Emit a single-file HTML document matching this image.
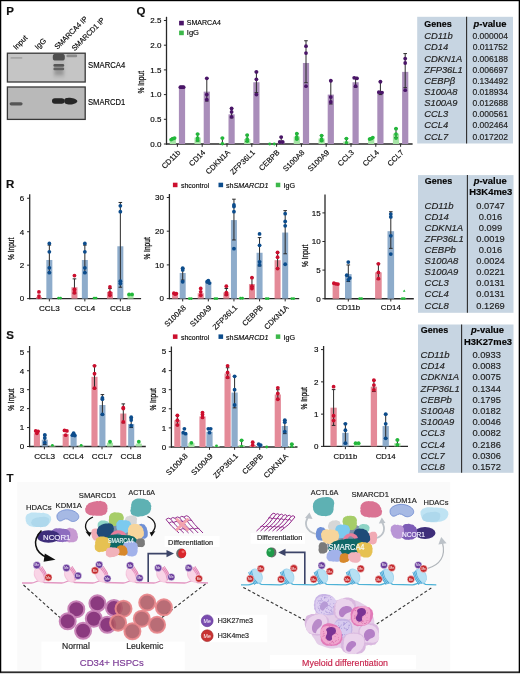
<!DOCTYPE html><html><head><meta charset="utf-8"><style>html,body{margin:0;padding:0;background:#fff;}svg{display:block;will-change:transform;}text{font-family:"Liberation Sans", sans-serif;}</style></head><body>
<svg width="520" height="674" viewBox="0 0 520 674">
<rect x="0" y="0" width="520" height="674" fill="#ffffff"/>
<text x="6.30" y="14.90" font-size="11.5" stroke="#111" stroke-width="0.16" font-weight="bold" fill="#111">P</text>
<text x="16.20" y="50.20" font-size="7.6" stroke="#1a1a1a" stroke-width="0.16" textLength="16.80" lengthAdjust="spacingAndGlyphs" transform="rotate(-45 16.20 50.20)">Input</text>
<text x="37.80" y="50.00" font-size="7.6" stroke="#1a1a1a" stroke-width="0.16" textLength="12.60" lengthAdjust="spacingAndGlyphs" transform="rotate(-45 37.80 50.00)">IgG</text>
<text x="57.60" y="49.80" font-size="7.6" stroke="#1a1a1a" stroke-width="0.16" textLength="43.00" lengthAdjust="spacingAndGlyphs" transform="rotate(-45 57.60 49.80)">SMARCA4 IP</text>
<text x="74.80" y="51.20" font-size="7.6" stroke="#1a1a1a" stroke-width="0.16" textLength="43.00" lengthAdjust="spacingAndGlyphs" transform="rotate(-45 74.80 51.20)">SMARCD1 IP</text>
<defs><filter id="bl1" x="-20%" y="-50%" width="140%" height="200%"><feGaussianBlur stdDeviation="0.9"/></filter><filter id="bl2" x="-20%" y="-50%" width="140%" height="200%"><feGaussianBlur stdDeviation="0.6"/></filter><filter id="bl3" x="-50%" y="-50%" width="200%" height="200%"><feGaussianBlur stdDeviation="1.6"/></filter></defs>
<rect x="7.4" y="53.2" width="77.8" height="28.8" fill="#c5c5c5" stroke="#383838" stroke-width="1.3"/>
<rect x="7.4" y="87.0" width="77.8" height="32.4" fill="#b9b9b9" stroke="#383838" stroke-width="1.3"/>
<g filter="url(#bl3)"><rect x="53.5" y="56" width="11" height="22" fill="#b8b8b8"/><rect x="54.5" y="69" width="9" height="6" fill="#969696"/></g>
<g filter="url(#bl2)"><rect x="52.8" y="53.8" width="12.0" height="6.8" rx="2.6" fill="#505050"/><rect x="53.4" y="64.0" width="10.8" height="2.7" rx="1.3" fill="#575757"/><rect x="53.4" y="67.6" width="10.8" height="2.6" rx="1.3" fill="#606060"/><rect x="66.4" y="54.6" width="10.8" height="2.6" rx="1.3" fill="#8c8c8c"/><rect x="10.4" y="57.0" width="12" height="1.8" rx="0.9" fill="#a6a6a6"/></g>
<g filter="url(#bl2)"><rect x="52.0" y="98.2" width="12.6" height="5.6" rx="2.8" fill="#252525"/><path d="M64.2,100.8 C64.2,98.4 66,97.8 70,97.8 C74,98.2 77,99.6 77.4,101.2 C77,102.8 74,104.3 70,104.6 C66,104.6 64.2,103.4 64.2,100.8Z" fill="#252525"/><rect x="9.6" y="102.2" width="13" height="3.2" rx="1.6" fill="#575757"/></g>
<text x="88.00" y="67.60" font-size="8.8" stroke="#1a1a1a" stroke-width="0.16" textLength="37.20" lengthAdjust="spacingAndGlyphs">SMARCA4</text>
<text x="88.00" y="104.80" font-size="8.8" stroke="#1a1a1a" stroke-width="0.16" textLength="37.20" lengthAdjust="spacingAndGlyphs">SMARCD1</text>
<text x="136.60" y="15.10" font-size="11.5" stroke="#111" stroke-width="0.16" font-weight="bold" fill="#111">Q</text>
<line x1="166.5" y1="16.8" x2="166.5" y2="144.6" stroke="#282828" stroke-width="1.3"/>
<line x1="166.0" y1="144.0" x2="412.6" y2="144.0" stroke="#282828" stroke-width="1.35"/>
<line x1="163.9" y1="144.00" x2="166.5" y2="144.00" stroke="#282828" stroke-width="1"/>
<text x="161.40" y="146.85" font-size="8.0" stroke="#1a1a1a" stroke-width="0.16" text-anchor="end">0.0</text>
<line x1="163.9" y1="119.30" x2="166.5" y2="119.30" stroke="#282828" stroke-width="1"/>
<text x="161.40" y="122.15" font-size="8.0" stroke="#1a1a1a" stroke-width="0.16" text-anchor="end">0.5</text>
<line x1="163.9" y1="94.60" x2="166.5" y2="94.60" stroke="#282828" stroke-width="1"/>
<text x="161.40" y="97.45" font-size="8.0" stroke="#1a1a1a" stroke-width="0.16" text-anchor="end">1.0</text>
<line x1="163.9" y1="69.90" x2="166.5" y2="69.90" stroke="#282828" stroke-width="1"/>
<text x="161.40" y="72.75" font-size="8.0" stroke="#1a1a1a" stroke-width="0.16" text-anchor="end">1.5</text>
<line x1="163.9" y1="45.20" x2="166.5" y2="45.20" stroke="#282828" stroke-width="1"/>
<text x="161.40" y="48.05" font-size="8.0" stroke="#1a1a1a" stroke-width="0.16" text-anchor="end">2.0</text>
<line x1="163.9" y1="20.50" x2="166.5" y2="20.50" stroke="#282828" stroke-width="1"/>
<text x="161.40" y="23.35" font-size="8.0" stroke="#1a1a1a" stroke-width="0.16" text-anchor="end">2.5</text>
<line x1="177.4" y1="144.0" x2="177.4" y2="146.8" stroke="#282828" stroke-width="1"/>
<rect x="169.70" y="139.06" width="6.2" height="4.94" fill="#a6e4a6"/>
<line x1="172.80" y1="138.07" x2="172.80" y2="139.55" stroke="#2a2a2a" stroke-width="1"/>
<line x1="171.00" y1="138.07" x2="174.60" y2="138.07" stroke="#2a2a2a" stroke-width="1"/>
<line x1="171.00" y1="139.55" x2="174.60" y2="139.55" stroke="#2a2a2a" stroke-width="1"/>
<circle cx="171.20" cy="139.55" r="1.9" fill="#22b83a"/>
<circle cx="173.00" cy="138.57" r="1.9" fill="#22b83a"/>
<circle cx="174.60" cy="138.07" r="1.9" fill="#22b83a"/>
<rect x="178.90" y="87.19" width="6.2" height="56.81" fill="#a98dba"/>
<line x1="182.00" y1="86.20" x2="182.00" y2="88.18" stroke="#2a2a2a" stroke-width="1"/>
<line x1="180.20" y1="86.20" x2="183.80" y2="86.20" stroke="#2a2a2a" stroke-width="1"/>
<line x1="180.20" y1="88.18" x2="183.80" y2="88.18" stroke="#2a2a2a" stroke-width="1"/>
<circle cx="180.40" cy="87.19" r="1.9" fill="#4a1568"/>
<circle cx="182.00" cy="87.19" r="1.9" fill="#4a1568"/>
<circle cx="183.60" cy="87.19" r="1.9" fill="#4a1568"/>
<line x1="202.20000000000002" y1="144.0" x2="202.20000000000002" y2="146.8" stroke="#282828" stroke-width="1"/>
<rect x="194.50" y="137.58" width="6.2" height="6.42" fill="#a6e4a6"/>
<line x1="197.60" y1="134.12" x2="197.60" y2="141.04" stroke="#2a2a2a" stroke-width="1"/>
<line x1="195.80" y1="134.12" x2="199.40" y2="134.12" stroke="#2a2a2a" stroke-width="1"/>
<line x1="195.80" y1="141.04" x2="199.40" y2="141.04" stroke="#2a2a2a" stroke-width="1"/>
<circle cx="197.60" cy="134.12" r="1.9" fill="#22b83a"/>
<circle cx="197.60" cy="138.07" r="1.9" fill="#22b83a"/>
<circle cx="197.60" cy="140.05" r="1.9" fill="#22b83a"/>
<rect x="203.70" y="91.64" width="6.2" height="52.36" fill="#a98dba"/>
<line x1="206.80" y1="78.30" x2="206.80" y2="101.02" stroke="#2a2a2a" stroke-width="1"/>
<line x1="205.00" y1="78.30" x2="208.60" y2="78.30" stroke="#2a2a2a" stroke-width="1"/>
<line x1="205.00" y1="101.02" x2="208.60" y2="101.02" stroke="#2a2a2a" stroke-width="1"/>
<circle cx="206.80" cy="78.30" r="1.9" fill="#4a1568"/>
<circle cx="206.80" cy="94.60" r="1.9" fill="#4a1568"/>
<circle cx="206.80" cy="99.54" r="1.9" fill="#4a1568"/>
<line x1="227.0" y1="144.0" x2="227.0" y2="146.8" stroke="#282828" stroke-width="1"/>
<rect x="219.30" y="143.01" width="6.2" height="0.99" fill="#a6e4a6"/>
<line x1="222.40" y1="138.07" x2="222.40" y2="144.00" stroke="#2a2a2a" stroke-width="1"/>
<line x1="220.60" y1="138.07" x2="224.20" y2="138.07" stroke="#2a2a2a" stroke-width="1"/>
<line x1="220.60" y1="144.00" x2="224.20" y2="144.00" stroke="#2a2a2a" stroke-width="1"/>
<circle cx="222.40" cy="138.07" r="1.9" fill="#22b83a"/>
<circle cx="222.40" cy="143.51" r="1.4" fill="#22b83a"/>
<circle cx="222.40" cy="144.00" r="1.4" fill="#22b83a"/>
<rect x="228.50" y="114.36" width="6.2" height="29.64" fill="#a98dba"/>
<line x1="231.60" y1="108.43" x2="231.60" y2="117.82" stroke="#2a2a2a" stroke-width="1"/>
<line x1="229.80" y1="108.43" x2="233.40" y2="108.43" stroke="#2a2a2a" stroke-width="1"/>
<line x1="229.80" y1="117.82" x2="233.40" y2="117.82" stroke="#2a2a2a" stroke-width="1"/>
<circle cx="231.60" cy="108.43" r="1.9" fill="#4a1568"/>
<circle cx="231.60" cy="111.89" r="1.9" fill="#4a1568"/>
<circle cx="231.60" cy="116.83" r="1.9" fill="#4a1568"/>
<line x1="251.8" y1="144.0" x2="251.8" y2="146.8" stroke="#282828" stroke-width="1"/>
<rect x="244.10" y="139.06" width="6.2" height="4.94" fill="#a6e4a6"/>
<line x1="247.20" y1="135.11" x2="247.20" y2="141.53" stroke="#2a2a2a" stroke-width="1"/>
<line x1="245.40" y1="135.11" x2="249.00" y2="135.11" stroke="#2a2a2a" stroke-width="1"/>
<line x1="245.40" y1="141.53" x2="249.00" y2="141.53" stroke="#2a2a2a" stroke-width="1"/>
<circle cx="247.20" cy="135.11" r="1.9" fill="#22b83a"/>
<circle cx="247.20" cy="139.06" r="1.9" fill="#22b83a"/>
<circle cx="247.20" cy="141.04" r="1.9" fill="#22b83a"/>
<rect x="253.30" y="82.25" width="6.2" height="61.75" fill="#a98dba"/>
<line x1="256.40" y1="71.88" x2="256.40" y2="92.62" stroke="#2a2a2a" stroke-width="1"/>
<line x1="254.60" y1="71.88" x2="258.20" y2="71.88" stroke="#2a2a2a" stroke-width="1"/>
<line x1="254.60" y1="92.62" x2="258.20" y2="92.62" stroke="#2a2a2a" stroke-width="1"/>
<circle cx="256.40" cy="71.88" r="1.9" fill="#4a1568"/>
<circle cx="256.40" cy="79.29" r="1.9" fill="#4a1568"/>
<circle cx="256.40" cy="94.60" r="1.9" fill="#4a1568"/>
<line x1="276.6" y1="144.0" x2="276.6" y2="146.8" stroke="#282828" stroke-width="1"/>
<circle cx="269.70" cy="144.00" r="1.4" fill="#22b83a"/>
<circle cx="274.30" cy="144.00" r="1.4" fill="#22b83a"/>
<rect x="278.10" y="141.04" width="6.2" height="2.96" fill="#a98dba"/>
<line x1="281.20" y1="137.08" x2="281.20" y2="143.01" stroke="#2a2a2a" stroke-width="1"/>
<line x1="279.40" y1="137.08" x2="283.00" y2="137.08" stroke="#2a2a2a" stroke-width="1"/>
<line x1="279.40" y1="143.01" x2="283.00" y2="143.01" stroke="#2a2a2a" stroke-width="1"/>
<circle cx="281.20" cy="137.08" r="1.9" fill="#4a1568"/>
<circle cx="279.70" cy="142.02" r="1.9" fill="#4a1568"/>
<circle cx="282.70" cy="142.02" r="1.9" fill="#4a1568"/>
<line x1="301.4" y1="144.0" x2="301.4" y2="146.8" stroke="#282828" stroke-width="1"/>
<rect x="293.70" y="136.59" width="6.2" height="7.41" fill="#a6e4a6"/>
<line x1="296.80" y1="133.63" x2="296.80" y2="139.06" stroke="#2a2a2a" stroke-width="1"/>
<line x1="295.00" y1="133.63" x2="298.60" y2="133.63" stroke="#2a2a2a" stroke-width="1"/>
<line x1="295.00" y1="139.06" x2="298.60" y2="139.06" stroke="#2a2a2a" stroke-width="1"/>
<circle cx="296.80" cy="133.63" r="1.9" fill="#22b83a"/>
<circle cx="296.80" cy="137.08" r="1.9" fill="#22b83a"/>
<circle cx="296.80" cy="139.06" r="1.9" fill="#22b83a"/>
<rect x="302.90" y="62.98" width="6.2" height="81.02" fill="#a98dba"/>
<line x1="306.00" y1="40.75" x2="306.00" y2="82.74" stroke="#2a2a2a" stroke-width="1"/>
<line x1="304.20" y1="40.75" x2="307.80" y2="40.75" stroke="#2a2a2a" stroke-width="1"/>
<line x1="304.20" y1="82.74" x2="307.80" y2="82.74" stroke="#2a2a2a" stroke-width="1"/>
<circle cx="306.00" cy="46.19" r="1.9" fill="#4a1568"/>
<circle cx="306.00" cy="53.10" r="1.9" fill="#4a1568"/>
<circle cx="306.00" cy="86.20" r="1.9" fill="#4a1568"/>
<line x1="326.20000000000005" y1="144.0" x2="326.20000000000005" y2="146.8" stroke="#282828" stroke-width="1"/>
<rect x="318.50" y="138.57" width="6.2" height="5.43" fill="#a6e4a6"/>
<line x1="321.60" y1="135.60" x2="321.60" y2="141.04" stroke="#2a2a2a" stroke-width="1"/>
<line x1="319.80" y1="135.60" x2="323.40" y2="135.60" stroke="#2a2a2a" stroke-width="1"/>
<line x1="319.80" y1="141.04" x2="323.40" y2="141.04" stroke="#2a2a2a" stroke-width="1"/>
<circle cx="321.60" cy="135.60" r="1.9" fill="#22b83a"/>
<circle cx="321.60" cy="139.06" r="1.9" fill="#22b83a"/>
<circle cx="321.60" cy="140.54" r="1.9" fill="#22b83a"/>
<rect x="327.70" y="94.60" width="6.2" height="49.40" fill="#a98dba"/>
<line x1="330.80" y1="80.77" x2="330.80" y2="103.99" stroke="#2a2a2a" stroke-width="1"/>
<line x1="329.00" y1="80.77" x2="332.60" y2="80.77" stroke="#2a2a2a" stroke-width="1"/>
<line x1="329.00" y1="103.99" x2="332.60" y2="103.99" stroke="#2a2a2a" stroke-width="1"/>
<circle cx="330.80" cy="80.77" r="1.9" fill="#4a1568"/>
<circle cx="330.80" cy="97.07" r="1.9" fill="#4a1568"/>
<circle cx="330.80" cy="102.01" r="1.9" fill="#4a1568"/>
<line x1="351.0" y1="144.0" x2="351.0" y2="146.8" stroke="#282828" stroke-width="1"/>
<rect x="343.30" y="141.53" width="6.2" height="2.47" fill="#a6e4a6"/>
<line x1="346.40" y1="138.57" x2="346.40" y2="144.00" stroke="#2a2a2a" stroke-width="1"/>
<line x1="344.60" y1="138.57" x2="348.20" y2="138.57" stroke="#2a2a2a" stroke-width="1"/>
<line x1="344.60" y1="144.00" x2="348.20" y2="144.00" stroke="#2a2a2a" stroke-width="1"/>
<circle cx="346.40" cy="138.57" r="1.9" fill="#22b83a"/>
<circle cx="346.40" cy="142.52" r="1.4" fill="#22b83a"/>
<circle cx="346.40" cy="143.01" r="1.4" fill="#22b83a"/>
<rect x="352.50" y="82.25" width="6.2" height="61.75" fill="#a98dba"/>
<line x1="355.60" y1="77.31" x2="355.60" y2="87.19" stroke="#2a2a2a" stroke-width="1"/>
<line x1="353.80" y1="77.31" x2="357.40" y2="77.31" stroke="#2a2a2a" stroke-width="1"/>
<line x1="353.80" y1="87.19" x2="357.40" y2="87.19" stroke="#2a2a2a" stroke-width="1"/>
<circle cx="354.20" cy="77.80" r="1.9" fill="#4a1568"/>
<circle cx="357.00" cy="78.30" r="1.9" fill="#4a1568"/>
<circle cx="355.60" cy="86.20" r="1.9" fill="#4a1568"/>
<line x1="375.8" y1="144.0" x2="375.8" y2="146.8" stroke="#282828" stroke-width="1"/>
<rect x="368.10" y="138.57" width="6.2" height="5.43" fill="#a6e4a6"/>
<line x1="371.20" y1="138.07" x2="371.20" y2="139.06" stroke="#2a2a2a" stroke-width="1"/>
<line x1="369.40" y1="138.07" x2="373.00" y2="138.07" stroke="#2a2a2a" stroke-width="1"/>
<line x1="369.40" y1="139.06" x2="373.00" y2="139.06" stroke="#2a2a2a" stroke-width="1"/>
<circle cx="369.60" cy="139.06" r="1.9" fill="#22b83a"/>
<circle cx="371.20" cy="138.57" r="1.9" fill="#22b83a"/>
<circle cx="372.80" cy="137.58" r="1.9" fill="#22b83a"/>
<rect x="377.30" y="91.14" width="6.2" height="52.86" fill="#a98dba"/>
<line x1="380.40" y1="81.76" x2="380.40" y2="94.60" stroke="#2a2a2a" stroke-width="1"/>
<line x1="378.60" y1="81.76" x2="382.20" y2="81.76" stroke="#2a2a2a" stroke-width="1"/>
<line x1="378.60" y1="94.60" x2="382.20" y2="94.60" stroke="#2a2a2a" stroke-width="1"/>
<circle cx="380.40" cy="81.76" r="1.9" fill="#4a1568"/>
<circle cx="378.90" cy="92.13" r="1.9" fill="#4a1568"/>
<circle cx="381.90" cy="92.62" r="1.9" fill="#4a1568"/>
<line x1="400.6" y1="144.0" x2="400.6" y2="146.8" stroke="#282828" stroke-width="1"/>
<rect x="392.90" y="133.63" width="6.2" height="10.37" fill="#a6e4a6"/>
<line x1="396.00" y1="128.69" x2="396.00" y2="137.58" stroke="#2a2a2a" stroke-width="1"/>
<line x1="394.20" y1="128.69" x2="397.80" y2="128.69" stroke="#2a2a2a" stroke-width="1"/>
<line x1="394.20" y1="137.58" x2="397.80" y2="137.58" stroke="#2a2a2a" stroke-width="1"/>
<circle cx="396.00" cy="128.69" r="1.9" fill="#22b83a"/>
<circle cx="396.00" cy="134.12" r="1.9" fill="#22b83a"/>
<circle cx="396.00" cy="138.07" r="1.9" fill="#22b83a"/>
<rect x="402.10" y="71.88" width="6.2" height="72.12" fill="#a98dba"/>
<line x1="405.20" y1="53.60" x2="405.20" y2="87.68" stroke="#2a2a2a" stroke-width="1"/>
<line x1="403.40" y1="53.60" x2="407.00" y2="53.60" stroke="#2a2a2a" stroke-width="1"/>
<line x1="403.40" y1="87.68" x2="407.00" y2="87.68" stroke="#2a2a2a" stroke-width="1"/>
<circle cx="405.20" cy="58.54" r="1.9" fill="#4a1568"/>
<circle cx="405.20" cy="62.98" r="1.9" fill="#4a1568"/>
<circle cx="405.20" cy="90.15" r="1.9" fill="#4a1568"/>
<text x="181.00" y="153.00" font-size="7.6" stroke="#1a1a1a" stroke-width="0.16" text-anchor="end" transform="rotate(-45 181.00 153.00)">CD11b</text>
<text x="205.80" y="153.00" font-size="7.6" stroke="#1a1a1a" stroke-width="0.16" text-anchor="end" transform="rotate(-45 205.80 153.00)">CD14</text>
<text x="230.60" y="153.00" font-size="7.6" stroke="#1a1a1a" stroke-width="0.16" text-anchor="end" transform="rotate(-45 230.60 153.00)">CDKN1A</text>
<text x="255.40" y="153.00" font-size="7.6" stroke="#1a1a1a" stroke-width="0.16" text-anchor="end" transform="rotate(-45 255.40 153.00)">ZFP36L1</text>
<text x="280.20" y="153.00" font-size="7.6" stroke="#1a1a1a" stroke-width="0.16" text-anchor="end" transform="rotate(-45 280.20 153.00)">CEBPB</text>
<text x="305.00" y="153.00" font-size="7.6" stroke="#1a1a1a" stroke-width="0.16" text-anchor="end" transform="rotate(-45 305.00 153.00)">S100A8</text>
<text x="329.80" y="153.00" font-size="7.6" stroke="#1a1a1a" stroke-width="0.16" text-anchor="end" transform="rotate(-45 329.80 153.00)">S100A9</text>
<text x="354.60" y="153.00" font-size="7.6" stroke="#1a1a1a" stroke-width="0.16" text-anchor="end" transform="rotate(-45 354.60 153.00)">CCL3</text>
<text x="379.40" y="153.00" font-size="7.6" stroke="#1a1a1a" stroke-width="0.16" text-anchor="end" transform="rotate(-45 379.40 153.00)">CCL4</text>
<text x="404.20" y="153.00" font-size="7.6" stroke="#1a1a1a" stroke-width="0.16" text-anchor="end" transform="rotate(-45 404.20 153.00)">CCL7</text>
<text x="144.20" y="82.30" font-size="9.6" stroke="#1a1a1a" stroke-width="0.3" text-anchor="middle" textLength="22.60" lengthAdjust="spacingAndGlyphs" transform="rotate(-90 144.20 82.30)">% Input</text>
<rect x="179.1" y="20.8" width="4.7" height="4.6" fill="#4a1568"/>
<text x="186.80" y="25.20" font-size="8.0" stroke="#1a1a1a" stroke-width="0.16" textLength="34.00" lengthAdjust="spacingAndGlyphs">SMARCA4</text>
<rect x="179.1" y="30.6" width="4.7" height="4.6" fill="#3cb84a"/>
<text x="186.80" y="35.00" font-size="8.0" stroke="#1a1a1a" stroke-width="0.16" textLength="12.20" lengthAdjust="spacingAndGlyphs">IgG</text>
<rect x="417.2" y="16.8" width="95.80000000000001" height="126.7" fill="#c7d5e2"/>
<line x1="466.6" y1="16.8" x2="466.6" y2="143.5" stroke="#2b2b2b" stroke-width="1.1"/>
<text x="424.30" y="26.50" font-size="9.0" stroke="#050505" stroke-width="0.16" font-weight="bold" fill="#050505" textLength="27.30" lengthAdjust="spacingAndGlyphs">Genes</text>
<text x="490.00" y="26.50" font-size="9.0" stroke="#050505" stroke-width="0.16" text-anchor="middle" font-weight="bold" fill="#050505" textLength="33.00" lengthAdjust="spacingAndGlyphs"><tspan font-style="italic">p</tspan>-value</text>
<text x="424.20" y="39.30" font-size="9.4" stroke="#222" stroke-width="0.16" font-style="italic" fill="#222">CD11b</text>
<text x="490.20" y="39.30" font-size="8.5" stroke="#222" stroke-width="0.16" text-anchor="middle" fill="#222">0.000004</text>
<text x="424.20" y="50.44" font-size="9.4" stroke="#222" stroke-width="0.16" font-style="italic" fill="#222">CD14</text>
<text x="490.20" y="50.44" font-size="8.5" stroke="#222" stroke-width="0.16" text-anchor="middle" fill="#222">0.011752</text>
<text x="424.20" y="61.58" font-size="9.4" stroke="#222" stroke-width="0.16" font-style="italic" fill="#222">CDKN1A</text>
<text x="490.20" y="61.58" font-size="8.5" stroke="#222" stroke-width="0.16" text-anchor="middle" fill="#222">0.006188</text>
<text x="424.20" y="72.72" font-size="9.4" stroke="#222" stroke-width="0.16" font-style="italic" fill="#222">ZFP36L1</text>
<text x="490.20" y="72.72" font-size="8.5" stroke="#222" stroke-width="0.16" text-anchor="middle" fill="#222">0.006697</text>
<text x="424.20" y="83.86" font-size="9.4" stroke="#222" stroke-width="0.16" font-style="italic" fill="#222">CEBP&#946;</text>
<text x="490.20" y="83.86" font-size="8.5" stroke="#222" stroke-width="0.16" text-anchor="middle" fill="#222">0.134492</text>
<text x="424.20" y="95.00" font-size="9.4" stroke="#222" stroke-width="0.16" font-style="italic" fill="#222">S100A8</text>
<text x="490.20" y="95.00" font-size="8.5" stroke="#222" stroke-width="0.16" text-anchor="middle" fill="#222">0.018934</text>
<text x="424.20" y="106.14" font-size="9.4" stroke="#222" stroke-width="0.16" font-style="italic" fill="#222">S100A9</text>
<text x="490.20" y="106.14" font-size="8.5" stroke="#222" stroke-width="0.16" text-anchor="middle" fill="#222">0.012688</text>
<text x="424.20" y="117.28" font-size="9.4" stroke="#222" stroke-width="0.16" font-style="italic" fill="#222">CCL3</text>
<text x="490.20" y="117.28" font-size="8.5" stroke="#222" stroke-width="0.16" text-anchor="middle" fill="#222">0.000561</text>
<text x="424.20" y="128.42" font-size="9.4" stroke="#222" stroke-width="0.16" font-style="italic" fill="#222">CCL4</text>
<text x="490.20" y="128.42" font-size="8.5" stroke="#222" stroke-width="0.16" text-anchor="middle" fill="#222">0.002464</text>
<text x="424.20" y="139.56" font-size="9.4" stroke="#222" stroke-width="0.16" font-style="italic" fill="#222">CCL7</text>
<text x="490.20" y="139.56" font-size="8.5" stroke="#222" stroke-width="0.16" text-anchor="middle" fill="#222">0.017202</text>
<rect x="418.0" y="175.1" width="95.5" height="137.70000000000002" fill="#c7d5e2"/>
<line x1="467.4" y1="175.1" x2="467.4" y2="312.8" stroke="#2b2b2b" stroke-width="1.1"/>
<text x="424.80" y="184.30" font-size="9.0" stroke="#050505" stroke-width="0.16" font-weight="bold" fill="#050505" textLength="27.30" lengthAdjust="spacingAndGlyphs">Genes</text>
<text x="490.20" y="184.30" font-size="9.0" stroke="#050505" stroke-width="0.16" text-anchor="middle" font-weight="bold" fill="#050505" textLength="33.00" lengthAdjust="spacingAndGlyphs"><tspan font-style="italic">p</tspan>-value</text>
<text x="490.80" y="194.90" font-size="9.0" stroke="#050505" stroke-width="0.16" text-anchor="middle" font-weight="bold" fill="#050505" textLength="43.00" lengthAdjust="spacingAndGlyphs">H3K4me3</text>
<text x="424.60" y="208.80" font-size="9.5" stroke="#222" stroke-width="0.16" font-style="italic" fill="#222">CD11b</text>
<text x="490.50" y="208.80" font-size="9.3" stroke="#222" stroke-width="0.16" text-anchor="middle" fill="#222">0.0747</text>
<text x="424.60" y="219.88" font-size="9.5" stroke="#222" stroke-width="0.16" font-style="italic" fill="#222">CD14</text>
<text x="490.50" y="219.88" font-size="9.3" stroke="#222" stroke-width="0.16" text-anchor="middle" fill="#222">0.016</text>
<text x="424.60" y="230.96" font-size="9.5" stroke="#222" stroke-width="0.16" font-style="italic" fill="#222">CDKN1A</text>
<text x="490.50" y="230.96" font-size="9.3" stroke="#222" stroke-width="0.16" text-anchor="middle" fill="#222">0.099</text>
<text x="424.60" y="242.04" font-size="9.5" stroke="#222" stroke-width="0.16" font-style="italic" fill="#222">ZFP36L1</text>
<text x="490.50" y="242.04" font-size="9.3" stroke="#222" stroke-width="0.16" text-anchor="middle" fill="#222">0.0019</text>
<text x="424.60" y="253.12" font-size="9.5" stroke="#222" stroke-width="0.16" font-style="italic" fill="#222">CEBPb</text>
<text x="490.50" y="253.12" font-size="9.3" stroke="#222" stroke-width="0.16" text-anchor="middle" fill="#222">0.016</text>
<text x="424.60" y="264.20" font-size="9.5" stroke="#222" stroke-width="0.16" font-style="italic" fill="#222">S100A8</text>
<text x="490.50" y="264.20" font-size="9.3" stroke="#222" stroke-width="0.16" text-anchor="middle" fill="#222">0.0024</text>
<text x="424.60" y="275.28" font-size="9.5" stroke="#222" stroke-width="0.16" font-style="italic" fill="#222">S100A9</text>
<text x="490.50" y="275.28" font-size="9.3" stroke="#222" stroke-width="0.16" text-anchor="middle" fill="#222">0.0221</text>
<text x="424.60" y="286.36" font-size="9.5" stroke="#222" stroke-width="0.16" font-style="italic" fill="#222">CCL3</text>
<text x="490.50" y="286.36" font-size="9.3" stroke="#222" stroke-width="0.16" text-anchor="middle" fill="#222">0.0131</text>
<text x="424.60" y="297.44" font-size="9.5" stroke="#222" stroke-width="0.16" font-style="italic" fill="#222">CCL4</text>
<text x="490.50" y="297.44" font-size="9.3" stroke="#222" stroke-width="0.16" text-anchor="middle" fill="#222">0.0131</text>
<text x="424.60" y="308.52" font-size="9.5" stroke="#222" stroke-width="0.16" font-style="italic" fill="#222">CCL8</text>
<text x="490.50" y="308.52" font-size="9.3" stroke="#222" stroke-width="0.16" text-anchor="middle" fill="#222">0.1269</text>
<rect x="418.0" y="324.5" width="95.5" height="148.3" fill="#c7d5e2"/>
<line x1="461.6" y1="324.5" x2="461.6" y2="472.8" stroke="#2b2b2b" stroke-width="1.1"/>
<text x="420.80" y="333.10" font-size="9.0" stroke="#050505" stroke-width="0.16" font-weight="bold" fill="#050505" textLength="27.30" lengthAdjust="spacingAndGlyphs">Genes</text>
<text x="487.60" y="333.10" font-size="9.0" stroke="#050505" stroke-width="0.16" text-anchor="middle" font-weight="bold" fill="#050505" textLength="33.00" lengthAdjust="spacingAndGlyphs"><tspan font-style="italic">p</tspan>-value</text>
<text x="488.10" y="344.60" font-size="9.0" stroke="#050505" stroke-width="0.16" text-anchor="middle" font-weight="bold" fill="#050505" textLength="48.00" lengthAdjust="spacingAndGlyphs">H3K27me3</text>
<text x="420.60" y="358.00" font-size="9.5" stroke="#222" stroke-width="0.16" font-style="italic" fill="#222">CD11b</text>
<text x="486.60" y="358.00" font-size="9.3" stroke="#222" stroke-width="0.16" text-anchor="middle" fill="#222">0.0933</text>
<text x="420.60" y="369.20" font-size="9.5" stroke="#222" stroke-width="0.16" font-style="italic" fill="#222">CD14</text>
<text x="486.60" y="369.20" font-size="9.3" stroke="#222" stroke-width="0.16" text-anchor="middle" fill="#222">0.0083</text>
<text x="420.60" y="380.40" font-size="9.5" stroke="#222" stroke-width="0.16" font-style="italic" fill="#222">CDKN1A</text>
<text x="486.60" y="380.40" font-size="9.3" stroke="#222" stroke-width="0.16" text-anchor="middle" fill="#222">0.0075</text>
<text x="420.60" y="391.60" font-size="9.5" stroke="#222" stroke-width="0.16" font-style="italic" fill="#222">ZFP36L1</text>
<text x="486.60" y="391.60" font-size="9.3" stroke="#222" stroke-width="0.16" text-anchor="middle" fill="#222">0.1344</text>
<text x="420.60" y="402.80" font-size="9.5" stroke="#222" stroke-width="0.16" font-style="italic" fill="#222">CEBPb</text>
<text x="486.60" y="402.80" font-size="9.3" stroke="#222" stroke-width="0.16" text-anchor="middle" fill="#222">0.1795</text>
<text x="420.60" y="414.00" font-size="9.5" stroke="#222" stroke-width="0.16" font-style="italic" fill="#222">S100A8</text>
<text x="486.60" y="414.00" font-size="9.3" stroke="#222" stroke-width="0.16" text-anchor="middle" fill="#222">0.0182</text>
<text x="420.60" y="425.20" font-size="9.5" stroke="#222" stroke-width="0.16" font-style="italic" fill="#222">S100A9</text>
<text x="486.60" y="425.20" font-size="9.3" stroke="#222" stroke-width="0.16" text-anchor="middle" fill="#222">0.0046</text>
<text x="420.60" y="436.40" font-size="9.5" stroke="#222" stroke-width="0.16" font-style="italic" fill="#222">CCL3</text>
<text x="486.60" y="436.40" font-size="9.3" stroke="#222" stroke-width="0.16" text-anchor="middle" fill="#222">0.0082</text>
<text x="420.60" y="447.60" font-size="9.5" stroke="#222" stroke-width="0.16" font-style="italic" fill="#222">CCL4</text>
<text x="486.60" y="447.60" font-size="9.3" stroke="#222" stroke-width="0.16" text-anchor="middle" fill="#222">0.2186</text>
<text x="420.60" y="458.80" font-size="9.5" stroke="#222" stroke-width="0.16" font-style="italic" fill="#222">CCL7</text>
<text x="486.60" y="458.80" font-size="9.3" stroke="#222" stroke-width="0.16" text-anchor="middle" fill="#222">0.0306</text>
<text x="420.60" y="470.00" font-size="9.5" stroke="#222" stroke-width="0.16" font-style="italic" fill="#222">CCL8</text>
<text x="486.60" y="470.00" font-size="9.3" stroke="#222" stroke-width="0.16" text-anchor="middle" fill="#222">0.1572</text>
<text x="6.00" y="187.60" font-size="11.5" stroke="#111" stroke-width="0.16" font-weight="bold" fill="#111">R</text>
<rect x="172.9" y="182.70000000000002" width="4.6" height="4.5" fill="#cc0f2e"/>
<text x="181.00" y="188.00" font-size="7.8" stroke="#1a1a1a" stroke-width="0.16" textLength="28.20" lengthAdjust="spacingAndGlyphs">shcontrol</text>
<rect x="218.5" y="182.70000000000002" width="4.6" height="4.5" fill="#0c4c8c"/>
<text x="226.00" y="188.00" font-size="7.8" stroke="#1a1a1a" stroke-width="0.16" textLength="42.50" lengthAdjust="spacingAndGlyphs">sh<tspan font-style="italic">SMARCD1</tspan></text>
<rect x="275.8" y="182.70000000000002" width="4.5" height="4.5" fill="#3cb84a"/>
<text x="283.40" y="188.00" font-size="7.8" stroke="#1a1a1a" stroke-width="0.16" textLength="11.60" lengthAdjust="spacingAndGlyphs">IgG</text>
<line x1="29.7" y1="194.2" x2="29.7" y2="299.20000000000005" stroke="#282828" stroke-width="1.3"/>
<line x1="29.2" y1="298.6" x2="141.1" y2="298.6" stroke="#282828" stroke-width="1.35"/>
<line x1="27.099999999999998" y1="298.60" x2="29.7" y2="298.60" stroke="#282828" stroke-width="1"/>
<text x="24.20" y="301.45" font-size="8.0" stroke="#1a1a1a" stroke-width="0.16" text-anchor="end">0</text>
<line x1="27.099999999999998" y1="265.16" x2="29.7" y2="265.16" stroke="#282828" stroke-width="1"/>
<text x="24.20" y="268.01" font-size="8.0" stroke="#1a1a1a" stroke-width="0.16" text-anchor="end">2</text>
<line x1="27.099999999999998" y1="231.72" x2="29.7" y2="231.72" stroke="#282828" stroke-width="1"/>
<text x="24.20" y="234.57" font-size="8.0" stroke="#1a1a1a" stroke-width="0.16" text-anchor="end">4</text>
<line x1="27.099999999999998" y1="198.28" x2="29.7" y2="198.28" stroke="#282828" stroke-width="1"/>
<text x="24.20" y="201.13" font-size="8.0" stroke="#1a1a1a" stroke-width="0.16" text-anchor="end">6</text>
<line x1="49.35" y1="298.6" x2="49.35" y2="301.40000000000003" stroke="#282828" stroke-width="1"/>
<rect x="35.95" y="296.93" width="6.0" height="1.67" fill="#e48a98"/>
<circle cx="38.95" cy="291.91" r="1.9" fill="#cc0f2e"/>
<circle cx="38.95" cy="296.09" r="1.9" fill="#cc0f2e"/>
<circle cx="38.95" cy="297.76" r="1.4" fill="#cc0f2e"/>
<rect x="46.35" y="259.98" width="6.0" height="38.62" fill="#8eaccb"/>
<line x1="49.35" y1="245.10" x2="49.35" y2="272.68" stroke="#2a2a2a" stroke-width="1"/>
<line x1="47.55" y1="245.10" x2="51.15" y2="245.10" stroke="#2a2a2a" stroke-width="1"/>
<line x1="47.55" y1="272.68" x2="51.15" y2="272.68" stroke="#2a2a2a" stroke-width="1"/>
<circle cx="49.35" cy="243.42" r="1.9" fill="#0c4c8c"/>
<circle cx="49.35" cy="251.78" r="1.9" fill="#0c4c8c"/>
<circle cx="49.35" cy="267.84" r="1.9" fill="#0c4c8c"/>
<circle cx="49.35" cy="272.68" r="1.9" fill="#0c4c8c"/>
<circle cx="58.55" cy="298.10" r="1.4" fill="#22b83a"/>
<circle cx="60.55" cy="298.10" r="1.4" fill="#22b83a"/>
<line x1="84.85" y1="298.6" x2="84.85" y2="301.40000000000003" stroke="#282828" stroke-width="1"/>
<rect x="71.45" y="287.23" width="6.0" height="11.37" fill="#e48a98"/>
<line x1="74.45" y1="278.87" x2="74.45" y2="293.58" stroke="#2a2a2a" stroke-width="1"/>
<line x1="72.65" y1="278.87" x2="76.25" y2="278.87" stroke="#2a2a2a" stroke-width="1"/>
<line x1="72.65" y1="293.58" x2="76.25" y2="293.58" stroke="#2a2a2a" stroke-width="1"/>
<circle cx="74.45" cy="275.53" r="1.9" fill="#cc0f2e"/>
<circle cx="74.45" cy="289.40" r="1.9" fill="#cc0f2e"/>
<circle cx="74.45" cy="292.75" r="1.9" fill="#cc0f2e"/>
<rect x="81.85" y="259.98" width="6.0" height="38.62" fill="#8eaccb"/>
<line x1="84.85" y1="245.10" x2="84.85" y2="272.68" stroke="#2a2a2a" stroke-width="1"/>
<line x1="83.05" y1="245.10" x2="86.65" y2="245.10" stroke="#2a2a2a" stroke-width="1"/>
<line x1="83.05" y1="272.68" x2="86.65" y2="272.68" stroke="#2a2a2a" stroke-width="1"/>
<circle cx="84.85" cy="243.42" r="1.9" fill="#0c4c8c"/>
<circle cx="84.85" cy="251.78" r="1.9" fill="#0c4c8c"/>
<circle cx="84.85" cy="267.84" r="1.9" fill="#0c4c8c"/>
<circle cx="84.85" cy="272.68" r="1.9" fill="#0c4c8c"/>
<circle cx="94.05" cy="298.10" r="1.4" fill="#22b83a"/>
<circle cx="96.05" cy="298.10" r="1.4" fill="#22b83a"/>
<line x1="120.35" y1="298.6" x2="120.35" y2="301.40000000000003" stroke="#282828" stroke-width="1"/>
<rect x="106.95" y="291.91" width="6.0" height="6.69" fill="#e48a98"/>
<line x1="109.95" y1="288.57" x2="109.95" y2="295.26" stroke="#2a2a2a" stroke-width="1"/>
<line x1="108.15" y1="288.57" x2="111.75" y2="288.57" stroke="#2a2a2a" stroke-width="1"/>
<line x1="108.15" y1="295.26" x2="111.75" y2="295.26" stroke="#2a2a2a" stroke-width="1"/>
<circle cx="109.95" cy="286.90" r="1.9" fill="#cc0f2e"/>
<circle cx="109.95" cy="292.75" r="1.9" fill="#cc0f2e"/>
<circle cx="109.95" cy="295.26" r="1.9" fill="#cc0f2e"/>
<rect x="117.35" y="246.27" width="6.0" height="52.33" fill="#8eaccb"/>
<line x1="120.35" y1="202.46" x2="120.35" y2="287.23" stroke="#2a2a2a" stroke-width="1"/>
<line x1="118.55" y1="202.46" x2="122.15" y2="202.46" stroke="#2a2a2a" stroke-width="1"/>
<line x1="118.55" y1="287.23" x2="122.15" y2="287.23" stroke="#2a2a2a" stroke-width="1"/>
<circle cx="120.35" cy="205.80" r="1.9" fill="#0c4c8c"/>
<circle cx="120.35" cy="211.66" r="1.9" fill="#0c4c8c"/>
<circle cx="120.35" cy="281.21" r="1.9" fill="#0c4c8c"/>
<circle cx="120.35" cy="283.55" r="1.9" fill="#0c4c8c"/>
<rect x="127.55" y="294.42" width="6.0" height="4.18" fill="#a6e4a6"/>
<circle cx="129.05" cy="294.42" r="1.9" fill="#22b83a"/>
<circle cx="132.05" cy="294.42" r="1.9" fill="#22b83a"/>
<text x="49.35" y="310.60" font-size="7.8" stroke="#1a1a1a" stroke-width="0.16" text-anchor="middle" textLength="20.80" lengthAdjust="spacingAndGlyphs">CCL3</text>
<text x="84.85" y="310.60" font-size="7.8" stroke="#1a1a1a" stroke-width="0.16" text-anchor="middle" textLength="20.80" lengthAdjust="spacingAndGlyphs">CCL4</text>
<text x="120.35" y="310.60" font-size="7.8" stroke="#1a1a1a" stroke-width="0.16" text-anchor="middle" textLength="20.80" lengthAdjust="spacingAndGlyphs">CCL8</text>
<text x="14.20" y="248.80" font-size="9.6" stroke="#1a1a1a" stroke-width="0.3" text-anchor="middle" textLength="22.30" lengthAdjust="spacingAndGlyphs" transform="rotate(-90 14.20 248.80)">% Input</text>
<line x1="169.4" y1="194.0" x2="169.4" y2="299.20000000000005" stroke="#282828" stroke-width="1.3"/>
<line x1="168.9" y1="298.6" x2="299.2" y2="298.6" stroke="#282828" stroke-width="1.35"/>
<line x1="166.8" y1="298.60" x2="169.4" y2="298.60" stroke="#282828" stroke-width="1"/>
<text x="164.00" y="301.45" font-size="8.0" stroke="#1a1a1a" stroke-width="0.16" text-anchor="end">0</text>
<line x1="166.8" y1="264.90" x2="169.4" y2="264.90" stroke="#282828" stroke-width="1"/>
<text x="164.00" y="267.75" font-size="8.0" stroke="#1a1a1a" stroke-width="0.16" text-anchor="end">10</text>
<line x1="166.8" y1="231.20" x2="169.4" y2="231.20" stroke="#282828" stroke-width="1"/>
<text x="164.00" y="234.05" font-size="8.0" stroke="#1a1a1a" stroke-width="0.16" text-anchor="end">20</text>
<line x1="166.8" y1="197.50" x2="169.4" y2="197.50" stroke="#282828" stroke-width="1"/>
<text x="164.00" y="200.35" font-size="8.0" stroke="#1a1a1a" stroke-width="0.16" text-anchor="end">30</text>
<line x1="182.7" y1="298.6" x2="182.7" y2="301.40000000000003" stroke="#282828" stroke-width="1"/>
<rect x="172.10" y="293.55" width="6.0" height="5.06" fill="#e48a98"/>
<circle cx="173.90" cy="293.21" r="1.9" fill="#cc0f2e"/>
<circle cx="176.30" cy="293.55" r="1.9" fill="#cc0f2e"/>
<circle cx="175.10" cy="294.22" r="1.9" fill="#cc0f2e"/>
<rect x="179.70" y="272.99" width="6.0" height="25.61" fill="#8eaccb"/>
<line x1="182.70" y1="268.27" x2="182.70" y2="280.06" stroke="#2a2a2a" stroke-width="1"/>
<line x1="180.90" y1="268.27" x2="184.50" y2="268.27" stroke="#2a2a2a" stroke-width="1"/>
<line x1="180.90" y1="280.06" x2="184.50" y2="280.06" stroke="#2a2a2a" stroke-width="1"/>
<circle cx="182.70" cy="268.27" r="1.9" fill="#0c4c8c"/>
<circle cx="182.70" cy="269.96" r="1.9" fill="#0c4c8c"/>
<circle cx="182.70" cy="281.75" r="1.9" fill="#0c4c8c"/>
<circle cx="189.30" cy="298.60" r="1.4" fill="#22b83a"/>
<circle cx="191.30" cy="298.60" r="1.4" fill="#22b83a"/>
<line x1="208.32" y1="298.6" x2="208.32" y2="301.40000000000003" stroke="#282828" stroke-width="1"/>
<rect x="197.72" y="293.21" width="6.0" height="5.39" fill="#e48a98"/>
<circle cx="200.72" cy="288.49" r="1.9" fill="#cc0f2e"/>
<circle cx="200.72" cy="291.86" r="1.9" fill="#cc0f2e"/>
<circle cx="200.72" cy="295.23" r="1.9" fill="#cc0f2e"/>
<rect x="205.32" y="281.75" width="6.0" height="16.85" fill="#8eaccb"/>
<line x1="208.32" y1="280.74" x2="208.32" y2="283.10" stroke="#2a2a2a" stroke-width="1"/>
<line x1="206.52" y1="280.74" x2="210.12" y2="280.74" stroke="#2a2a2a" stroke-width="1"/>
<line x1="206.52" y1="283.10" x2="210.12" y2="283.10" stroke="#2a2a2a" stroke-width="1"/>
<circle cx="208.32" cy="280.74" r="1.9" fill="#0c4c8c"/>
<circle cx="207.12" cy="281.75" r="1.9" fill="#0c4c8c"/>
<circle cx="209.52" cy="283.10" r="1.9" fill="#0c4c8c"/>
<circle cx="214.92" cy="298.60" r="1.4" fill="#22b83a"/>
<circle cx="216.92" cy="298.60" r="1.4" fill="#22b83a"/>
<line x1="233.94" y1="298.6" x2="233.94" y2="301.40000000000003" stroke="#282828" stroke-width="1"/>
<rect x="223.34" y="292.53" width="6.0" height="6.07" fill="#e48a98"/>
<line x1="226.34" y1="288.49" x2="226.34" y2="295.23" stroke="#2a2a2a" stroke-width="1"/>
<line x1="224.54" y1="288.49" x2="228.14" y2="288.49" stroke="#2a2a2a" stroke-width="1"/>
<line x1="224.54" y1="295.23" x2="228.14" y2="295.23" stroke="#2a2a2a" stroke-width="1"/>
<circle cx="226.34" cy="286.13" r="1.9" fill="#cc0f2e"/>
<circle cx="226.34" cy="292.53" r="1.9" fill="#cc0f2e"/>
<circle cx="226.34" cy="294.56" r="1.9" fill="#cc0f2e"/>
<rect x="230.94" y="220.08" width="6.0" height="78.52" fill="#8eaccb"/>
<line x1="233.94" y1="199.19" x2="233.94" y2="239.96" stroke="#2a2a2a" stroke-width="1"/>
<line x1="232.14" y1="199.19" x2="235.74" y2="199.19" stroke="#2a2a2a" stroke-width="1"/>
<line x1="232.14" y1="239.96" x2="235.74" y2="239.96" stroke="#2a2a2a" stroke-width="1"/>
<circle cx="233.94" cy="204.91" r="1.9" fill="#0c4c8c"/>
<circle cx="233.94" cy="206.60" r="1.9" fill="#0c4c8c"/>
<circle cx="233.94" cy="211.65" r="1.9" fill="#0c4c8c"/>
<circle cx="233.94" cy="248.72" r="1.9" fill="#0c4c8c"/>
<rect x="238.54" y="297.93" width="6.0" height="0.67" fill="#a6e4a6"/>
<circle cx="240.54" cy="298.26" r="1.4" fill="#22b83a"/>
<circle cx="242.54" cy="298.26" r="1.4" fill="#22b83a"/>
<line x1="259.56" y1="298.6" x2="259.56" y2="301.40000000000003" stroke="#282828" stroke-width="1"/>
<rect x="248.96" y="284.11" width="6.0" height="14.49" fill="#e48a98"/>
<line x1="251.96" y1="277.71" x2="251.96" y2="286.81" stroke="#2a2a2a" stroke-width="1"/>
<line x1="250.16" y1="277.71" x2="253.76" y2="277.71" stroke="#2a2a2a" stroke-width="1"/>
<line x1="250.16" y1="286.81" x2="253.76" y2="286.81" stroke="#2a2a2a" stroke-width="1"/>
<circle cx="251.96" cy="277.71" r="1.9" fill="#cc0f2e"/>
<circle cx="251.96" cy="286.13" r="1.9" fill="#cc0f2e"/>
<circle cx="251.96" cy="288.49" r="1.9" fill="#cc0f2e"/>
<rect x="256.56" y="252.77" width="6.0" height="45.83" fill="#8eaccb"/>
<line x1="259.56" y1="237.60" x2="259.56" y2="265.91" stroke="#2a2a2a" stroke-width="1"/>
<line x1="257.76" y1="237.60" x2="261.36" y2="237.60" stroke="#2a2a2a" stroke-width="1"/>
<line x1="257.76" y1="265.91" x2="261.36" y2="265.91" stroke="#2a2a2a" stroke-width="1"/>
<circle cx="259.56" cy="233.90" r="1.9" fill="#0c4c8c"/>
<circle cx="259.56" cy="245.35" r="1.9" fill="#0c4c8c"/>
<circle cx="259.56" cy="261.87" r="1.9" fill="#0c4c8c"/>
<circle cx="259.56" cy="264.90" r="1.9" fill="#0c4c8c"/>
<circle cx="266.16" cy="298.60" r="1.4" fill="#22b83a"/>
<circle cx="268.16" cy="298.60" r="1.4" fill="#22b83a"/>
<line x1="285.18" y1="298.6" x2="285.18" y2="301.40000000000003" stroke="#282828" stroke-width="1"/>
<rect x="274.58" y="260.18" width="6.0" height="38.42" fill="#e48a98"/>
<line x1="277.58" y1="252.43" x2="277.58" y2="268.61" stroke="#2a2a2a" stroke-width="1"/>
<line x1="275.78" y1="252.43" x2="279.38" y2="252.43" stroke="#2a2a2a" stroke-width="1"/>
<line x1="275.78" y1="268.61" x2="279.38" y2="268.61" stroke="#2a2a2a" stroke-width="1"/>
<circle cx="277.58" cy="252.43" r="1.9" fill="#cc0f2e"/>
<circle cx="277.58" cy="257.15" r="1.9" fill="#cc0f2e"/>
<circle cx="277.58" cy="268.61" r="1.9" fill="#cc0f2e"/>
<rect x="282.18" y="232.55" width="6.0" height="66.05" fill="#8eaccb"/>
<line x1="285.18" y1="210.64" x2="285.18" y2="253.78" stroke="#2a2a2a" stroke-width="1"/>
<line x1="283.38" y1="210.64" x2="286.98" y2="210.64" stroke="#2a2a2a" stroke-width="1"/>
<line x1="283.38" y1="253.78" x2="286.98" y2="253.78" stroke="#2a2a2a" stroke-width="1"/>
<circle cx="285.18" cy="213.68" r="1.9" fill="#0c4c8c"/>
<circle cx="285.18" cy="221.43" r="1.9" fill="#0c4c8c"/>
<circle cx="285.18" cy="225.81" r="1.9" fill="#0c4c8c"/>
<circle cx="285.18" cy="264.23" r="1.9" fill="#0c4c8c"/>
<circle cx="291.78" cy="298.60" r="1.4" fill="#22b83a"/>
<circle cx="293.78" cy="298.60" r="1.4" fill="#22b83a"/>
<text x="186.50" y="308.20" font-size="7.6" stroke="#1a1a1a" stroke-width="0.16" text-anchor="end" transform="rotate(-45 186.50 308.20)">S100A8</text>
<text x="212.12" y="308.20" font-size="7.6" stroke="#1a1a1a" stroke-width="0.16" text-anchor="end" transform="rotate(-45 212.12 308.20)">S100A9</text>
<text x="237.74" y="308.20" font-size="7.6" stroke="#1a1a1a" stroke-width="0.16" text-anchor="end" transform="rotate(-45 237.74 308.20)">ZFP36L1</text>
<text x="263.36" y="308.20" font-size="7.6" stroke="#1a1a1a" stroke-width="0.16" text-anchor="end" transform="rotate(-45 263.36 308.20)">CEBPB</text>
<text x="288.98" y="308.20" font-size="7.6" stroke="#1a1a1a" stroke-width="0.16" text-anchor="end" transform="rotate(-45 288.98 308.20)">CDKN1A</text>
<text x="149.90" y="248.40" font-size="9.6" stroke="#1a1a1a" stroke-width="0.3" text-anchor="middle" textLength="22.30" lengthAdjust="spacingAndGlyphs" transform="rotate(-90 149.90 248.40)">% Input</text>
<line x1="325.0" y1="194.4" x2="325.0" y2="299.3" stroke="#282828" stroke-width="1.3"/>
<line x1="324.5" y1="298.7" x2="413.8" y2="298.7" stroke="#282828" stroke-width="1.35"/>
<line x1="322.4" y1="298.70" x2="325.0" y2="298.70" stroke="#282828" stroke-width="1"/>
<text x="320.60" y="301.55" font-size="8.0" stroke="#1a1a1a" stroke-width="0.16" text-anchor="end">0</text>
<line x1="322.4" y1="270.10" x2="325.0" y2="270.10" stroke="#282828" stroke-width="1"/>
<text x="320.60" y="272.95" font-size="8.0" stroke="#1a1a1a" stroke-width="0.16" text-anchor="end">5</text>
<line x1="322.4" y1="241.50" x2="325.0" y2="241.50" stroke="#282828" stroke-width="1"/>
<text x="320.60" y="244.35" font-size="8.0" stroke="#1a1a1a" stroke-width="0.16" text-anchor="end">10</text>
<line x1="322.4" y1="212.90" x2="325.0" y2="212.90" stroke="#282828" stroke-width="1"/>
<text x="320.60" y="215.75" font-size="8.0" stroke="#1a1a1a" stroke-width="0.16" text-anchor="end">15</text>
<line x1="348.3" y1="298.7" x2="348.3" y2="301.5" stroke="#282828" stroke-width="1"/>
<rect x="332.60" y="283.54" width="6.6" height="15.16" fill="#e48a98"/>
<circle cx="333.90" cy="283.26" r="1.9" fill="#cc0f2e"/>
<circle cx="335.90" cy="283.83" r="1.9" fill="#cc0f2e"/>
<circle cx="337.90" cy="284.11" r="1.9" fill="#cc0f2e"/>
<rect x="345.00" y="274.10" width="6.6" height="24.60" fill="#8eaccb"/>
<line x1="348.30" y1="264.95" x2="348.30" y2="281.54" stroke="#2a2a2a" stroke-width="1"/>
<line x1="346.50" y1="264.95" x2="350.10" y2="264.95" stroke="#2a2a2a" stroke-width="1"/>
<line x1="346.50" y1="281.54" x2="350.10" y2="281.54" stroke="#2a2a2a" stroke-width="1"/>
<circle cx="348.30" cy="262.09" r="1.9" fill="#0c4c8c"/>
<circle cx="346.80" cy="275.25" r="1.9" fill="#0c4c8c"/>
<circle cx="349.80" cy="278.11" r="1.9" fill="#0c4c8c"/>
<circle cx="348.30" cy="279.82" r="1.9" fill="#0c4c8c"/>
<circle cx="359.70" cy="298.53" r="1.4" fill="#22b83a"/>
<circle cx="361.70" cy="298.53" r="1.4" fill="#22b83a"/>
<line x1="390.8" y1="298.7" x2="390.8" y2="301.5" stroke="#282828" stroke-width="1"/>
<rect x="375.10" y="272.39" width="6.6" height="26.31" fill="#e48a98"/>
<line x1="378.40" y1="263.81" x2="378.40" y2="279.25" stroke="#2a2a2a" stroke-width="1"/>
<line x1="376.60" y1="263.81" x2="380.20" y2="263.81" stroke="#2a2a2a" stroke-width="1"/>
<line x1="376.60" y1="279.25" x2="380.20" y2="279.25" stroke="#2a2a2a" stroke-width="1"/>
<circle cx="378.40" cy="263.81" r="1.9" fill="#cc0f2e"/>
<circle cx="378.40" cy="272.39" r="1.9" fill="#cc0f2e"/>
<circle cx="378.40" cy="278.68" r="1.9" fill="#cc0f2e"/>
<rect x="387.50" y="231.20" width="6.6" height="67.50" fill="#8eaccb"/>
<line x1="390.80" y1="211.76" x2="390.80" y2="248.36" stroke="#2a2a2a" stroke-width="1"/>
<line x1="389.00" y1="211.76" x2="392.60" y2="211.76" stroke="#2a2a2a" stroke-width="1"/>
<line x1="389.00" y1="248.36" x2="392.60" y2="248.36" stroke="#2a2a2a" stroke-width="1"/>
<circle cx="390.80" cy="214.04" r="1.9" fill="#0c4c8c"/>
<circle cx="390.80" cy="216.90" r="1.9" fill="#0c4c8c"/>
<circle cx="390.80" cy="235.78" r="1.9" fill="#0c4c8c"/>
<circle cx="390.80" cy="254.08" r="1.9" fill="#0c4c8c"/>
<rect x="399.90" y="298.41" width="6.6" height="0.29" fill="#a6e4a6"/>
<circle cx="402.20" cy="298.59" r="1.4" fill="#22b83a"/>
<circle cx="404.20" cy="298.59" r="1.4" fill="#22b83a"/>
<path d="M402.9,291.8 L405.5,291.8 L404.2,289.6Z" fill="#22b83a"/>
<text x="348.30" y="309.70" font-size="7.8" stroke="#1a1a1a" stroke-width="0.16" text-anchor="middle">CD11b</text>
<text x="390.80" y="309.70" font-size="7.8" stroke="#1a1a1a" stroke-width="0.16" text-anchor="middle">CD14</text>
<text x="307.70" y="255.90" font-size="9.6" stroke="#1a1a1a" stroke-width="0.3" text-anchor="middle" textLength="22.30" lengthAdjust="spacingAndGlyphs" transform="rotate(-90 307.70 255.90)">% Input</text>
<text x="6.30" y="339.40" font-size="11.5" stroke="#111" stroke-width="0.16" font-weight="bold" fill="#111">S</text>
<rect x="172.9" y="334.40000000000003" width="4.6" height="4.5" fill="#cc0f2e"/>
<text x="181.00" y="339.60" font-size="7.8" stroke="#1a1a1a" stroke-width="0.16" textLength="28.20" lengthAdjust="spacingAndGlyphs">shcontrol</text>
<rect x="218.5" y="334.40000000000003" width="4.6" height="4.5" fill="#0c4c8c"/>
<text x="226.00" y="339.60" font-size="7.8" stroke="#1a1a1a" stroke-width="0.16" textLength="42.50" lengthAdjust="spacingAndGlyphs">sh<tspan font-style="italic">SMARCD1</tspan></text>
<rect x="275.8" y="334.40000000000003" width="4.5" height="4.5" fill="#3cb84a"/>
<text x="283.40" y="339.60" font-size="7.8" stroke="#1a1a1a" stroke-width="0.16" textLength="11.60" lengthAdjust="spacingAndGlyphs">IgG</text>
<line x1="29.6" y1="346.0" x2="29.6" y2="447.1" stroke="#282828" stroke-width="1.3"/>
<line x1="29.1" y1="446.5" x2="145.8" y2="446.5" stroke="#282828" stroke-width="1.35"/>
<line x1="27.0" y1="446.50" x2="29.6" y2="446.50" stroke="#282828" stroke-width="1"/>
<text x="24.20" y="449.35" font-size="8.0" stroke="#1a1a1a" stroke-width="0.16" text-anchor="end">0</text>
<line x1="27.0" y1="427.56" x2="29.6" y2="427.56" stroke="#282828" stroke-width="1"/>
<text x="24.20" y="430.41" font-size="8.0" stroke="#1a1a1a" stroke-width="0.16" text-anchor="end">1</text>
<line x1="27.0" y1="408.62" x2="29.6" y2="408.62" stroke="#282828" stroke-width="1"/>
<text x="24.20" y="411.47" font-size="8.0" stroke="#1a1a1a" stroke-width="0.16" text-anchor="end">2</text>
<line x1="27.0" y1="389.68" x2="29.6" y2="389.68" stroke="#282828" stroke-width="1"/>
<text x="24.20" y="392.53" font-size="8.0" stroke="#1a1a1a" stroke-width="0.16" text-anchor="end">3</text>
<line x1="27.0" y1="370.74" x2="29.6" y2="370.74" stroke="#282828" stroke-width="1"/>
<text x="24.20" y="373.59" font-size="8.0" stroke="#1a1a1a" stroke-width="0.16" text-anchor="end">4</text>
<line x1="27.0" y1="351.80" x2="29.6" y2="351.80" stroke="#282828" stroke-width="1"/>
<text x="24.20" y="354.65" font-size="8.0" stroke="#1a1a1a" stroke-width="0.16" text-anchor="end">5</text>
<line x1="44.4" y1="446.5" x2="44.4" y2="449.3" stroke="#282828" stroke-width="1"/>
<rect x="33.85" y="433.24" width="6.1" height="13.26" fill="#e48a98"/>
<circle cx="35.70" cy="430.97" r="1.9" fill="#cc0f2e"/>
<circle cx="38.10" cy="431.35" r="1.9" fill="#cc0f2e"/>
<circle cx="36.90" cy="433.24" r="1.9" fill="#cc0f2e"/>
<rect x="41.75" y="439.68" width="6.1" height="6.82" fill="#8eaccb"/>
<line x1="44.80" y1="435.14" x2="44.80" y2="444.61" stroke="#2a2a2a" stroke-width="1"/>
<line x1="43.00" y1="435.14" x2="46.60" y2="435.14" stroke="#2a2a2a" stroke-width="1"/>
<line x1="43.00" y1="444.61" x2="46.60" y2="444.61" stroke="#2a2a2a" stroke-width="1"/>
<circle cx="44.80" cy="434.95" r="1.9" fill="#0c4c8c"/>
<circle cx="44.80" cy="437.98" r="1.9" fill="#0c4c8c"/>
<circle cx="44.80" cy="442.71" r="1.9" fill="#0c4c8c"/>
<rect x="49.35" y="445.93" width="6.1" height="0.57" fill="#a6e4a6"/>
<circle cx="52.40" cy="445.36" r="1.4" fill="#22b83a"/>
<line x1="73.2" y1="446.5" x2="73.2" y2="449.3" stroke="#282828" stroke-width="1"/>
<rect x="62.65" y="434.00" width="6.1" height="12.50" fill="#e48a98"/>
<circle cx="64.50" cy="430.40" r="1.9" fill="#cc0f2e"/>
<circle cx="66.90" cy="430.97" r="1.9" fill="#cc0f2e"/>
<circle cx="65.70" cy="435.14" r="1.9" fill="#cc0f2e"/>
<rect x="70.55" y="434.95" width="6.1" height="11.55" fill="#8eaccb"/>
<circle cx="73.60" cy="433.24" r="1.9" fill="#0c4c8c"/>
<circle cx="72.40" cy="435.14" r="1.9" fill="#0c4c8c"/>
<circle cx="74.80" cy="435.51" r="1.9" fill="#0c4c8c"/>
<rect x="78.15" y="445.93" width="6.1" height="0.57" fill="#a6e4a6"/>
<circle cx="81.20" cy="445.36" r="1.4" fill="#22b83a"/>
<line x1="102.0" y1="446.5" x2="102.0" y2="449.3" stroke="#282828" stroke-width="1"/>
<rect x="91.45" y="376.80" width="6.1" height="69.70" fill="#e48a98"/>
<line x1="94.50" y1="365.82" x2="94.50" y2="388.16" stroke="#2a2a2a" stroke-width="1"/>
<line x1="92.70" y1="365.82" x2="96.30" y2="365.82" stroke="#2a2a2a" stroke-width="1"/>
<line x1="92.70" y1="388.16" x2="96.30" y2="388.16" stroke="#2a2a2a" stroke-width="1"/>
<circle cx="94.50" cy="365.82" r="1.9" fill="#cc0f2e"/>
<circle cx="94.50" cy="373.77" r="1.9" fill="#cc0f2e"/>
<circle cx="94.50" cy="388.16" r="1.9" fill="#cc0f2e"/>
<rect x="99.35" y="405.02" width="6.1" height="41.48" fill="#8eaccb"/>
<line x1="102.40" y1="394.60" x2="102.40" y2="414.87" stroke="#2a2a2a" stroke-width="1"/>
<line x1="100.60" y1="394.60" x2="104.20" y2="394.60" stroke="#2a2a2a" stroke-width="1"/>
<line x1="100.60" y1="414.87" x2="104.20" y2="414.87" stroke="#2a2a2a" stroke-width="1"/>
<circle cx="102.40" cy="398.01" r="1.9" fill="#0c4c8c"/>
<circle cx="102.40" cy="399.15" r="1.9" fill="#0c4c8c"/>
<circle cx="102.40" cy="414.30" r="1.9" fill="#0c4c8c"/>
<rect x="106.95" y="442.71" width="6.1" height="3.79" fill="#a6e4a6"/>
<circle cx="110.00" cy="441.76" r="1.9" fill="#22b83a"/>
<line x1="130.8" y1="446.5" x2="130.8" y2="449.3" stroke="#282828" stroke-width="1"/>
<rect x="120.25" y="413.54" width="6.1" height="32.96" fill="#e48a98"/>
<line x1="123.30" y1="403.88" x2="123.30" y2="422.82" stroke="#2a2a2a" stroke-width="1"/>
<line x1="121.50" y1="403.88" x2="125.10" y2="403.88" stroke="#2a2a2a" stroke-width="1"/>
<line x1="121.50" y1="422.82" x2="125.10" y2="422.82" stroke="#2a2a2a" stroke-width="1"/>
<circle cx="123.30" cy="407.67" r="1.9" fill="#cc0f2e"/>
<circle cx="123.30" cy="408.62" r="1.9" fill="#cc0f2e"/>
<circle cx="123.30" cy="421.88" r="1.9" fill="#cc0f2e"/>
<rect x="128.15" y="423.96" width="6.1" height="22.54" fill="#8eaccb"/>
<line x1="131.20" y1="418.09" x2="131.20" y2="427.56" stroke="#2a2a2a" stroke-width="1"/>
<line x1="129.40" y1="418.09" x2="133.00" y2="418.09" stroke="#2a2a2a" stroke-width="1"/>
<line x1="129.40" y1="427.56" x2="133.00" y2="427.56" stroke="#2a2a2a" stroke-width="1"/>
<circle cx="131.20" cy="417.14" r="1.9" fill="#0c4c8c"/>
<circle cx="131.20" cy="419.98" r="1.9" fill="#0c4c8c"/>
<circle cx="131.20" cy="425.67" r="1.9" fill="#0c4c8c"/>
<rect x="135.75" y="443.66" width="6.1" height="2.84" fill="#a6e4a6"/>
<circle cx="138.80" cy="441.76" r="1.9" fill="#22b83a"/>
<text x="44.60" y="458.80" font-size="7.8" stroke="#1a1a1a" stroke-width="0.16" text-anchor="middle" textLength="20.80" lengthAdjust="spacingAndGlyphs">CCL3</text>
<text x="73.40" y="458.80" font-size="7.8" stroke="#1a1a1a" stroke-width="0.16" text-anchor="middle" textLength="20.80" lengthAdjust="spacingAndGlyphs">CCL4</text>
<text x="102.20" y="458.80" font-size="7.8" stroke="#1a1a1a" stroke-width="0.16" text-anchor="middle" textLength="20.80" lengthAdjust="spacingAndGlyphs">CCL7</text>
<text x="131.00" y="458.80" font-size="7.8" stroke="#1a1a1a" stroke-width="0.16" text-anchor="middle" textLength="20.80" lengthAdjust="spacingAndGlyphs">CCL8</text>
<text x="14.20" y="399.70" font-size="9.6" stroke="#1a1a1a" stroke-width="0.3" text-anchor="middle" textLength="22.30" lengthAdjust="spacingAndGlyphs" transform="rotate(-90 14.20 399.70)">% Input</text>
<line x1="171.4" y1="346.5" x2="171.4" y2="447.6" stroke="#282828" stroke-width="1.3"/>
<line x1="170.9" y1="447.0" x2="297.5" y2="447.0" stroke="#282828" stroke-width="1.35"/>
<line x1="168.8" y1="447.00" x2="171.4" y2="447.00" stroke="#282828" stroke-width="1"/>
<text x="166.20" y="449.85" font-size="8.0" stroke="#1a1a1a" stroke-width="0.16" text-anchor="end">0</text>
<line x1="168.8" y1="427.90" x2="171.4" y2="427.90" stroke="#282828" stroke-width="1"/>
<text x="166.20" y="430.75" font-size="8.0" stroke="#1a1a1a" stroke-width="0.16" text-anchor="end">1</text>
<line x1="168.8" y1="408.80" x2="171.4" y2="408.80" stroke="#282828" stroke-width="1"/>
<text x="166.20" y="411.65" font-size="8.0" stroke="#1a1a1a" stroke-width="0.16" text-anchor="end">2</text>
<line x1="168.8" y1="389.70" x2="171.4" y2="389.70" stroke="#282828" stroke-width="1"/>
<text x="166.20" y="392.55" font-size="8.0" stroke="#1a1a1a" stroke-width="0.16" text-anchor="end">3</text>
<line x1="168.8" y1="370.60" x2="171.4" y2="370.60" stroke="#282828" stroke-width="1"/>
<text x="166.20" y="373.45" font-size="8.0" stroke="#1a1a1a" stroke-width="0.16" text-anchor="end">4</text>
<line x1="168.8" y1="351.50" x2="171.4" y2="351.50" stroke="#282828" stroke-width="1"/>
<text x="166.20" y="354.35" font-size="8.0" stroke="#1a1a1a" stroke-width="0.16" text-anchor="end">5</text>
<line x1="184.4" y1="447.0" x2="184.4" y2="449.8" stroke="#282828" stroke-width="1"/>
<rect x="174.30" y="420.26" width="6.2" height="26.74" fill="#e48a98"/>
<line x1="177.40" y1="415.49" x2="177.40" y2="425.04" stroke="#2a2a2a" stroke-width="1"/>
<line x1="175.60" y1="415.49" x2="179.20" y2="415.49" stroke="#2a2a2a" stroke-width="1"/>
<line x1="175.60" y1="425.04" x2="179.20" y2="425.04" stroke="#2a2a2a" stroke-width="1"/>
<circle cx="177.40" cy="415.49" r="1.9" fill="#cc0f2e"/>
<circle cx="177.40" cy="420.26" r="1.9" fill="#cc0f2e"/>
<circle cx="177.40" cy="425.04" r="1.9" fill="#cc0f2e"/>
<rect x="181.30" y="433.63" width="6.2" height="13.37" fill="#8eaccb"/>
<circle cx="184.40" cy="428.86" r="1.9" fill="#0c4c8c"/>
<circle cx="183.20" cy="432.68" r="1.9" fill="#0c4c8c"/>
<circle cx="185.60" cy="433.63" r="1.9" fill="#0c4c8c"/>
<rect x="188.30" y="443.18" width="6.2" height="3.82" fill="#a6e4a6"/>
<circle cx="191.40" cy="442.80" r="1.9" fill="#22b83a"/>
<line x1="209.5" y1="447.0" x2="209.5" y2="449.8" stroke="#282828" stroke-width="1"/>
<rect x="199.40" y="416.44" width="6.2" height="30.56" fill="#e48a98"/>
<circle cx="202.50" cy="412.62" r="1.9" fill="#cc0f2e"/>
<circle cx="202.50" cy="414.53" r="1.9" fill="#cc0f2e"/>
<circle cx="202.50" cy="417.39" r="1.9" fill="#cc0f2e"/>
<rect x="206.40" y="431.72" width="6.2" height="15.28" fill="#8eaccb"/>
<circle cx="208.30" cy="428.86" r="1.9" fill="#0c4c8c"/>
<circle cx="210.70" cy="428.86" r="1.9" fill="#0c4c8c"/>
<circle cx="209.50" cy="432.68" r="1.9" fill="#0c4c8c"/>
<rect x="213.40" y="446.05" width="6.2" height="0.95" fill="#a6e4a6"/>
<circle cx="216.50" cy="445.85" r="1.4" fill="#22b83a"/>
<line x1="234.6" y1="447.0" x2="234.6" y2="449.8" stroke="#282828" stroke-width="1"/>
<rect x="224.50" y="373.46" width="6.2" height="73.54" fill="#e48a98"/>
<line x1="227.60" y1="367.74" x2="227.60" y2="378.24" stroke="#2a2a2a" stroke-width="1"/>
<line x1="225.80" y1="367.74" x2="229.40" y2="367.74" stroke="#2a2a2a" stroke-width="1"/>
<line x1="225.80" y1="378.24" x2="229.40" y2="378.24" stroke="#2a2a2a" stroke-width="1"/>
<circle cx="227.60" cy="365.82" r="1.9" fill="#cc0f2e"/>
<circle cx="227.60" cy="372.51" r="1.9" fill="#cc0f2e"/>
<circle cx="227.60" cy="377.28" r="1.9" fill="#cc0f2e"/>
<rect x="231.50" y="392.56" width="6.2" height="54.44" fill="#8eaccb"/>
<line x1="234.60" y1="376.33" x2="234.60" y2="407.85" stroke="#2a2a2a" stroke-width="1"/>
<line x1="232.80" y1="376.33" x2="236.40" y2="376.33" stroke="#2a2a2a" stroke-width="1"/>
<line x1="232.80" y1="407.85" x2="236.40" y2="407.85" stroke="#2a2a2a" stroke-width="1"/>
<circle cx="234.60" cy="376.33" r="1.9" fill="#0c4c8c"/>
<circle cx="234.60" cy="389.70" r="1.9" fill="#0c4c8c"/>
<circle cx="234.60" cy="404.98" r="1.9" fill="#0c4c8c"/>
<rect x="238.50" y="445.09" width="6.2" height="1.91" fill="#a6e4a6"/>
<line x1="241.60" y1="440.31" x2="241.60" y2="447.00" stroke="#2a2a2a" stroke-width="1"/>
<line x1="239.80" y1="440.31" x2="243.40" y2="440.31" stroke="#2a2a2a" stroke-width="1"/>
<line x1="239.80" y1="447.00" x2="243.40" y2="447.00" stroke="#2a2a2a" stroke-width="1"/>
<circle cx="241.60" cy="440.31" r="1.9" fill="#22b83a"/>
<circle cx="241.60" cy="446.05" r="1.4" fill="#22b83a"/>
<line x1="259.7" y1="447.0" x2="259.7" y2="449.8" stroke="#282828" stroke-width="1"/>
<rect x="249.60" y="445.09" width="6.2" height="1.91" fill="#e48a98"/>
<circle cx="252.70" cy="442.23" r="1.9" fill="#cc0f2e"/>
<circle cx="252.70" cy="445.09" r="1.9" fill="#cc0f2e"/>
<rect x="256.60" y="446.05" width="6.2" height="0.95" fill="#8eaccb"/>
<circle cx="258.70" cy="444.13" r="1.9" fill="#0c4c8c"/>
<circle cx="260.70" cy="445.09" r="1.9" fill="#0c4c8c"/>
<circle cx="259.70" cy="446.05" r="1.4" fill="#0c4c8c"/>
<circle cx="266.70" cy="447.00" r="1.4" fill="#22b83a"/>
<line x1="284.8" y1="447.0" x2="284.8" y2="449.8" stroke="#282828" stroke-width="1"/>
<rect x="274.70" y="394.48" width="6.2" height="52.52" fill="#e48a98"/>
<line x1="277.80" y1="389.70" x2="277.80" y2="399.25" stroke="#2a2a2a" stroke-width="1"/>
<line x1="276.00" y1="389.70" x2="279.60" y2="389.70" stroke="#2a2a2a" stroke-width="1"/>
<line x1="276.00" y1="399.25" x2="279.60" y2="399.25" stroke="#2a2a2a" stroke-width="1"/>
<circle cx="277.80" cy="387.79" r="1.9" fill="#cc0f2e"/>
<circle cx="277.80" cy="393.52" r="1.9" fill="#cc0f2e"/>
<circle cx="277.80" cy="399.25" r="1.9" fill="#cc0f2e"/>
<rect x="281.70" y="425.99" width="6.2" height="21.01" fill="#8eaccb"/>
<line x1="284.80" y1="420.26" x2="284.80" y2="433.63" stroke="#2a2a2a" stroke-width="1"/>
<line x1="283.00" y1="420.26" x2="286.60" y2="420.26" stroke="#2a2a2a" stroke-width="1"/>
<line x1="283.00" y1="433.63" x2="286.60" y2="433.63" stroke="#2a2a2a" stroke-width="1"/>
<circle cx="284.80" cy="420.26" r="1.9" fill="#0c4c8c"/>
<circle cx="284.80" cy="422.17" r="1.9" fill="#0c4c8c"/>
<circle cx="284.80" cy="431.72" r="1.9" fill="#0c4c8c"/>
<rect x="288.70" y="446.05" width="6.2" height="0.95" fill="#a6e4a6"/>
<line x1="291.80" y1="444.13" x2="291.80" y2="447.00" stroke="#2a2a2a" stroke-width="1"/>
<line x1="290.00" y1="444.13" x2="293.60" y2="444.13" stroke="#2a2a2a" stroke-width="1"/>
<line x1="290.00" y1="447.00" x2="293.60" y2="447.00" stroke="#2a2a2a" stroke-width="1"/>
<circle cx="291.80" cy="444.13" r="1.9" fill="#22b83a"/>
<circle cx="291.80" cy="446.62" r="1.4" fill="#22b83a"/>
<text x="188.20" y="456.60" font-size="7.6" stroke="#1a1a1a" stroke-width="0.16" text-anchor="end" transform="rotate(-45 188.20 456.60)">S100A8</text>
<text x="213.30" y="456.60" font-size="7.6" stroke="#1a1a1a" stroke-width="0.16" text-anchor="end" transform="rotate(-45 213.30 456.60)">S100A9</text>
<text x="238.40" y="456.60" font-size="7.6" stroke="#1a1a1a" stroke-width="0.16" text-anchor="end" transform="rotate(-45 238.40 456.60)">ZFP36L1</text>
<text x="263.50" y="456.60" font-size="7.6" stroke="#1a1a1a" stroke-width="0.16" text-anchor="end" transform="rotate(-45 263.50 456.60)">CEBPB</text>
<text x="288.60" y="456.60" font-size="7.6" stroke="#1a1a1a" stroke-width="0.16" text-anchor="end" transform="rotate(-45 288.60 456.60)">CDKN1A</text>
<text x="155.70" y="399.40" font-size="9.6" stroke="#1a1a1a" stroke-width="0.3" text-anchor="middle" textLength="22.30" lengthAdjust="spacingAndGlyphs" transform="rotate(-90 155.70 399.40)">% Input</text>
<line x1="323.6" y1="346.0" x2="323.6" y2="447.0" stroke="#282828" stroke-width="1.3"/>
<line x1="323.1" y1="446.4" x2="408.0" y2="446.4" stroke="#282828" stroke-width="1.35"/>
<line x1="321.0" y1="446.40" x2="323.6" y2="446.40" stroke="#282828" stroke-width="1"/>
<text x="318.40" y="449.25" font-size="8.0" stroke="#1a1a1a" stroke-width="0.16" text-anchor="end">0</text>
<line x1="321.0" y1="414.13" x2="323.6" y2="414.13" stroke="#282828" stroke-width="1"/>
<text x="318.40" y="416.98" font-size="8.0" stroke="#1a1a1a" stroke-width="0.16" text-anchor="end">1</text>
<line x1="321.0" y1="381.86" x2="323.6" y2="381.86" stroke="#282828" stroke-width="1"/>
<text x="318.40" y="384.71" font-size="8.0" stroke="#1a1a1a" stroke-width="0.16" text-anchor="end">2</text>
<line x1="321.0" y1="349.59" x2="323.6" y2="349.59" stroke="#282828" stroke-width="1"/>
<text x="318.40" y="352.44" font-size="8.0" stroke="#1a1a1a" stroke-width="0.16" text-anchor="end">3</text>
<line x1="345.4" y1="446.4" x2="345.4" y2="449.2" stroke="#282828" stroke-width="1"/>
<rect x="330.45" y="407.68" width="6.3" height="38.72" fill="#e48a98"/>
<line x1="333.60" y1="389.60" x2="333.60" y2="425.42" stroke="#2a2a2a" stroke-width="1"/>
<line x1="331.80" y1="389.60" x2="335.40" y2="389.60" stroke="#2a2a2a" stroke-width="1"/>
<line x1="331.80" y1="425.42" x2="335.40" y2="425.42" stroke="#2a2a2a" stroke-width="1"/>
<circle cx="333.60" cy="386.70" r="1.9" fill="#cc0f2e"/>
<circle cx="333.60" cy="415.74" r="1.9" fill="#cc0f2e"/>
<circle cx="333.60" cy="420.58" r="1.9" fill="#cc0f2e"/>
<rect x="342.25" y="432.85" width="6.3" height="13.55" fill="#8eaccb"/>
<line x1="345.40" y1="423.81" x2="345.40" y2="443.17" stroke="#2a2a2a" stroke-width="1"/>
<line x1="343.60" y1="423.81" x2="347.20" y2="423.81" stroke="#2a2a2a" stroke-width="1"/>
<line x1="343.60" y1="443.17" x2="347.20" y2="443.17" stroke="#2a2a2a" stroke-width="1"/>
<circle cx="345.40" cy="423.81" r="1.9" fill="#0c4c8c"/>
<circle cx="345.40" cy="430.26" r="1.9" fill="#0c4c8c"/>
<circle cx="345.40" cy="443.17" r="1.9" fill="#0c4c8c"/>
<rect x="353.95" y="443.17" width="6.3" height="3.23" fill="#a6e4a6"/>
<circle cx="355.60" cy="443.17" r="1.9" fill="#22b83a"/>
<circle cx="358.60" cy="443.17" r="1.9" fill="#22b83a"/>
<line x1="385.7" y1="446.4" x2="385.7" y2="449.2" stroke="#282828" stroke-width="1"/>
<rect x="370.75" y="386.70" width="6.3" height="59.70" fill="#e48a98"/>
<line x1="373.90" y1="380.25" x2="373.90" y2="391.54" stroke="#2a2a2a" stroke-width="1"/>
<line x1="372.10" y1="380.25" x2="375.70" y2="380.25" stroke="#2a2a2a" stroke-width="1"/>
<line x1="372.10" y1="391.54" x2="375.70" y2="391.54" stroke="#2a2a2a" stroke-width="1"/>
<circle cx="373.90" cy="380.25" r="1.9" fill="#cc0f2e"/>
<circle cx="373.90" cy="385.09" r="1.9" fill="#cc0f2e"/>
<circle cx="373.90" cy="389.93" r="1.9" fill="#cc0f2e"/>
<rect x="382.55" y="426.07" width="6.3" height="20.33" fill="#8eaccb"/>
<line x1="385.70" y1="414.13" x2="385.70" y2="438.33" stroke="#2a2a2a" stroke-width="1"/>
<line x1="383.90" y1="414.13" x2="387.50" y2="414.13" stroke="#2a2a2a" stroke-width="1"/>
<line x1="383.90" y1="438.33" x2="387.50" y2="438.33" stroke="#2a2a2a" stroke-width="1"/>
<circle cx="385.70" cy="414.13" r="1.9" fill="#0c4c8c"/>
<circle cx="385.70" cy="423.81" r="1.9" fill="#0c4c8c"/>
<circle cx="385.70" cy="438.33" r="1.9" fill="#0c4c8c"/>
<rect x="394.25" y="443.17" width="6.3" height="3.23" fill="#a6e4a6"/>
<line x1="397.40" y1="439.95" x2="397.40" y2="446.40" stroke="#2a2a2a" stroke-width="1"/>
<line x1="395.60" y1="439.95" x2="399.20" y2="439.95" stroke="#2a2a2a" stroke-width="1"/>
<line x1="395.60" y1="446.40" x2="399.20" y2="446.40" stroke="#2a2a2a" stroke-width="1"/>
<circle cx="397.40" cy="439.95" r="1.9" fill="#22b83a"/>
<circle cx="397.40" cy="444.79" r="1.9" fill="#22b83a"/>
<text x="345.40" y="458.60" font-size="7.8" stroke="#1a1a1a" stroke-width="0.16" text-anchor="middle">CD11b</text>
<text x="385.70" y="458.60" font-size="7.8" stroke="#1a1a1a" stroke-width="0.16" text-anchor="middle">CD14</text>
<text x="307.20" y="398.30" font-size="9.6" stroke="#1a1a1a" stroke-width="0.3" text-anchor="middle" textLength="22.30" lengthAdjust="spacingAndGlyphs" transform="rotate(-90 307.20 398.30)">% Input</text>
<text x="6.50" y="482.20" font-size="11.5" stroke="#111" stroke-width="0.16" font-weight="bold" fill="#111">T</text>
<rect x="17.3" y="482" width="433" height="188.5" fill="#fafafa"/>
<rect x="41.5" y="641.6" width="143.3" height="28.9" fill="#ffffff"/>
<rect x="199.6" y="614.8" width="67.7" height="27.5" fill="#ffffff"/>
<rect x="270" y="655" width="146" height="14" fill="#ffffff"/>
<rect x="164.6" y="536.1" width="55" height="11" fill="#ffffff"/>
<rect x="250.6" y="533.1" width="54.4" height="10.7" fill="#ffffff"/>
<text x="26.00" y="509.60" font-size="7.2" stroke="#1e1e1e" stroke-width="0.16" fill="#1e1e1e" textLength="25.60" lengthAdjust="spacingAndGlyphs">HDACs</text>
<text x="55.60" y="507.80" font-size="7.2" stroke="#1e1e1e" stroke-width="0.16" fill="#1e1e1e" textLength="26.20" lengthAdjust="spacingAndGlyphs">KDM1A</text>
<text x="78.80" y="498.00" font-size="7.2" stroke="#1e1e1e" stroke-width="0.16" fill="#1e1e1e" textLength="37.40" lengthAdjust="spacingAndGlyphs">SMARCD1</text>
<text x="128.60" y="494.60" font-size="7.2" stroke="#1e1e1e" stroke-width="0.16" fill="#1e1e1e" textLength="26.40" lengthAdjust="spacingAndGlyphs">ACTL6A</text>
<path d="M51.21,519.60 C51.15,520.08 50.90,520.56 50.71,521.02 C50.52,521.48 50.35,521.95 50.06,522.38 C49.77,522.81 49.41,523.24 48.99,523.62 C48.57,524.00 48.03,524.34 47.52,524.66 C47.01,524.98 46.51,525.33 45.90,525.56 C45.30,525.80 44.54,525.89 43.89,526.06 C43.25,526.24 42.68,526.51 42.03,526.61 C41.38,526.71 40.64,526.59 39.97,526.67 C39.30,526.75 38.67,527.04 38.00,527.08 C37.33,527.12 36.69,526.90 35.97,526.91 C35.25,526.91 34.38,527.20 33.68,527.12 C32.97,527.05 32.44,526.65 31.74,526.47 C31.04,526.29 30.07,526.31 29.48,526.03 C28.89,525.75 28.64,525.20 28.19,524.81 C27.74,524.43 27.07,524.13 26.77,523.71 C26.47,523.28 26.55,522.73 26.38,522.28 C26.22,521.82 25.87,521.41 25.77,520.97 C25.66,520.52 25.80,520.06 25.76,519.60 C25.72,519.14 25.52,518.68 25.52,518.21 C25.53,517.74 25.61,517.25 25.76,516.78 C25.91,516.31 26.11,515.81 26.42,515.36 C26.73,514.92 27.10,514.44 27.62,514.08 C28.13,513.72 28.86,513.46 29.53,513.20 C30.19,512.95 30.85,512.68 31.59,512.57 C32.33,512.46 33.22,512.58 33.96,512.56 C34.69,512.54 35.33,512.40 36.01,512.44 C36.68,512.49 37.35,512.80 38.00,512.84 C38.65,512.87 39.31,512.61 39.94,512.64 C40.57,512.67 41.09,512.97 41.78,513.01 C42.48,513.06 43.41,512.80 44.12,512.89 C44.82,512.98 45.31,513.35 46.00,513.56 C46.70,513.77 47.70,513.83 48.29,514.13 C48.88,514.43 49.12,514.96 49.55,515.38 C49.98,515.79 50.60,516.18 50.85,516.64 C51.10,517.10 50.99,517.65 51.05,518.14 C51.11,518.64 51.27,519.12 51.21,519.60Z" fill="#bfe3f3"/>
<path d="M49.06,522.00 C48.94,522.27 48.63,522.51 48.56,522.79 C48.50,523.07 48.70,523.36 48.67,523.65 C48.64,523.94 48.57,524.26 48.37,524.52 C48.17,524.79 47.75,524.99 47.47,525.25 C47.19,525.51 47.03,525.85 46.67,526.09 C46.32,526.32 45.84,526.53 45.33,526.65 C44.83,526.77 44.19,526.74 43.65,526.82 C43.12,526.89 42.65,527.06 42.12,527.12 C41.60,527.17 41.03,527.19 40.50,527.16 C39.97,527.13 39.48,526.96 38.94,526.93 C38.39,526.90 37.81,526.99 37.25,526.95 C36.70,526.92 36.11,526.84 35.62,526.70 C35.12,526.56 34.77,526.29 34.30,526.10 C33.84,525.92 33.24,525.80 32.83,525.58 C32.42,525.36 32.06,525.07 31.85,524.77 C31.65,524.48 31.72,524.11 31.60,523.80 C31.47,523.49 31.19,523.22 31.11,522.92 C31.04,522.62 31.04,522.30 31.14,522.00 C31.24,521.70 31.58,521.43 31.71,521.14 C31.83,520.85 31.74,520.54 31.88,520.26 C32.02,519.98 32.24,519.68 32.56,519.45 C32.87,519.22 33.41,519.08 33.78,518.87 C34.14,518.66 34.37,518.38 34.75,518.19 C35.13,518.00 35.59,517.84 36.07,517.74 C36.54,517.63 37.12,517.67 37.60,517.57 C38.08,517.47 38.48,517.26 38.96,517.15 C39.44,517.04 39.97,516.94 40.50,516.89 C41.03,516.85 41.54,516.92 42.12,516.89 C42.70,516.86 43.36,516.70 43.97,516.71 C44.58,516.71 45.25,516.77 45.79,516.91 C46.32,517.06 46.72,517.36 47.17,517.58 C47.63,517.80 48.20,517.98 48.54,518.25 C48.88,518.52 49.13,518.87 49.23,519.20 C49.32,519.54 49.10,519.94 49.10,520.26 C49.10,520.59 49.25,520.85 49.25,521.14 C49.24,521.43 49.17,521.73 49.06,522.00Z" fill="#aed8ec"/>
<path d="M56.90,516.10 C56.90,511.90 63.47,509.50 67.85,509.74 C73.32,509.98 78.80,513.10 78.80,516.70 C78.80,519.70 75.52,521.50 72.67,521.50 C70.04,521.50 68.29,518.50 65.66,518.86 C63.03,519.34 61.72,521.50 59.53,520.90 C57.78,520.30 56.90,518.50 56.90,516.10Z" fill="#a6b9e4" stroke="#6d89cf" stroke-width="0.8"/>
<path d="M77.63,535.40 C77.68,535.79 77.92,536.18 77.98,536.60 C78.04,537.01 78.08,537.47 78.00,537.87 C77.91,538.28 77.63,538.62 77.46,539.02 C77.29,539.43 77.22,539.91 76.98,540.27 C76.74,540.64 76.41,541.00 76.03,541.22 C75.65,541.45 75.12,541.48 74.71,541.64 C74.29,541.79 73.94,542.03 73.53,542.15 C73.12,542.27 72.68,542.35 72.26,542.35 C71.84,542.35 71.42,542.16 71.00,542.17 C70.58,542.17 70.16,542.36 69.73,542.38 C69.30,542.40 68.83,542.40 68.42,542.29 C68.00,542.18 67.65,541.89 67.25,541.71 C66.85,541.53 66.36,541.44 66.00,541.19 C65.64,540.94 65.29,540.60 65.09,540.22 C64.88,539.84 64.89,539.31 64.78,538.89 C64.66,538.48 64.47,538.12 64.41,537.73 C64.35,537.34 64.34,536.92 64.39,536.53 C64.45,536.14 64.70,535.77 64.74,535.40 C64.77,535.03 64.61,534.68 64.58,534.30 C64.56,533.92 64.53,533.51 64.59,533.13 C64.66,532.76 64.88,532.43 64.98,532.02 C65.09,531.62 65.06,531.10 65.22,530.69 C65.38,530.27 65.62,529.84 65.93,529.53 C66.25,529.23 66.72,529.09 67.11,528.86 C67.50,528.62 67.85,528.29 68.27,528.13 C68.69,527.96 69.18,527.85 69.63,527.85 C70.08,527.85 70.55,528.08 71.00,528.13 C71.45,528.19 71.88,528.10 72.31,528.17 C72.74,528.24 73.19,528.36 73.56,528.56 C73.94,528.76 74.22,529.15 74.57,529.40 C74.91,529.64 75.32,529.77 75.64,530.03 C75.95,530.30 76.24,530.62 76.43,530.97 C76.62,531.32 76.63,531.79 76.78,532.16 C76.93,532.52 77.20,532.81 77.34,533.16 C77.49,533.51 77.62,533.88 77.66,534.26 C77.71,534.63 77.58,535.01 77.63,535.40Z" fill="#c79ad2"/>
<path d="M70.39,535.00 C70.42,535.42 70.44,535.87 70.33,536.28 C70.22,536.69 69.89,537.06 69.76,537.48 C69.62,537.90 69.72,538.42 69.51,538.82 C69.29,539.22 68.84,539.54 68.48,539.88 C68.12,540.22 67.75,540.57 67.32,540.86 C66.89,541.15 66.45,541.48 65.92,541.63 C65.40,541.78 64.72,541.68 64.17,541.77 C63.62,541.87 63.16,542.16 62.63,542.21 C62.11,542.26 61.53,542.15 61.00,542.10 C60.47,542.04 59.96,541.95 59.44,541.89 C58.91,541.83 58.33,541.88 57.85,541.73 C57.37,541.58 57.00,541.21 56.55,541.00 C56.09,540.79 55.53,540.70 55.11,540.45 C54.70,540.21 54.36,539.86 54.08,539.52 C53.80,539.18 53.68,538.76 53.43,538.40 C53.18,538.05 52.76,537.75 52.58,537.38 C52.40,537.02 52.48,536.58 52.35,536.19 C52.22,535.79 51.94,535.42 51.79,535.00 C51.64,534.58 51.45,534.13 51.44,533.69 C51.42,533.25 51.62,532.83 51.69,532.36 C51.75,531.89 51.60,531.31 51.81,530.87 C52.02,530.43 52.51,530.07 52.93,529.73 C53.35,529.39 53.82,529.06 54.33,528.81 C54.84,528.57 55.39,528.31 55.99,528.25 C56.58,528.18 57.33,528.40 57.91,528.40 C58.49,528.40 58.95,528.23 59.47,528.24 C59.98,528.26 60.51,528.44 61.00,528.52 C61.49,528.59 61.93,528.67 62.43,528.70 C62.92,528.72 63.47,528.60 63.96,528.67 C64.45,528.74 64.85,529.00 65.36,529.12 C65.88,529.24 66.54,529.23 67.04,529.40 C67.54,529.58 68.01,529.87 68.38,530.19 C68.75,530.50 68.96,530.92 69.26,531.29 C69.55,531.66 70.00,532.00 70.15,532.41 C70.31,532.82 70.16,533.31 70.20,533.74 C70.24,534.17 70.37,534.58 70.39,535.00Z" fill="#8d6cbf"/>
<ellipse cx="48.5" cy="536.5" rx="11.5" ry="6.2" fill="#3e2e7a"/>
<text x="43.00" y="540.20" font-size="8.0" stroke="#f4f0ff" stroke-width="0.16" fill="#f4f0ff" textLength="27.40" lengthAdjust="spacingAndGlyphs">NCOR1</text>
<path d="M107.63,508.60 C107.60,509.04 107.23,509.45 107.19,509.91 C107.15,510.37 107.50,510.91 107.38,511.36 C107.27,511.81 106.77,512.18 106.50,512.61 C106.22,513.05 106.14,513.60 105.74,513.98 C105.34,514.35 104.68,514.60 104.12,514.85 C103.56,515.11 102.97,515.34 102.35,515.50 C101.74,515.65 101.08,515.74 100.44,515.77 C99.81,515.80 99.15,515.67 98.54,515.67 C97.93,515.67 97.37,515.81 96.80,515.77 C96.23,515.73 95.72,515.46 95.12,515.45 C94.52,515.43 93.82,515.71 93.21,515.68 C92.59,515.65 92.09,515.36 91.45,515.25 C90.81,515.13 89.97,515.17 89.35,514.97 C88.73,514.77 88.24,514.39 87.74,514.05 C87.23,513.71 86.71,513.35 86.33,512.94 C85.95,512.52 85.62,512.04 85.45,511.56 C85.28,511.08 85.34,510.55 85.28,510.06 C85.23,509.56 85.03,509.07 85.14,508.60 C85.24,508.13 85.75,507.69 85.92,507.23 C86.10,506.76 85.94,506.25 86.20,505.83 C86.46,505.42 87.12,505.12 87.50,504.75 C87.89,504.38 88.05,503.91 88.49,503.60 C88.92,503.28 89.56,503.10 90.09,502.87 C90.62,502.64 91.12,502.41 91.66,502.22 C92.20,502.04 92.76,501.87 93.33,501.76 C93.89,501.65 94.49,501.65 95.06,501.54 C95.64,501.43 96.21,501.16 96.80,501.10 C97.39,501.04 97.97,501.21 98.63,501.18 C99.28,501.14 100.06,500.83 100.72,500.88 C101.38,500.92 101.93,501.26 102.57,501.44 C103.21,501.62 104.02,501.68 104.57,501.96 C105.12,502.25 105.49,502.73 105.88,503.14 C106.26,503.55 106.62,503.98 106.87,504.43 C107.12,504.88 107.30,505.37 107.38,505.84 C107.47,506.31 107.34,506.80 107.38,507.26 C107.42,507.72 107.66,508.16 107.63,508.60Z" fill="#da7393"/>
<path d="M151.02,507.60 C150.99,508.11 151.25,508.62 151.17,509.11 C151.10,509.60 150.74,510.06 150.55,510.54 C150.36,511.02 150.31,511.57 150.02,512.01 C149.74,512.46 149.27,512.84 148.86,513.22 C148.44,513.60 148.02,514.00 147.54,514.31 C147.05,514.62 146.48,514.87 145.93,515.09 C145.37,515.31 144.78,515.45 144.20,515.63 C143.62,515.81 143.06,516.02 142.46,516.14 C141.86,516.27 141.24,516.25 140.60,516.36 C139.96,516.47 139.27,516.75 138.60,516.78 C137.93,516.82 137.29,516.63 136.58,516.56 C135.88,516.49 135.00,516.59 134.37,516.35 C133.73,516.12 133.31,515.56 132.77,515.17 C132.24,514.78 131.48,514.52 131.16,514.03 C130.84,513.53 130.99,512.73 130.84,512.17 C130.69,511.61 130.27,511.18 130.27,510.65 C130.27,510.12 130.75,509.51 130.83,509.00 C130.92,508.49 130.69,508.06 130.76,507.60 C130.82,507.14 131.16,506.72 131.22,506.26 C131.28,505.79 131.06,505.28 131.12,504.80 C131.18,504.32 131.42,503.87 131.59,503.38 C131.76,502.88 131.84,502.31 132.13,501.83 C132.41,501.36 132.84,500.92 133.29,500.53 C133.74,500.14 134.27,499.78 134.83,499.49 C135.39,499.20 136.02,498.95 136.65,498.80 C137.29,498.65 137.98,498.64 138.64,498.58 C139.30,498.52 139.95,498.40 140.60,498.43 C141.25,498.46 141.87,498.68 142.52,498.75 C143.17,498.83 143.89,498.73 144.51,498.89 C145.12,499.05 145.61,499.48 146.21,499.72 C146.80,499.97 147.59,500.02 148.08,500.37 C148.57,500.71 148.74,501.35 149.14,501.78 C149.54,502.22 150.23,502.49 150.49,502.97 C150.75,503.44 150.55,504.10 150.70,504.62 C150.84,505.13 151.29,505.57 151.35,506.06 C151.40,506.56 151.05,507.09 151.02,507.60Z" fill="#5eb1b3"/>
<path d="M139.98,536.00 C139.74,536.91 139.39,537.81 138.97,538.64 C138.56,539.48 137.97,540.25 137.46,541.02 C136.95,541.79 136.46,542.52 135.94,543.26 C135.41,544.01 134.94,544.79 134.30,545.47 C133.65,546.15 132.89,546.80 132.07,547.35 C131.24,547.91 130.30,548.38 129.35,548.78 C128.39,549.18 127.37,549.49 126.34,549.76 C125.32,550.02 124.27,550.15 123.21,550.37 C122.15,550.58 121.12,550.82 120.00,551.07 C118.88,551.32 117.69,551.70 116.46,551.85 C115.23,552.00 113.89,552.09 112.64,551.97 C111.38,551.86 110.05,551.59 108.91,551.16 C107.77,550.72 106.67,550.09 105.80,549.36 C104.93,548.64 104.27,547.69 103.70,546.80 C103.13,545.91 102.72,544.96 102.35,544.04 C101.99,543.13 101.68,542.22 101.51,541.31 C101.34,540.41 101.32,539.49 101.32,538.60 C101.32,537.71 101.43,536.85 101.53,536.00 C101.62,535.15 101.73,534.32 101.90,533.48 C102.08,532.65 102.34,531.84 102.58,530.99 C102.82,530.15 103.02,529.28 103.35,528.41 C103.69,527.55 104.00,526.59 104.58,525.79 C105.16,524.99 105.95,524.21 106.83,523.61 C107.72,523.01 108.81,522.53 109.90,522.19 C110.99,521.85 112.21,521.68 113.35,521.58 C114.50,521.48 115.68,521.60 116.78,521.60 C117.89,521.60 118.92,521.63 120.00,521.57 C121.08,521.52 122.16,521.33 123.29,521.28 C124.42,521.24 125.60,521.20 126.78,521.30 C127.95,521.39 129.19,521.55 130.34,521.87 C131.48,522.18 132.64,522.62 133.63,523.17 C134.62,523.73 135.48,524.48 136.27,525.22 C137.06,525.97 137.76,526.79 138.35,527.63 C138.95,528.48 139.53,529.37 139.86,530.29 C140.20,531.21 140.34,532.21 140.36,533.17 C140.38,534.12 140.21,535.09 139.98,536.00Z" fill="#7f8fa6"/>
<path d="M101.42,534.50 C101.44,534.83 101.49,535.17 101.47,535.51 C101.46,535.85 101.40,536.19 101.34,536.53 C101.28,536.87 101.17,537.19 101.10,537.56 C101.02,537.93 101.02,538.38 100.88,538.74 C100.75,539.10 100.55,539.46 100.30,539.73 C100.06,539.99 99.72,540.15 99.42,540.33 C99.12,540.52 98.81,540.70 98.50,540.83 C98.18,540.96 97.84,541.10 97.51,541.12 C97.18,541.15 96.82,541.09 96.50,541.00 C96.18,540.90 95.88,540.67 95.57,540.57 C95.26,540.47 94.94,540.50 94.64,540.39 C94.35,540.27 94.05,540.10 93.81,539.88 C93.56,539.66 93.37,539.35 93.18,539.07 C92.98,538.80 92.82,538.51 92.65,538.23 C92.47,537.95 92.26,537.71 92.12,537.42 C91.98,537.12 91.89,536.79 91.82,536.46 C91.76,536.14 91.80,535.80 91.73,535.47 C91.66,535.14 91.50,534.84 91.41,534.50 C91.31,534.16 91.19,533.78 91.16,533.41 C91.13,533.04 91.16,532.66 91.22,532.28 C91.29,531.91 91.42,531.56 91.53,531.19 C91.64,530.82 91.71,530.37 91.90,530.04 C92.09,529.72 92.36,529.42 92.66,529.22 C92.95,529.02 93.34,528.95 93.67,528.85 C94.00,528.74 94.31,528.65 94.63,528.57 C94.95,528.50 95.26,528.42 95.57,528.40 C95.88,528.39 96.20,528.45 96.50,528.50 C96.80,528.56 97.07,528.72 97.38,528.75 C97.68,528.78 98.02,528.65 98.34,528.68 C98.65,528.71 98.99,528.79 99.28,528.94 C99.57,529.09 99.83,529.35 100.06,529.60 C100.30,529.85 100.51,530.14 100.71,530.43 C100.91,530.71 101.13,531.00 101.26,531.33 C101.38,531.66 101.43,532.06 101.45,532.42 C101.46,532.79 101.33,533.17 101.33,533.52 C101.32,533.86 101.39,534.17 101.42,534.50Z" fill="#f1aab4"/>
<path d="M109.46,524.80 C109.51,525.07 109.52,525.34 109.50,525.62 C109.49,525.89 109.41,526.16 109.37,526.45 C109.32,526.74 109.35,527.07 109.23,527.35 C109.11,527.63 108.91,527.92 108.65,528.13 C108.39,528.34 108.03,528.50 107.68,528.62 C107.33,528.74 106.92,528.77 106.56,528.83 C106.21,528.90 105.89,528.99 105.55,529.01 C105.21,529.03 104.86,529.01 104.54,528.97 C104.21,528.93 103.90,528.84 103.60,528.78 C103.30,528.72 103.04,528.64 102.74,528.63 C102.44,528.62 102.12,528.71 101.79,528.71 C101.47,528.71 101.11,528.69 100.79,528.63 C100.47,528.56 100.15,528.44 99.86,528.30 C99.57,528.17 99.33,527.97 99.06,527.80 C98.79,527.62 98.45,527.46 98.23,527.24 C98.01,527.02 97.84,526.74 97.74,526.48 C97.64,526.21 97.63,525.91 97.63,525.63 C97.63,525.35 97.72,525.07 97.73,524.80 C97.74,524.53 97.66,524.25 97.68,523.98 C97.71,523.71 97.78,523.43 97.90,523.17 C98.02,522.91 98.21,522.67 98.41,522.45 C98.61,522.22 98.88,522.04 99.10,521.83 C99.32,521.62 99.50,521.37 99.75,521.20 C100.01,521.02 100.32,520.87 100.64,520.77 C100.96,520.67 101.32,520.63 101.66,520.60 C101.99,520.57 102.33,520.61 102.65,520.58 C102.98,520.55 103.28,520.45 103.60,520.42 C103.92,520.40 104.26,520.38 104.58,520.42 C104.91,520.45 105.23,520.53 105.53,520.63 C105.84,520.72 106.11,520.86 106.41,520.97 C106.72,521.08 107.07,521.14 107.35,521.29 C107.63,521.43 107.89,521.63 108.09,521.84 C108.29,522.05 108.41,522.32 108.53,522.56 C108.65,522.81 108.68,523.07 108.79,523.32 C108.90,523.56 109.10,523.78 109.21,524.02 C109.32,524.27 109.41,524.53 109.46,524.80Z" fill="#8ed4c6"/>
<path d="M123.60,519.00 C123.52,519.42 123.48,519.83 123.39,520.23 C123.30,520.63 123.25,521.06 123.06,521.43 C122.87,521.79 122.51,522.09 122.24,522.41 C121.98,522.72 121.75,523.04 121.47,523.34 C121.20,523.63 120.93,523.96 120.59,524.16 C120.24,524.37 119.78,524.43 119.41,524.58 C119.03,524.72 118.70,524.89 118.33,525.05 C117.96,525.20 117.61,525.42 117.22,525.52 C116.83,525.62 116.42,525.58 116.00,525.64 C115.58,525.71 115.16,525.86 114.70,525.94 C114.25,526.01 113.73,526.14 113.27,526.10 C112.80,526.05 112.37,525.83 111.94,525.65 C111.50,525.47 111.04,525.28 110.65,525.02 C110.26,524.76 109.84,524.46 109.59,524.08 C109.34,523.70 109.28,523.17 109.16,522.73 C109.04,522.29 108.95,521.87 108.88,521.45 C108.81,521.03 108.72,520.62 108.75,520.21 C108.77,519.80 108.97,519.39 109.02,519.00 C109.07,518.61 109.04,518.24 109.06,517.84 C109.07,517.45 109.00,517.01 109.09,516.62 C109.18,516.23 109.42,515.88 109.60,515.51 C109.78,515.14 109.94,514.74 110.17,514.38 C110.41,514.03 110.66,513.63 111.01,513.38 C111.36,513.14 111.86,513.05 112.28,512.91 C112.70,512.78 113.10,512.65 113.52,512.55 C113.93,512.46 114.34,512.34 114.76,512.33 C115.17,512.33 115.59,512.50 116.00,512.52 C116.41,512.55 116.79,512.51 117.21,512.50 C117.63,512.49 118.10,512.40 118.52,512.46 C118.94,512.52 119.33,512.72 119.75,512.86 C120.18,513.00 120.64,513.11 121.06,513.30 C121.48,513.50 121.97,513.70 122.29,514.01 C122.61,514.33 122.78,514.79 122.99,515.19 C123.21,515.58 123.41,515.98 123.56,516.40 C123.71,516.82 123.87,517.26 123.87,517.69 C123.88,518.12 123.68,518.58 123.60,519.00Z" fill="#a6cd68"/>
<path d="M136.75,521.50 C136.75,521.81 136.82,522.12 136.80,522.43 C136.79,522.74 136.75,523.06 136.67,523.37 C136.60,523.68 136.44,523.96 136.36,524.30 C136.27,524.65 136.31,525.09 136.18,525.44 C136.05,525.79 135.83,526.15 135.55,526.42 C135.28,526.69 134.89,526.87 134.53,527.05 C134.18,527.23 133.79,527.37 133.41,527.50 C133.03,527.64 132.64,527.80 132.24,527.85 C131.83,527.91 131.40,527.88 131.00,527.82 C130.60,527.76 130.23,527.57 129.84,527.49 C129.45,527.40 129.04,527.42 128.66,527.33 C128.28,527.24 127.87,527.12 127.54,526.93 C127.21,526.74 126.91,526.46 126.65,526.20 C126.39,525.93 126.20,525.60 125.98,525.32 C125.75,525.04 125.45,524.80 125.28,524.50 C125.10,524.19 124.98,523.84 124.92,523.51 C124.86,523.17 124.94,522.81 124.91,522.47 C124.88,522.14 124.81,521.83 124.76,521.50 C124.71,521.17 124.62,520.82 124.63,520.48 C124.64,520.14 124.72,519.79 124.85,519.47 C124.97,519.15 125.22,518.88 125.38,518.56 C125.54,518.24 125.60,517.85 125.80,517.55 C126.01,517.25 126.30,516.97 126.62,516.77 C126.94,516.57 127.35,516.47 127.71,516.34 C128.07,516.21 128.43,516.11 128.79,515.99 C129.14,515.87 129.48,515.69 129.85,515.60 C130.22,515.51 130.62,515.47 131.00,515.46 C131.38,515.45 131.76,515.54 132.16,515.53 C132.57,515.53 133.01,515.42 133.43,515.44 C133.86,515.47 134.32,515.53 134.70,515.69 C135.08,515.85 135.43,516.12 135.72,516.40 C136.00,516.69 136.20,517.06 136.42,517.38 C136.63,517.71 136.88,518.02 136.99,518.37 C137.10,518.72 137.13,519.12 137.10,519.49 C137.07,519.85 136.89,520.23 136.83,520.57 C136.77,520.90 136.76,521.19 136.75,521.50Z" fill="#d7d7d7"/>
<path d="M147.67,531.50 C147.75,531.92 147.76,532.36 147.77,532.81 C147.78,533.26 147.77,533.71 147.75,534.19 C147.73,534.68 147.77,535.24 147.65,535.70 C147.54,536.15 147.31,536.60 147.06,536.93 C146.80,537.27 146.42,537.47 146.12,537.72 C145.81,537.98 145.55,538.31 145.22,538.48 C144.89,538.64 144.51,538.70 144.16,538.68 C143.81,538.67 143.44,538.45 143.11,538.41 C142.79,538.38 142.51,538.45 142.20,538.46 C141.89,538.46 141.58,538.50 141.28,538.44 C140.98,538.38 140.70,538.21 140.40,538.11 C140.09,538.01 139.78,537.95 139.46,537.83 C139.15,537.70 138.78,537.61 138.50,537.37 C138.23,537.14 138.01,536.76 137.82,536.40 C137.63,536.04 137.52,535.61 137.38,535.21 C137.23,534.82 137.02,534.46 136.94,534.05 C136.85,533.64 136.84,533.18 136.86,532.76 C136.88,532.33 137.05,531.92 137.05,531.50 C137.05,531.08 136.89,530.67 136.88,530.25 C136.86,529.82 136.87,529.37 136.94,528.95 C137.01,528.53 137.19,528.16 137.31,527.74 C137.43,527.31 137.49,526.83 137.65,526.41 C137.81,525.99 138.00,525.54 138.25,525.23 C138.51,524.91 138.86,524.73 139.18,524.54 C139.50,524.34 139.84,524.21 140.17,524.07 C140.50,523.94 140.83,523.76 141.17,523.73 C141.51,523.70 141.87,523.80 142.20,523.90 C142.53,524.00 142.83,524.22 143.15,524.33 C143.47,524.43 143.80,524.39 144.10,524.53 C144.40,524.67 144.70,524.89 144.94,525.17 C145.18,525.44 145.34,525.87 145.55,526.17 C145.77,526.47 146.06,526.66 146.26,526.96 C146.46,527.26 146.64,527.62 146.76,527.99 C146.88,528.36 146.88,528.80 146.97,529.18 C147.07,529.57 147.20,529.91 147.32,530.30 C147.43,530.68 147.60,531.08 147.67,531.50Z" fill="#6f90d6"/>
<path d="M131.18,526.50 C131.11,526.94 131.02,527.36 130.94,527.79 C130.86,528.23 130.87,528.69 130.71,529.09 C130.54,529.48 130.23,529.83 129.97,530.18 C129.71,530.53 129.44,530.84 129.16,531.16 C128.88,531.48 128.63,531.86 128.29,532.09 C127.95,532.32 127.49,532.42 127.09,532.55 C126.70,532.69 126.31,532.78 125.93,532.91 C125.55,533.03 125.19,533.24 124.80,533.30 C124.41,533.36 124.00,533.28 123.60,533.29 C123.20,533.29 122.81,533.31 122.40,533.32 C121.98,533.34 121.51,533.45 121.10,533.37 C120.68,533.30 120.30,533.07 119.92,532.88 C119.54,532.69 119.17,532.46 118.81,532.21 C118.45,531.96 118.04,531.73 117.78,531.39 C117.51,531.05 117.39,530.58 117.24,530.17 C117.09,529.77 116.98,529.36 116.85,528.96 C116.71,528.56 116.50,528.17 116.43,527.76 C116.36,527.35 116.43,526.92 116.42,526.50 C116.40,526.08 116.37,525.67 116.35,525.22 C116.33,524.78 116.20,524.28 116.28,523.84 C116.35,523.39 116.59,522.97 116.80,522.57 C117.02,522.17 117.28,521.79 117.57,521.44 C117.85,521.08 118.14,520.68 118.53,520.46 C118.92,520.24 119.46,520.18 119.91,520.11 C120.36,520.03 120.81,520.04 121.24,520.01 C121.66,519.98 122.05,519.89 122.44,519.93 C122.84,519.96 123.22,520.15 123.60,520.21 C123.98,520.27 124.31,520.30 124.69,520.29 C125.08,520.29 125.50,520.15 125.90,520.18 C126.30,520.21 126.68,520.35 127.09,520.46 C127.49,520.58 127.91,520.70 128.33,520.87 C128.75,521.03 129.26,521.18 129.60,521.47 C129.94,521.75 130.16,522.19 130.39,522.58 C130.61,522.98 130.78,523.40 130.94,523.83 C131.10,524.25 131.31,524.69 131.35,525.13 C131.39,525.58 131.24,526.06 131.18,526.50Z" fill="#7ccaef"/>
<path d="M113.47,531.00 C113.44,531.42 113.61,531.83 113.55,532.24 C113.50,532.64 113.22,532.99 113.12,533.41 C113.03,533.83 113.12,534.33 112.99,534.76 C112.86,535.19 112.65,535.64 112.36,535.99 C112.06,536.35 111.60,536.60 111.23,536.91 C110.85,537.22 110.55,537.67 110.10,537.87 C109.66,538.08 109.06,538.06 108.55,538.15 C108.05,538.24 107.58,538.36 107.09,538.42 C106.59,538.48 106.09,538.55 105.60,538.51 C105.11,538.47 104.66,538.22 104.16,538.19 C103.66,538.16 103.09,538.37 102.58,538.31 C102.07,538.25 101.60,538.02 101.12,537.84 C100.64,537.66 100.14,537.46 99.68,537.21 C99.22,536.97 98.66,536.74 98.33,536.37 C98.00,536.01 97.94,535.45 97.70,535.02 C97.46,534.59 97.04,534.23 96.89,533.79 C96.73,533.35 96.76,532.84 96.77,532.37 C96.79,531.91 96.93,531.45 96.97,531.00 C97.01,530.55 96.89,530.09 97.02,529.67 C97.15,529.25 97.55,528.89 97.76,528.49 C97.96,528.08 98.01,527.64 98.25,527.26 C98.48,526.89 98.80,526.53 99.16,526.24 C99.52,525.95 100.02,525.80 100.40,525.55 C100.79,525.29 101.06,524.90 101.47,524.70 C101.88,524.51 102.41,524.51 102.86,524.37 C103.31,524.23 103.72,524.03 104.17,523.87 C104.63,523.72 105.11,523.52 105.60,523.45 C106.09,523.38 106.57,523.51 107.11,523.45 C107.65,523.40 108.29,523.11 108.85,523.13 C109.41,523.15 109.95,523.38 110.46,523.59 C110.97,523.79 111.48,524.05 111.93,524.36 C112.37,524.67 112.87,525.00 113.13,525.44 C113.38,525.88 113.33,526.52 113.47,527.00 C113.60,527.48 113.87,527.88 113.92,528.33 C113.97,528.79 113.84,529.29 113.76,529.73 C113.69,530.18 113.51,530.58 113.47,531.00Z" fill="#1f4b78"/>
<path d="M143.90,532.00 C143.97,532.41 143.85,532.84 143.83,533.28 C143.82,533.72 143.89,534.18 143.83,534.64 C143.78,535.10 143.74,535.62 143.51,536.03 C143.28,536.43 142.78,536.70 142.46,537.07 C142.13,537.44 141.95,537.96 141.56,538.26 C141.16,538.55 140.58,538.69 140.09,538.85 C139.59,539.01 139.08,539.10 138.59,539.23 C138.09,539.35 137.62,539.55 137.12,539.59 C136.62,539.62 136.11,539.40 135.60,539.42 C135.09,539.44 134.58,539.70 134.06,539.72 C133.54,539.74 132.99,539.66 132.48,539.55 C131.97,539.43 131.49,539.22 130.99,539.03 C130.49,538.84 129.87,538.74 129.48,538.42 C129.09,538.11 128.90,537.56 128.64,537.14 C128.38,536.73 128.07,536.35 127.91,535.91 C127.75,535.48 127.68,534.99 127.70,534.53 C127.71,534.08 127.97,533.60 128.00,533.18 C128.02,532.76 127.82,532.39 127.83,532.00 C127.85,531.61 128.05,531.24 128.08,530.83 C128.12,530.43 128.04,530.02 128.05,529.58 C128.06,529.14 128.01,528.63 128.15,528.21 C128.29,527.79 128.67,527.48 128.89,527.04 C129.12,526.61 129.19,525.99 129.52,525.61 C129.84,525.23 130.37,524.99 130.85,524.75 C131.32,524.51 131.85,524.33 132.36,524.17 C132.88,524.01 133.42,523.79 133.95,523.78 C134.49,523.77 135.06,524.05 135.60,524.11 C136.14,524.16 136.67,524.03 137.18,524.11 C137.69,524.20 138.19,524.40 138.65,524.61 C139.11,524.82 139.51,525.14 139.94,525.38 C140.37,525.62 140.90,525.75 141.25,526.07 C141.59,526.39 141.74,526.89 142.00,527.27 C142.26,527.64 142.61,527.95 142.83,528.32 C143.05,528.70 143.22,529.11 143.32,529.53 C143.41,529.94 143.30,530.38 143.39,530.79 C143.49,531.20 143.83,531.59 143.90,532.00Z" fill="#f7d59b"/>
<path d="M110,537 C111,529 124,528 126,535 L122,536 C120,532 115,532 114,538Z" fill="#e77d9b"/>
<path d="M136.85,542.00 C136.86,542.46 136.97,542.92 136.84,543.37 C136.72,543.82 136.30,544.23 136.10,544.69 C135.90,545.15 136.05,545.72 135.66,546.14 C135.27,546.56 134.33,546.82 133.77,547.22 C133.21,547.61 132.99,548.20 132.29,548.52 C131.60,548.83 130.48,548.91 129.61,549.12 C128.74,549.32 127.96,549.62 127.06,549.74 C126.16,549.86 125.15,549.82 124.22,549.83 C123.30,549.83 122.40,549.80 121.50,549.77 C120.60,549.74 119.69,549.75 118.84,549.64 C117.99,549.52 117.24,549.25 116.41,549.09 C115.58,548.94 114.57,548.95 113.86,548.71 C113.15,548.46 112.80,547.95 112.15,547.65 C111.50,547.35 110.49,547.23 109.97,546.90 C109.44,546.57 109.37,546.05 108.98,545.66 C108.59,545.27 107.97,544.95 107.62,544.56 C107.28,544.17 107.17,543.73 106.94,543.30 C106.70,542.87 106.46,542.45 106.23,542.00 C106.00,541.55 105.62,541.06 105.56,540.58 C105.49,540.09 105.74,539.62 105.84,539.11 C105.95,538.60 105.76,537.97 106.18,537.52 C106.59,537.06 107.63,536.78 108.31,536.39 C108.99,536.01 109.39,535.45 110.23,535.19 C111.07,534.94 112.37,534.96 113.35,534.85 C114.34,534.74 115.21,534.57 116.15,534.55 C117.08,534.53 118.08,534.67 118.97,534.73 C119.86,534.80 120.67,534.87 121.50,534.91 C122.33,534.95 123.14,534.91 123.95,534.96 C124.76,535.02 125.48,535.20 126.34,535.26 C127.20,535.32 128.29,535.19 129.10,535.33 C129.92,535.47 130.44,535.89 131.24,536.12 C132.04,536.35 133.24,536.42 133.90,536.73 C134.56,537.04 134.75,537.58 135.18,538.00 C135.62,538.41 136.24,538.79 136.51,539.23 C136.78,539.67 136.74,540.17 136.79,540.63 C136.85,541.10 136.84,541.54 136.85,542.00Z" fill="#0f6867"/>
<path d="M144.80,542.80 C144.82,543.07 144.90,543.35 144.91,543.63 C144.92,543.91 144.92,544.22 144.86,544.50 C144.80,544.78 144.70,545.06 144.56,545.31 C144.42,545.56 144.20,545.76 144.02,545.98 C143.84,546.19 143.68,546.44 143.46,546.61 C143.25,546.79 142.99,546.93 142.73,547.02 C142.47,547.11 142.18,547.13 141.91,547.13 C141.64,547.14 141.36,547.06 141.11,547.02 C140.86,546.99 140.64,546.95 140.40,546.95 C140.16,546.95 139.93,547.03 139.68,547.04 C139.44,547.06 139.18,547.08 138.92,547.05 C138.66,547.02 138.39,546.97 138.14,546.88 C137.89,546.79 137.67,546.64 137.42,546.51 C137.17,546.38 136.86,546.29 136.63,546.11 C136.39,545.93 136.16,545.71 136.00,545.45 C135.84,545.20 135.73,544.90 135.66,544.60 C135.60,544.31 135.62,543.98 135.62,543.68 C135.63,543.38 135.67,543.09 135.69,542.80 C135.71,542.51 135.69,542.22 135.74,541.94 C135.79,541.66 135.88,541.38 136.00,541.12 C136.11,540.87 136.28,540.63 136.45,540.42 C136.63,540.21 136.87,540.06 137.06,539.87 C137.25,539.69 137.40,539.47 137.59,539.30 C137.78,539.13 138.00,538.98 138.22,538.86 C138.45,538.75 138.70,538.67 138.94,538.61 C139.18,538.55 139.43,538.55 139.68,538.51 C139.92,538.48 140.15,538.45 140.40,538.39 C140.65,538.34 140.91,538.21 141.18,538.18 C141.45,538.14 141.74,538.12 142.01,538.17 C142.29,538.21 142.57,538.30 142.81,538.44 C143.05,538.57 143.25,538.79 143.47,538.97 C143.69,539.15 143.94,539.31 144.13,539.53 C144.31,539.75 144.47,540.01 144.58,540.27 C144.69,540.54 144.76,540.84 144.79,541.13 C144.83,541.42 144.79,541.71 144.79,541.99 C144.79,542.27 144.78,542.53 144.80,542.80Z" fill="#7a7a7a"/>
<path d="M110.58,544.20 C110.58,544.63 110.42,545.07 110.30,545.49 C110.18,545.91 110.01,546.30 109.87,546.72 C109.74,547.13 109.72,547.62 109.50,547.99 C109.27,548.36 108.84,548.64 108.52,548.95 C108.19,549.26 107.89,549.59 107.54,549.87 C107.19,550.15 106.84,550.47 106.42,550.65 C106.01,550.82 105.48,550.78 105.05,550.92 C104.61,551.07 104.24,551.36 103.80,551.52 C103.36,551.68 102.88,551.82 102.40,551.87 C101.92,551.93 101.46,551.80 100.94,551.85 C100.42,551.89 99.82,552.15 99.28,552.13 C98.75,552.10 98.20,551.91 97.73,551.68 C97.26,551.46 96.85,551.10 96.44,550.77 C96.03,550.45 95.53,550.16 95.27,549.74 C95.01,549.31 94.96,548.71 94.87,548.22 C94.78,547.73 94.77,547.24 94.74,546.78 C94.72,546.32 94.65,545.88 94.72,545.45 C94.80,545.02 95.11,544.61 95.18,544.20 C95.24,543.79 95.13,543.42 95.13,543.01 C95.13,542.61 95.09,542.17 95.19,541.77 C95.29,541.38 95.59,541.06 95.72,540.63 C95.85,540.20 95.77,539.63 95.96,539.20 C96.15,538.78 96.50,538.40 96.87,538.10 C97.23,537.80 97.73,537.64 98.15,537.39 C98.58,537.15 98.96,536.79 99.43,536.64 C99.89,536.50 100.44,536.55 100.94,536.53 C101.43,536.51 101.91,536.55 102.40,536.54 C102.89,536.54 103.40,536.41 103.87,536.48 C104.35,536.54 104.79,536.80 105.26,536.94 C105.73,537.07 106.24,537.12 106.71,537.29 C107.18,537.46 107.70,537.64 108.07,537.95 C108.44,538.26 108.62,538.76 108.93,539.13 C109.24,539.50 109.69,539.78 109.93,540.18 C110.17,540.58 110.32,541.06 110.38,541.51 C110.45,541.97 110.29,542.46 110.33,542.91 C110.36,543.36 110.58,543.77 110.58,544.20Z" fill="#e6c152"/>
<path d="M137.72,548.60 C137.67,548.99 137.53,549.35 137.54,549.76 C137.54,550.17 137.75,550.63 137.72,551.06 C137.70,551.48 137.53,551.89 137.39,552.31 C137.26,552.74 137.11,553.18 136.91,553.61 C136.71,554.05 136.52,554.57 136.18,554.90 C135.85,555.24 135.32,555.40 134.88,555.63 C134.44,555.86 134.02,556.14 133.56,556.29 C133.09,556.45 132.57,556.58 132.08,556.56 C131.59,556.55 131.08,556.26 130.60,556.19 C130.12,556.13 129.64,556.26 129.19,556.18 C128.74,556.09 128.28,555.90 127.88,555.68 C127.48,555.46 127.17,555.09 126.79,554.85 C126.41,554.61 125.94,554.51 125.62,554.22 C125.30,553.94 125.09,553.52 124.87,553.15 C124.66,552.79 124.51,552.40 124.31,552.04 C124.11,551.68 123.81,551.36 123.68,550.99 C123.55,550.61 123.61,550.18 123.52,549.78 C123.44,549.38 123.27,549.01 123.15,548.60 C123.04,548.19 122.85,547.73 122.84,547.30 C122.83,546.87 123.04,546.47 123.10,546.02 C123.17,545.56 123.08,545.02 123.22,544.57 C123.37,544.12 123.62,543.66 123.96,543.32 C124.29,542.98 124.82,542.80 125.23,542.53 C125.63,542.26 125.95,541.87 126.39,541.69 C126.83,541.51 127.37,541.49 127.85,541.45 C128.33,541.41 128.81,541.49 129.27,541.46 C129.73,541.42 130.16,541.25 130.60,541.25 C131.04,541.25 131.48,541.40 131.93,541.45 C132.38,541.50 132.84,541.50 133.30,541.56 C133.77,541.63 134.31,541.64 134.72,541.83 C135.14,542.02 135.45,542.43 135.81,542.72 C136.17,543.02 136.60,543.25 136.89,543.60 C137.18,543.95 137.42,544.38 137.53,544.81 C137.63,545.25 137.46,545.79 137.51,546.22 C137.56,546.65 137.79,547.00 137.82,547.39 C137.86,547.79 137.76,548.21 137.72,548.60Z" fill="#a2b2ea"/>
<path d="M127.26,550.60 C127.33,550.93 127.51,551.27 127.57,551.62 C127.62,551.97 127.65,552.36 127.59,552.71 C127.53,553.06 127.39,553.41 127.21,553.72 C127.04,554.04 126.77,554.30 126.53,554.57 C126.30,554.84 126.07,555.15 125.78,555.34 C125.48,555.54 125.12,555.67 124.76,555.73 C124.41,555.80 124.01,555.76 123.66,555.72 C123.32,555.69 122.98,555.55 122.67,555.52 C122.36,555.49 122.09,555.55 121.80,555.55 C121.51,555.55 121.22,555.55 120.93,555.52 C120.64,555.49 120.36,555.43 120.07,555.37 C119.77,555.30 119.50,555.20 119.18,555.13 C118.86,555.06 118.47,555.07 118.16,554.94 C117.84,554.82 117.52,554.63 117.27,554.40 C117.03,554.17 116.84,553.85 116.70,553.55 C116.55,553.24 116.50,552.89 116.39,552.57 C116.28,552.25 116.12,551.94 116.06,551.61 C115.99,551.28 115.98,550.93 116.00,550.60 C116.03,550.27 116.11,549.93 116.20,549.61 C116.28,549.29 116.43,549.00 116.52,548.68 C116.61,548.36 116.62,548.00 116.75,547.68 C116.87,547.37 117.05,547.05 117.27,546.80 C117.49,546.55 117.79,546.34 118.08,546.17 C118.37,545.99 118.71,545.90 119.01,545.76 C119.30,545.62 119.57,545.42 119.88,545.32 C120.18,545.22 120.52,545.16 120.84,545.14 C121.16,545.13 121.49,545.19 121.80,545.24 C122.11,545.28 122.40,545.38 122.71,545.42 C123.03,545.45 123.36,545.40 123.67,545.46 C123.98,545.52 124.31,545.62 124.59,545.77 C124.86,545.93 125.12,546.16 125.34,546.39 C125.56,546.61 125.71,546.90 125.91,547.15 C126.12,547.39 126.37,547.60 126.54,547.86 C126.72,548.12 126.86,548.42 126.96,548.72 C127.06,549.02 127.10,549.34 127.15,549.66 C127.20,549.97 127.19,550.27 127.26,550.60Z" fill="#d7882b"/>
<path d="M119.55,552.20 C119.52,552.51 119.43,552.83 119.28,553.12 C119.14,553.41 118.85,553.66 118.67,553.93 C118.48,554.20 118.37,554.47 118.17,554.72 C117.98,554.98 117.78,555.25 117.51,555.45 C117.24,555.66 116.89,555.82 116.55,555.95 C116.22,556.08 115.82,556.12 115.49,556.25 C115.16,556.38 114.89,556.59 114.57,556.71 C114.24,556.83 113.88,556.93 113.52,556.99 C113.15,557.06 112.78,557.04 112.40,557.08 C112.02,557.12 111.64,557.20 111.23,557.25 C110.81,557.30 110.34,557.40 109.91,557.38 C109.48,557.36 109.03,557.27 108.65,557.12 C108.27,556.97 107.98,556.71 107.64,556.50 C107.31,556.29 106.91,556.11 106.64,555.86 C106.37,555.61 106.14,555.30 106.02,554.99 C105.89,554.68 105.90,554.32 105.89,554.00 C105.87,553.67 105.95,553.36 105.93,553.06 C105.91,552.77 105.80,552.49 105.79,552.20 C105.77,551.91 105.78,551.61 105.85,551.32 C105.91,551.04 106.08,550.77 106.17,550.48 C106.27,550.19 106.28,549.87 106.41,549.58 C106.53,549.28 106.67,548.96 106.91,548.71 C107.15,548.47 107.51,548.26 107.87,548.11 C108.22,547.95 108.67,547.91 109.05,547.80 C109.42,547.69 109.75,547.52 110.12,547.45 C110.49,547.38 110.90,547.36 111.28,547.37 C111.66,547.38 112.03,547.49 112.40,547.51 C112.77,547.54 113.11,547.53 113.49,547.52 C113.87,547.51 114.29,547.43 114.68,547.44 C115.08,547.46 115.51,547.52 115.88,547.63 C116.26,547.74 116.57,547.94 116.94,548.10 C117.32,548.25 117.78,548.36 118.13,548.56 C118.47,548.76 118.80,549.03 119.00,549.31 C119.21,549.60 119.30,549.95 119.37,550.28 C119.45,550.60 119.42,550.94 119.45,551.26 C119.48,551.58 119.58,551.89 119.55,552.20Z" fill="#f1b2bb"/>
<text x="108.00" y="543.40" font-size="6.4" stroke="#f4fbfb" stroke-width="0.16" fill="#f4fbfb" textLength="25.60" lengthAdjust="spacingAndGlyphs">SMARCA4</text>
<path d="M93,517 C84,521 84,528 88.5,532.5" fill="none" stroke="#111" stroke-width="1.3"/>
<path d="M85.5,531.5 L91.5,532.5 L89.5,536.8Z" fill="#111"/>
<path d="M147.5,516.5 C156,520 157,527 152.5,532.0" fill="none" stroke="#111" stroke-width="1.3"/>
<path d="M155.4,531 L149.6,532.4 L151.6,536.6Z" fill="#111"/>
<path d="M41.5,530.5 C32,540 34,552 47,557.5" fill="none" stroke="#111" stroke-width="1.5"/>
<path d="M44.8,553.5 L55.5,559.8 L43.6,561.8Z" fill="#111"/>
<path d="M179.00,533.00 Q170.30,525.59 166.00,519.50" fill="none" stroke="#93308f" stroke-width="1.0"/>
<path d="M183.80,533.00 Q174.95,525.29 170.50,518.90" fill="none" stroke="#93308f" stroke-width="1.0"/>
<path d="M188.60,533.00 Q179.60,524.99 175.00,518.30" fill="none" stroke="#93308f" stroke-width="1.0"/>
<path d="M193.40,533.00 Q184.25,524.69 179.50,517.70" fill="none" stroke="#93308f" stroke-width="1.0"/>
<path d="M198.20,533.00 Q188.90,524.39 184.00,517.10" fill="none" stroke="#93308f" stroke-width="1.0"/>
<path d="M203.00,533.00 Q193.55,524.09 188.50,516.50" fill="none" stroke="#93308f" stroke-width="1.0"/>
<path d="M175.75,529.62 Q178.11,527.95 180.47,529.48 Q182.84,527.80 185.20,529.33 Q187.56,527.65 189.93,529.17 Q192.29,527.50 194.65,529.02 Q197.01,527.35 199.38,528.88" fill="none" stroke="#93308f" stroke-width="1.0"/>
<path d="M169.25,522.88 Q171.54,521.05 173.82,522.42 Q176.11,520.60 178.40,521.98 Q180.69,520.15 182.97,521.52 Q185.26,519.70 187.55,521.08 Q189.84,519.25 192.12,520.62" fill="none" stroke="#93308f" stroke-width="1.0"/>
<path d="M166.00,519.50 Q168.25,517.00 170.50,518.90 Q172.75,516.40 175.00,518.30 Q177.25,515.80 179.50,517.70 Q181.75,515.20 184.00,517.10 Q186.25,514.60 188.50,516.50" fill="none" stroke="#93308f" stroke-width="1.0"/>
<path d="M177,519.5 L187.5,529.5 M187.5,519.5 L177,529.5" stroke="#f3a3ad" stroke-width="3.0" stroke-linecap="round"/>
<text x="168.10" y="544.80" font-size="7.3" stroke="#1e1e1e" stroke-width="0.16" fill="#1e1e1e" textLength="45.00" lengthAdjust="spacingAndGlyphs">Differentiation</text>
<ellipse cx="180.8" cy="553.5" rx="4.6" ry="5.0" fill="#6b6b6b"/>
<ellipse cx="182.2" cy="553.4" rx="4.0" ry="4.6" fill="#d9262c"/>
<ellipse cx="183.0" cy="551.8" rx="1.5" ry="1.2" fill="#ef6a6a"/>
<path d="M148.2,582 L148.2,553.6 L168,553.6" fill="none" stroke="#3c4468" stroke-width="1.6"/>
<path d="M166.5,550 L174,553.6 L166.5,557.2Z" fill="#3c4468"/>
<path d="M22,583 L31.3,583 C36.3,583 38.3,578 44.3,582.5 L61.6,583 C66.6,583 68.6,578 74.6,582.5 L92.7,583 C97.7,583 99.7,578 105.7,582.5 L123.2,583 C128.2,583 130.2,578 136.2,582.5 L153.8,583 C158.8,583 160.8,578 166.8,582.5 L184.5,583 C189.5,583 191.5,578 197.5,582.5 L208,583" fill="none" stroke="#e397c2" stroke-width="1.3"/>
<g transform="rotate(-26 40.30 574.80)">
<ellipse cx="40.30" cy="574.80" rx="6.2" ry="8.0" fill="#f4c3db"/>
<path d="M42.30,567.80 Q43.90,574.80 42.30,581.80" fill="none" stroke="#e184b6" stroke-width="0.9"/>
<path d="M43.90,567.80 Q45.50,574.80 43.90,581.80" fill="none" stroke="#e184b6" stroke-width="0.9"/>
<path d="M45.30,567.80 Q46.90,574.80 45.30,581.80" fill="none" stroke="#e184b6" stroke-width="0.9"/>
<ellipse cx="39.10" cy="574.80" rx="4.0" ry="7.0" fill="#fbe0ec" opacity="0.6"/>
</g>
<g transform="rotate(-26 70.60 574.80)">
<ellipse cx="70.60" cy="574.80" rx="6.2" ry="8.0" fill="#f4c3db"/>
<path d="M72.60,567.80 Q74.20,574.80 72.60,581.80" fill="none" stroke="#e184b6" stroke-width="0.9"/>
<path d="M74.20,567.80 Q75.80,574.80 74.20,581.80" fill="none" stroke="#e184b6" stroke-width="0.9"/>
<path d="M75.60,567.80 Q77.20,574.80 75.60,581.80" fill="none" stroke="#e184b6" stroke-width="0.9"/>
<ellipse cx="69.40" cy="574.80" rx="4.0" ry="7.0" fill="#fbe0ec" opacity="0.6"/>
</g>
<g transform="rotate(-26 101.70 574.80)">
<ellipse cx="101.70" cy="574.80" rx="6.2" ry="8.0" fill="#f4c3db"/>
<path d="M103.70,567.80 Q105.30,574.80 103.70,581.80" fill="none" stroke="#e184b6" stroke-width="0.9"/>
<path d="M105.30,567.80 Q106.90,574.80 105.30,581.80" fill="none" stroke="#e184b6" stroke-width="0.9"/>
<path d="M106.70,567.80 Q108.30,574.80 106.70,581.80" fill="none" stroke="#e184b6" stroke-width="0.9"/>
<ellipse cx="100.50" cy="574.80" rx="4.0" ry="7.0" fill="#fbe0ec" opacity="0.6"/>
</g>
<g transform="rotate(-26 132.20 574.80)">
<ellipse cx="132.20" cy="574.80" rx="6.2" ry="8.0" fill="#f4c3db"/>
<path d="M134.20,567.80 Q135.80,574.80 134.20,581.80" fill="none" stroke="#e184b6" stroke-width="0.9"/>
<path d="M135.80,567.80 Q137.40,574.80 135.80,581.80" fill="none" stroke="#e184b6" stroke-width="0.9"/>
<path d="M137.20,567.80 Q138.80,574.80 137.20,581.80" fill="none" stroke="#e184b6" stroke-width="0.9"/>
<ellipse cx="131.00" cy="574.80" rx="4.0" ry="7.0" fill="#fbe0ec" opacity="0.6"/>
</g>
<g transform="rotate(-26 162.80 574.80)">
<ellipse cx="162.80" cy="574.80" rx="6.2" ry="8.0" fill="#f4c3db"/>
<path d="M164.80,567.80 Q166.40,574.80 164.80,581.80" fill="none" stroke="#e184b6" stroke-width="0.9"/>
<path d="M166.40,567.80 Q168.00,574.80 166.40,581.80" fill="none" stroke="#e184b6" stroke-width="0.9"/>
<path d="M167.80,567.80 Q169.40,574.80 167.80,581.80" fill="none" stroke="#e184b6" stroke-width="0.9"/>
<ellipse cx="161.60" cy="574.80" rx="4.0" ry="7.0" fill="#fbe0ec" opacity="0.6"/>
</g>
<g transform="rotate(-26 193.50 574.80)">
<ellipse cx="193.50" cy="574.80" rx="6.2" ry="8.0" fill="#f4c3db"/>
<path d="M195.50,567.80 Q197.10,574.80 195.50,581.80" fill="none" stroke="#e184b6" stroke-width="0.9"/>
<path d="M197.10,567.80 Q198.70,574.80 197.10,581.80" fill="none" stroke="#e184b6" stroke-width="0.9"/>
<path d="M198.50,567.80 Q200.10,574.80 198.50,581.80" fill="none" stroke="#e184b6" stroke-width="0.9"/>
<ellipse cx="192.30" cy="574.80" rx="4.0" ry="7.0" fill="#fbe0ec" opacity="0.6"/>
</g>
<circle cx="36.80" cy="565.20" r="3.7" fill="#6a3c9c" stroke="#ffffff" stroke-width="0.5"/>
<text x="36.80" y="566.40" font-size="3.2" text-anchor="middle" fill="#fff">Me</text>
<circle cx="48.40" cy="577.50" r="3.7" fill="#c52a2e" stroke="#ffffff" stroke-width="0.5"/>
<text x="48.40" y="578.70" font-size="3.2" text-anchor="middle" fill="#fff">Me</text>
<circle cx="66.40" cy="568.00" r="3.7" fill="#6a3c9c" stroke="#ffffff" stroke-width="0.5"/>
<text x="66.40" y="569.20" font-size="3.2" text-anchor="middle" fill="#fff">Me</text>
<circle cx="78.00" cy="575.80" r="3.7" fill="#6a3c9c" stroke="#ffffff" stroke-width="0.5"/>
<text x="78.00" y="577.00" font-size="3.2" text-anchor="middle" fill="#fff">Me</text>
<circle cx="99.20" cy="564.80" r="3.7" fill="#6a3c9c" stroke="#ffffff" stroke-width="0.5"/>
<text x="99.20" y="566.00" font-size="3.2" text-anchor="middle" fill="#fff">Me</text>
<circle cx="95.00" cy="570.50" r="3.7" fill="#c52a2e" stroke="#ffffff" stroke-width="0.5"/>
<text x="95.00" y="571.70" font-size="3.2" text-anchor="middle" fill="#fff">Me</text>
<circle cx="107.40" cy="578.60" r="3.7" fill="#6a3c9c" stroke="#ffffff" stroke-width="0.5"/>
<text x="107.40" y="579.80" font-size="3.2" text-anchor="middle" fill="#fff">Me</text>
<circle cx="130.10" cy="565.40" r="3.7" fill="#6a3c9c" stroke="#ffffff" stroke-width="0.5"/>
<text x="130.10" y="566.60" font-size="3.2" text-anchor="middle" fill="#fff">Me</text>
<circle cx="139.60" cy="578.10" r="3.7" fill="#6a3c9c" stroke="#ffffff" stroke-width="0.5"/>
<text x="139.60" y="579.30" font-size="3.2" text-anchor="middle" fill="#fff">Me</text>
<circle cx="158.20" cy="568.00" r="3.7" fill="#6a3c9c" stroke="#ffffff" stroke-width="0.5"/>
<text x="158.20" y="569.20" font-size="3.2" text-anchor="middle" fill="#fff">Me</text>
<circle cx="171.30" cy="577.10" r="3.7" fill="#6a3c9c" stroke="#ffffff" stroke-width="0.5"/>
<text x="171.30" y="578.30" font-size="3.2" text-anchor="middle" fill="#fff">Me</text>
<circle cx="188.70" cy="568.00" r="3.7" fill="#6a3c9c" stroke="#ffffff" stroke-width="0.5"/>
<text x="188.70" y="569.20" font-size="3.2" text-anchor="middle" fill="#fff">Me</text>
<circle cx="198.90" cy="578.60" r="3.7" fill="#c52a2e" stroke="#ffffff" stroke-width="0.5"/>
<text x="198.90" y="579.80" font-size="3.2" text-anchor="middle" fill="#fff">Me</text>
<path d="M23.5,585 L66,623" stroke="#333" stroke-width="1.1" stroke-dasharray="3,2.2" fill="none"/>
<path d="M205.5,584 L160,619" stroke="#333" stroke-width="1.1" stroke-dasharray="3,2.2" fill="none"/>
<circle cx="76.30" cy="609.20" r="8.0" fill="#8b3a7f" stroke="#c883b7" stroke-width="2.0"/>
<circle cx="97.40" cy="603.30" r="8.0" fill="#8b3a7f" stroke="#c883b7" stroke-width="2.0"/>
<circle cx="67.70" cy="621.30" r="8.0" fill="#8b3a7f" stroke="#c883b7" stroke-width="2.0"/>
<circle cx="93.80" cy="618.70" r="8.0" fill="#8b3a7f" stroke="#c883b7" stroke-width="2.0"/>
<circle cx="83.10" cy="630.80" r="8.0" fill="#8b3a7f" stroke="#c883b7" stroke-width="2.0"/>
<circle cx="114.00" cy="607.90" r="8.0" fill="#8b3a7f" stroke="#c883b7" stroke-width="2.0"/>
<circle cx="107.30" cy="624.80" r="8.0" fill="#8b3a7f" stroke="#c883b7" stroke-width="2.0"/>
<circle cx="123.50" cy="608.70" r="8.0" fill="#ad5560" fill-opacity="0.86" stroke="#e8878b" stroke-opacity="0.92" stroke-width="2.0"/>
<circle cx="147.20" cy="602.50" r="8.0" fill="#ad5560" fill-opacity="0.86" stroke="#e8878b" stroke-opacity="0.92" stroke-width="2.0"/>
<circle cx="163.90" cy="607.30" r="8.0" fill="#ad5560" fill-opacity="0.86" stroke="#e8878b" stroke-opacity="0.92" stroke-width="2.0"/>
<circle cx="118.10" cy="622.70" r="8.0" fill="#ad5560" fill-opacity="0.86" stroke="#e8878b" stroke-opacity="0.92" stroke-width="2.0"/>
<circle cx="141.80" cy="618.70" r="8.0" fill="#ad5560" fill-opacity="0.86" stroke="#e8878b" stroke-opacity="0.92" stroke-width="2.0"/>
<circle cx="157.10" cy="624.80" r="8.0" fill="#ad5560" fill-opacity="0.86" stroke="#e8878b" stroke-opacity="0.92" stroke-width="2.0"/>
<circle cx="132.40" cy="631.30" r="8.0" fill="#ad5560" fill-opacity="0.86" stroke="#e8878b" stroke-opacity="0.92" stroke-width="2.0"/>
<text x="62.10" y="648.80" font-size="8.6" stroke="#1e1e1e" stroke-width="0.16" fill="#1e1e1e" textLength="27.70" lengthAdjust="spacingAndGlyphs">Normal</text>
<text x="126.20" y="648.80" font-size="8.6" stroke="#1e1e1e" stroke-width="0.16" fill="#1e1e1e" textLength="37.10" lengthAdjust="spacingAndGlyphs">Leukemic</text>
<text x="79.80" y="665.80" font-size="9.5" stroke="#7b3a95" stroke-width="0.16" fill="#7b3a95" textLength="63.90" lengthAdjust="spacingAndGlyphs">CD34+ HSPCs</text>
<circle cx="207.2" cy="620.8" r="5.9" fill="#7a4cb0" stroke="#5a2f8e" stroke-width="0.6"/>
<text x="207.2" y="622.9" font-size="5.2" text-anchor="middle" fill="#fff">Me</text>
<circle cx="207.2" cy="635.7" r="5.9" fill="#c93332" stroke="#9c1f22" stroke-width="0.6"/>
<text x="207.2" y="637.8" font-size="5.2" text-anchor="middle" fill="#fff">Me</text>
<text x="217.70" y="623.40" font-size="7.2" stroke="#1e1e1e" stroke-width="0.16" fill="#1e1e1e" textLength="35.30" lengthAdjust="spacingAndGlyphs">H3K27me3</text>
<text x="217.70" y="638.20" font-size="7.2" stroke="#1e1e1e" stroke-width="0.16" fill="#1e1e1e" textLength="31.30" lengthAdjust="spacingAndGlyphs">H3K4me3</text>
<text x="310.80" y="494.50" font-size="7.2" stroke="#1e1e1e" stroke-width="0.16" fill="#1e1e1e" textLength="27.50" lengthAdjust="spacingAndGlyphs">ACTL6A</text>
<text x="351.50" y="497.30" font-size="7.2" stroke="#1e1e1e" stroke-width="0.16" fill="#1e1e1e" textLength="37.40" lengthAdjust="spacingAndGlyphs">SMARCD1</text>
<text x="390.80" y="502.60" font-size="7.2" stroke="#1e1e1e" stroke-width="0.16" fill="#1e1e1e" textLength="26.00" lengthAdjust="spacingAndGlyphs">KDM1A</text>
<text x="423.50" y="504.60" font-size="7.2" stroke="#1e1e1e" stroke-width="0.16" fill="#1e1e1e" textLength="25.00" lengthAdjust="spacingAndGlyphs">HDACs</text>
<path d="M333.83,506.50 C333.76,506.98 333.60,507.42 333.56,507.91 C333.52,508.40 333.66,508.91 333.61,509.42 C333.55,509.93 333.38,510.42 333.23,510.95 C333.08,511.49 333.01,512.11 332.71,512.62 C332.42,513.12 331.94,513.55 331.47,513.98 C331.01,514.41 330.53,514.90 329.94,515.20 C329.35,515.50 328.61,515.63 327.94,515.80 C327.26,515.97 326.59,516.17 325.90,516.22 C325.21,516.27 324.49,516.13 323.80,516.10 C323.11,516.06 322.42,516.11 321.75,516.01 C321.09,515.90 320.46,515.65 319.81,515.47 C319.17,515.28 318.47,515.16 317.88,514.89 C317.29,514.61 316.80,514.20 316.29,513.82 C315.78,513.45 315.21,513.11 314.82,512.66 C314.44,512.22 314.23,511.65 313.96,511.15 C313.70,510.65 313.38,510.16 313.23,509.65 C313.08,509.13 313.14,508.57 313.07,508.05 C313.01,507.52 312.86,507.02 312.86,506.50 C312.86,505.98 313.01,505.48 313.07,504.95 C313.14,504.43 313.09,503.87 313.25,503.36 C313.41,502.85 313.75,502.38 314.04,501.89 C314.33,501.41 314.57,500.86 314.98,500.45 C315.40,500.03 315.99,499.73 316.51,499.39 C317.04,499.06 317.54,498.69 318.12,498.45 C318.70,498.21 319.38,498.12 320.00,497.95 C320.62,497.78 321.21,497.53 321.84,497.41 C322.47,497.29 323.13,497.30 323.80,497.21 C324.47,497.13 325.17,496.91 325.87,496.89 C326.57,496.87 327.28,496.98 327.99,497.07 C328.71,497.17 329.52,497.22 330.18,497.46 C330.83,497.71 331.41,498.15 331.94,498.56 C332.48,498.97 333.04,499.40 333.38,499.92 C333.72,500.45 333.82,501.12 333.97,501.70 C334.11,502.27 334.26,502.83 334.25,503.39 C334.24,503.94 334.00,504.52 333.93,505.04 C333.86,505.56 333.89,506.02 333.83,506.50Z" fill="#5eb1b3"/>
<path d="M381.25,509.60 C381.39,510.07 382.00,510.58 382.10,511.08 C382.20,511.57 381.92,512.05 381.84,512.58 C381.75,513.10 381.83,513.72 381.59,514.21 C381.35,514.71 380.87,515.16 380.40,515.56 C379.92,515.97 379.35,516.33 378.75,516.62 C378.16,516.91 377.50,517.19 376.81,517.32 C376.13,517.45 375.32,517.35 374.63,517.40 C373.95,517.45 373.35,517.65 372.71,517.61 C372.07,517.57 371.43,517.20 370.80,517.16 C370.17,517.13 369.55,517.44 368.94,517.42 C368.33,517.40 367.78,517.13 367.15,517.03 C366.52,516.93 365.78,516.99 365.16,516.84 C364.55,516.68 363.98,516.38 363.46,516.08 C362.93,515.79 362.43,515.44 362.01,515.06 C361.59,514.68 361.17,514.27 360.94,513.82 C360.72,513.36 360.78,512.81 360.65,512.34 C360.53,511.86 360.19,511.44 360.19,510.99 C360.20,510.53 360.66,510.06 360.67,509.60 C360.68,509.14 360.23,508.67 360.23,508.22 C360.22,507.76 360.56,507.35 360.66,506.87 C360.76,506.38 360.63,505.81 360.80,505.33 C360.98,504.84 361.33,504.38 361.69,503.94 C362.05,503.50 362.48,503.06 362.96,502.68 C363.45,502.31 364.00,501.91 364.63,501.68 C365.25,501.45 366.03,501.42 366.72,501.29 C367.40,501.16 368.05,500.88 368.73,500.89 C369.41,500.90 370.13,501.28 370.80,501.36 C371.47,501.43 372.15,501.20 372.77,501.31 C373.39,501.43 373.93,501.84 374.51,502.04 C375.10,502.25 375.75,502.32 376.28,502.57 C376.81,502.82 377.24,503.20 377.67,503.54 C378.10,503.87 378.49,504.23 378.86,504.59 C379.22,504.96 379.61,505.32 379.86,505.72 C380.11,506.13 380.12,506.61 380.35,507.03 C380.58,507.44 381.08,507.81 381.23,508.24 C381.38,508.67 381.10,509.13 381.25,509.60Z" fill="#da7393"/>
<path d="M390.00,511.08 C390.00,506.64 397.11,504.10 401.85,504.35 C407.77,504.61 413.70,507.91 413.70,511.72 C413.70,514.89 410.14,516.80 407.06,516.80 C404.22,516.80 402.32,513.62 399.48,514.01 C396.64,514.51 395.21,516.80 392.84,516.16 C390.95,515.53 390.00,513.62 390.00,511.08Z" fill="#a6b9e4" stroke="#6d89cf" stroke-width="0.8"/>
<path d="M448.36,514.60 C448.29,515.09 447.99,515.56 447.81,516.04 C447.63,516.52 447.58,517.01 447.29,517.46 C447.00,517.90 446.49,518.30 446.07,518.71 C445.65,519.12 445.31,519.58 444.77,519.92 C444.23,520.27 443.49,520.51 442.84,520.78 C442.19,521.04 441.58,521.35 440.87,521.54 C440.17,521.72 439.35,521.75 438.61,521.86 C437.87,521.97 437.17,522.15 436.43,522.20 C435.70,522.26 434.95,522.18 434.20,522.20 C433.45,522.22 432.68,522.34 431.93,522.32 C431.18,522.29 430.45,522.15 429.68,522.04 C428.92,521.94 428.07,521.91 427.36,521.71 C426.65,521.52 426.04,521.18 425.41,520.88 C424.79,520.59 424.09,520.31 423.61,519.93 C423.13,519.56 422.87,519.07 422.53,518.64 C422.18,518.22 421.76,517.81 421.53,517.37 C421.31,516.92 421.32,516.44 421.16,515.98 C421.01,515.52 420.71,515.07 420.61,514.60 C420.51,514.13 420.58,513.66 420.57,513.16 C420.56,512.66 420.40,512.11 420.54,511.62 C420.69,511.12 421.08,510.65 421.45,510.18 C421.81,509.72 422.15,509.20 422.73,508.83 C423.31,508.46 424.17,508.21 424.92,507.96 C425.67,507.72 426.43,507.47 427.24,507.37 C428.06,507.27 429.00,507.35 429.80,507.35 C430.61,507.35 431.34,507.31 432.07,507.35 C432.80,507.40 433.50,507.58 434.20,507.62 C434.90,507.65 435.57,507.55 436.27,507.57 C436.96,507.59 437.62,507.69 438.37,507.72 C439.12,507.76 439.99,507.69 440.76,507.78 C441.53,507.88 442.25,508.10 443.00,508.31 C443.75,508.52 444.63,508.71 445.25,509.04 C445.88,509.36 446.30,509.82 446.76,510.25 C447.21,510.68 447.72,511.12 447.96,511.59 C448.21,512.07 448.16,512.62 448.23,513.12 C448.29,513.62 448.43,514.11 448.36,514.60Z" fill="#bfe3f3"/>
<path d="M440.22,517.00 C440.13,517.28 439.83,517.53 439.77,517.81 C439.72,518.09 439.93,518.40 439.89,518.70 C439.85,518.99 439.76,519.31 439.54,519.58 C439.32,519.84 438.87,520.04 438.56,520.29 C438.25,520.54 438.06,520.88 437.68,521.09 C437.30,521.31 436.80,521.50 436.28,521.60 C435.77,521.70 435.12,521.64 434.58,521.71 C434.05,521.77 433.59,521.92 433.08,521.96 C432.56,522.01 432.02,522.02 431.50,521.99 C430.98,521.96 430.51,521.81 429.98,521.79 C429.45,521.77 428.87,521.88 428.31,521.87 C427.76,521.85 427.15,521.79 426.65,521.67 C426.14,521.55 425.76,521.30 425.26,521.13 C424.77,520.96 424.13,520.85 423.70,520.64 C423.26,520.42 422.88,520.14 422.65,519.84 C422.43,519.54 422.49,519.16 422.37,518.85 C422.24,518.53 421.96,518.25 421.90,517.94 C421.83,517.63 421.86,517.30 421.99,517.00 C422.11,516.70 422.49,516.42 422.64,516.13 C422.79,515.84 422.72,515.53 422.89,515.26 C423.05,514.98 423.29,514.70 423.62,514.47 C423.95,514.25 424.49,514.11 424.86,513.90 C425.23,513.70 425.44,513.42 425.81,513.24 C426.19,513.05 426.65,512.88 427.11,512.78 C427.58,512.67 428.15,512.71 428.62,512.61 C429.10,512.50 429.49,512.28 429.97,512.17 C430.45,512.05 430.98,511.95 431.50,511.91 C432.02,511.87 432.54,511.94 433.12,511.91 C433.69,511.88 434.35,511.72 434.95,511.73 C435.56,511.74 436.22,511.80 436.75,511.95 C437.28,512.10 437.66,512.40 438.12,512.62 C438.57,512.84 439.14,513.01 439.48,513.28 C439.83,513.54 440.09,513.88 440.19,514.21 C440.30,514.54 440.09,514.94 440.11,515.26 C440.14,515.58 440.32,515.84 440.34,516.13 C440.36,516.42 440.32,516.72 440.22,517.00Z" fill="#aed8ec"/>
<ellipse cx="425.0" cy="533.0" rx="10.5" ry="6.0" fill="#3e2e7a"/>
<path d="M417.10,532.00 C417.13,532.43 417.43,532.87 417.46,533.32 C417.49,533.76 417.40,534.22 417.28,534.66 C417.16,535.10 416.92,535.50 416.72,535.93 C416.53,536.37 416.44,536.91 416.11,537.27 C415.79,537.63 415.22,537.81 414.79,538.08 C414.35,538.36 413.98,538.70 413.52,538.92 C413.07,539.13 412.55,539.29 412.04,539.38 C411.54,539.47 410.99,539.36 410.49,539.44 C409.98,539.52 409.51,539.81 409.00,539.86 C408.49,539.92 407.98,539.79 407.45,539.77 C406.92,539.75 406.36,539.79 405.81,539.73 C405.27,539.66 404.65,539.60 404.18,539.37 C403.71,539.14 403.40,538.65 402.99,538.32 C402.58,537.99 402.02,537.78 401.73,537.38 C401.44,536.99 401.37,536.42 401.27,535.94 C401.17,535.46 401.17,534.98 401.14,534.52 C401.10,534.07 401.00,533.66 401.06,533.23 C401.13,532.81 401.49,532.41 401.52,532.00 C401.56,531.59 401.31,531.21 401.29,530.80 C401.26,530.39 401.31,529.97 401.37,529.55 C401.44,529.13 401.57,528.72 401.66,528.26 C401.76,527.80 401.72,527.20 401.94,526.77 C402.17,526.35 402.64,526.06 403.01,525.70 C403.38,525.34 403.72,524.89 404.16,524.61 C404.61,524.32 405.16,524.10 405.69,523.99 C406.23,523.88 406.84,523.99 407.39,523.95 C407.94,523.91 408.47,523.71 409.00,523.75 C409.53,523.78 410.05,524.04 410.57,524.17 C411.08,524.30 411.59,524.38 412.08,524.54 C412.57,524.69 413.10,524.83 413.51,525.11 C413.92,525.38 414.15,525.88 414.52,526.19 C414.89,526.51 415.43,526.67 415.74,527.01 C416.04,527.36 416.17,527.84 416.35,528.26 C416.52,528.67 416.64,529.09 416.79,529.50 C416.94,529.91 417.20,530.30 417.25,530.72 C417.30,531.13 417.06,531.57 417.10,532.00Z" fill="#7d5cb6"/>
<path d="M404.08,531.50 C404.11,531.91 404.14,532.34 404.09,532.75 C404.03,533.16 403.81,533.52 403.73,533.94 C403.64,534.36 403.68,534.84 403.57,535.27 C403.46,535.70 403.30,536.17 403.05,536.51 C402.80,536.86 402.39,537.07 402.07,537.37 C401.75,537.66 401.48,538.03 401.12,538.26 C400.77,538.49 400.36,538.68 399.95,538.75 C399.54,538.81 399.08,538.65 398.67,538.66 C398.26,538.66 397.89,538.76 397.50,538.75 C397.11,538.74 396.70,538.71 396.34,538.58 C395.98,538.45 395.66,538.14 395.31,537.97 C394.96,537.80 394.57,537.76 394.24,537.58 C393.90,537.40 393.56,537.18 393.30,536.88 C393.05,536.59 392.94,536.15 392.72,535.82 C392.50,535.49 392.21,535.25 392.00,534.92 C391.80,534.59 391.61,534.23 391.49,533.85 C391.38,533.48 391.44,533.06 391.34,532.67 C391.23,532.28 390.98,531.91 390.86,531.50 C390.73,531.09 390.59,530.62 390.57,530.18 C390.56,529.75 390.71,529.32 390.77,528.86 C390.83,528.40 390.79,527.86 390.93,527.41 C391.06,526.96 391.28,526.49 391.59,526.16 C391.90,525.83 392.39,525.67 392.78,525.44 C393.17,525.21 393.51,524.94 393.91,524.80 C394.31,524.66 394.75,524.59 395.17,524.60 C395.59,524.62 396.03,524.87 396.42,524.91 C396.81,524.96 397.14,524.87 397.50,524.87 C397.86,524.87 398.23,524.85 398.58,524.92 C398.93,524.98 399.24,525.20 399.61,525.27 C399.98,525.34 400.41,525.26 400.79,525.36 C401.18,525.45 401.60,525.59 401.92,525.83 C402.23,526.07 402.43,526.49 402.69,526.81 C402.95,527.13 403.29,527.41 403.50,527.77 C403.71,528.13 403.88,528.55 403.95,528.97 C404.01,529.39 403.87,529.86 403.90,530.29 C403.92,530.71 404.05,531.09 404.08,531.50Z" fill="#b996d6"/>
<text x="401.90" y="536.90" font-size="7.0" stroke="#f4f0ff" stroke-width="0.16" fill="#f4f0ff" textLength="23.10" lengthAdjust="spacingAndGlyphs">NCOR1</text>
<path d="M364.53,540.50 C364.59,541.30 364.71,542.08 364.76,542.91 C364.81,543.75 364.90,544.62 364.84,545.51 C364.78,546.39 364.68,547.34 364.38,548.24 C364.08,549.14 363.66,550.09 363.04,550.91 C362.42,551.73 361.56,552.47 360.68,553.17 C359.80,553.87 358.82,554.57 357.75,555.11 C356.68,555.66 355.47,556.13 354.24,556.44 C353.01,556.75 351.66,556.91 350.37,556.98 C349.09,557.05 347.76,556.96 346.50,556.84 C345.24,556.72 343.99,556.51 342.80,556.23 C341.61,555.96 340.45,555.61 339.37,555.19 C338.29,554.78 337.29,554.25 336.30,553.75 C335.31,553.24 334.36,552.73 333.45,552.16 C332.54,551.60 331.61,551.03 330.84,550.35 C330.08,549.68 329.41,548.92 328.86,548.14 C328.32,547.36 327.90,546.51 327.58,545.66 C327.26,544.82 327.07,543.95 326.95,543.09 C326.82,542.22 326.81,541.36 326.83,540.50 C326.85,539.64 326.95,538.79 327.08,537.93 C327.21,537.07 327.39,536.22 327.60,535.34 C327.81,534.46 327.93,533.50 328.33,532.63 C328.73,531.76 329.29,530.88 330.00,530.11 C330.70,529.35 331.60,528.64 332.57,528.05 C333.54,527.47 334.68,526.99 335.81,526.61 C336.94,526.23 338.16,525.97 339.35,525.77 C340.54,525.57 341.76,525.48 342.95,525.39 C344.14,525.31 345.29,525.35 346.50,525.26 C347.71,525.16 348.92,524.87 350.19,524.81 C351.45,524.74 352.80,524.72 354.09,524.86 C355.37,525.01 356.72,525.28 357.89,525.70 C359.06,526.13 360.22,526.73 361.13,527.43 C362.03,528.13 362.80,529.01 363.33,529.91 C363.87,530.80 364.17,531.82 364.33,532.78 C364.49,533.74 364.29,534.75 364.30,535.64 C364.32,536.53 364.39,537.32 364.43,538.13 C364.46,538.94 364.48,539.70 364.53,540.50Z" fill="#7f8fa6"/>
<path d="M340.84,525.80 C340.84,526.14 340.75,526.47 340.72,526.81 C340.68,527.15 340.68,527.49 340.63,527.85 C340.58,528.20 340.56,528.60 340.41,528.93 C340.27,529.26 340.02,529.59 339.74,529.82 C339.45,530.06 339.03,530.19 338.70,530.36 C338.37,530.54 338.09,530.77 337.74,530.88 C337.40,531.00 337.02,531.07 336.66,531.08 C336.29,531.08 335.91,530.98 335.57,530.94 C335.23,530.89 334.92,530.80 334.60,530.80 C334.28,530.80 333.96,530.92 333.63,530.94 C333.30,530.96 332.94,530.96 332.61,530.92 C332.27,530.87 331.96,530.74 331.60,530.65 C331.24,530.57 330.82,530.54 330.45,530.42 C330.08,530.29 329.67,530.13 329.37,529.89 C329.08,529.66 328.84,529.32 328.67,529.00 C328.50,528.67 328.45,528.28 328.34,527.93 C328.22,527.58 328.03,527.25 327.97,526.89 C327.92,526.54 327.94,526.15 328.00,525.80 C328.07,525.45 328.25,525.11 328.37,524.78 C328.49,524.44 328.60,524.13 328.73,523.81 C328.85,523.48 328.94,523.14 329.13,522.85 C329.32,522.57 329.58,522.30 329.87,522.09 C330.15,521.88 330.53,521.78 330.83,521.60 C331.12,521.42 331.34,521.17 331.64,521.01 C331.93,520.84 332.25,520.71 332.58,520.62 C332.91,520.54 333.26,520.54 333.60,520.51 C333.94,520.48 334.26,520.48 334.60,520.42 C334.94,520.37 335.30,520.20 335.66,520.17 C336.02,520.14 336.42,520.15 336.77,520.23 C337.12,520.31 337.44,520.51 337.78,520.66 C338.12,520.80 338.50,520.91 338.82,521.10 C339.14,521.29 339.47,521.53 339.70,521.81 C339.92,522.09 340.07,522.45 340.18,522.79 C340.29,523.13 340.28,523.51 340.37,523.84 C340.46,524.17 340.64,524.47 340.72,524.79 C340.80,525.12 340.84,525.46 340.84,525.80Z" fill="#d7d7d7"/>
<path d="M369.40,528.80 C369.35,529.07 369.35,529.33 369.30,529.60 C369.26,529.86 369.24,530.14 369.14,530.40 C369.04,530.65 368.89,530.91 368.70,531.12 C368.51,531.34 368.23,531.51 368.01,531.70 C367.78,531.89 367.58,532.09 367.34,532.27 C367.11,532.45 366.87,532.64 366.59,532.77 C366.32,532.91 366.01,533.01 365.70,533.09 C365.39,533.16 365.07,533.16 364.75,533.23 C364.43,533.30 364.14,533.40 363.80,533.49 C363.46,533.57 363.10,533.70 362.74,533.74 C362.38,533.78 361.98,533.78 361.62,533.72 C361.26,533.66 360.92,533.51 360.58,533.37 C360.25,533.24 359.90,533.10 359.60,532.91 C359.31,532.72 359.01,532.50 358.81,532.24 C358.62,531.97 358.50,531.65 358.45,531.34 C358.40,531.03 358.48,530.68 358.50,530.39 C358.51,530.09 358.52,529.83 358.53,529.56 C358.53,529.30 358.51,529.05 358.53,528.80 C358.55,528.55 358.58,528.30 358.63,528.05 C358.69,527.81 358.80,527.58 358.86,527.32 C358.92,527.07 358.92,526.79 358.98,526.52 C359.05,526.24 359.11,525.93 359.27,525.68 C359.42,525.42 359.65,525.18 359.92,525.00 C360.18,524.82 360.53,524.72 360.84,524.59 C361.15,524.47 361.46,524.34 361.78,524.25 C362.11,524.15 362.44,524.06 362.77,524.02 C363.11,523.99 363.46,524.00 363.80,524.03 C364.14,524.06 364.45,524.16 364.79,524.20 C365.12,524.25 365.45,524.25 365.80,524.29 C366.14,524.33 366.52,524.36 366.85,524.46 C367.18,524.56 367.51,524.71 367.78,524.90 C368.05,525.09 368.24,525.36 368.46,525.59 C368.67,525.82 368.89,526.05 369.06,526.30 C369.24,526.55 369.41,526.82 369.50,527.09 C369.59,527.37 369.62,527.68 369.60,527.96 C369.58,528.24 369.45,528.53 369.40,528.80Z" fill="#8ed4c6"/>
<path d="M356.81,522.70 C356.84,523.07 356.93,523.45 356.91,523.82 C356.88,524.19 356.72,524.53 356.67,524.93 C356.62,525.33 356.69,525.78 356.62,526.21 C356.55,526.64 356.47,527.14 356.25,527.52 C356.04,527.90 355.63,528.18 355.30,528.50 C354.96,528.82 354.63,529.18 354.24,529.44 C353.84,529.70 353.39,529.96 352.91,530.06 C352.44,530.16 351.90,530.05 351.41,530.05 C350.92,530.05 350.46,530.09 350.00,530.06 C349.54,530.04 349.05,530.03 348.62,529.89 C348.19,529.76 347.81,529.45 347.40,529.26 C347.00,529.06 346.58,528.95 346.20,528.74 C345.82,528.54 345.42,528.33 345.13,528.04 C344.84,527.74 344.69,527.31 344.47,526.97 C344.24,526.63 343.97,526.34 343.76,526.01 C343.56,525.68 343.33,525.33 343.22,524.97 C343.11,524.60 343.18,524.20 343.11,523.82 C343.03,523.44 342.85,523.09 342.74,522.70 C342.64,522.31 342.48,521.89 342.47,521.48 C342.47,521.07 342.64,520.68 342.72,520.26 C342.80,519.84 342.81,519.38 342.95,518.96 C343.10,518.54 343.28,518.08 343.58,517.75 C343.89,517.43 344.39,517.23 344.79,516.99 C345.19,516.75 345.56,516.49 345.98,516.31 C346.40,516.12 346.85,515.95 347.30,515.89 C347.76,515.83 348.25,515.96 348.70,515.94 C349.15,515.93 349.56,515.83 350.00,515.79 C350.44,515.75 350.90,515.66 351.34,515.70 C351.78,515.74 352.20,515.93 352.64,516.03 C353.09,516.13 353.58,516.16 354.02,516.30 C354.46,516.45 354.94,516.63 355.28,516.92 C355.62,517.21 355.80,517.67 356.03,518.05 C356.27,518.42 356.51,518.78 356.67,519.16 C356.83,519.55 356.96,519.96 356.98,520.37 C356.99,520.77 356.79,521.22 356.76,521.60 C356.73,521.99 356.79,522.33 356.81,522.70Z" fill="#a6cd68"/>
<path d="M327.17,534.20 C327.22,534.62 327.19,535.05 327.20,535.50 C327.20,535.95 327.23,536.42 327.19,536.89 C327.16,537.36 327.16,537.90 327.02,538.33 C326.87,538.76 326.61,539.15 326.34,539.46 C326.07,539.78 325.71,539.99 325.40,540.22 C325.08,540.45 324.80,540.73 324.46,540.85 C324.13,540.97 323.74,540.97 323.39,540.92 C323.04,540.88 322.68,540.61 322.37,540.56 C322.05,540.52 321.79,540.64 321.50,540.65 C321.21,540.66 320.92,540.66 320.63,540.60 C320.34,540.55 320.08,540.39 319.78,540.33 C319.48,540.26 319.14,540.31 318.81,540.24 C318.49,540.16 318.11,540.09 317.82,539.89 C317.53,539.68 317.29,539.34 317.07,539.02 C316.85,538.70 316.66,538.33 316.47,537.96 C316.28,537.60 316.06,537.23 315.96,536.82 C315.85,536.40 315.84,535.93 315.85,535.49 C315.85,535.06 315.97,534.63 315.98,534.20 C315.99,533.77 315.87,533.34 315.88,532.92 C315.90,532.49 315.96,532.04 316.08,531.64 C316.20,531.25 316.44,530.92 316.59,530.53 C316.74,530.13 316.80,529.66 316.98,529.29 C317.16,528.91 317.40,528.54 317.67,528.29 C317.95,528.04 318.32,527.93 318.64,527.77 C318.95,527.61 319.25,527.44 319.57,527.32 C319.88,527.20 320.20,527.06 320.53,527.03 C320.85,527.01 321.18,527.13 321.50,527.19 C321.82,527.26 322.11,527.36 322.42,527.42 C322.73,527.47 323.07,527.41 323.38,527.52 C323.68,527.63 323.98,527.83 324.23,528.06 C324.49,528.30 324.67,528.67 324.91,528.93 C325.15,529.19 325.48,529.35 325.69,529.64 C325.91,529.93 326.09,530.30 326.22,530.67 C326.34,531.04 326.34,531.48 326.44,531.87 C326.55,532.25 326.74,532.59 326.86,532.98 C326.98,533.36 327.11,533.78 327.17,534.20Z" fill="#6f90d6"/>
<path d="M349.75,531.20 C349.66,531.64 349.61,532.06 349.52,532.47 C349.43,532.89 349.37,533.33 349.18,533.70 C348.99,534.08 348.64,534.38 348.38,534.71 C348.13,535.04 347.91,535.38 347.64,535.68 C347.37,535.99 347.12,536.33 346.78,536.54 C346.45,536.76 346.00,536.83 345.64,536.98 C345.27,537.14 344.94,537.31 344.58,537.47 C344.22,537.63 343.87,537.85 343.49,537.94 C343.11,538.03 342.71,537.97 342.30,538.03 C341.89,538.08 341.49,538.22 341.05,538.28 C340.61,538.34 340.12,538.46 339.68,538.40 C339.24,538.33 338.84,538.09 338.43,537.91 C338.02,537.72 337.58,537.53 337.21,537.27 C336.83,537.01 336.43,536.71 336.18,536.33 C335.94,535.95 335.87,535.43 335.74,534.99 C335.61,534.55 335.49,534.14 335.39,533.71 C335.30,533.29 335.18,532.87 335.18,532.46 C335.17,532.04 335.34,531.61 335.37,531.20 C335.39,530.79 335.34,530.39 335.34,529.97 C335.34,529.55 335.27,529.09 335.37,528.68 C335.46,528.26 335.71,527.89 335.90,527.51 C336.10,527.12 336.27,526.71 336.52,526.35 C336.77,526.00 337.05,525.60 337.41,525.38 C337.78,525.15 338.29,525.09 338.70,524.97 C339.12,524.86 339.52,524.76 339.93,524.68 C340.33,524.60 340.73,524.51 341.12,524.52 C341.52,524.53 341.91,524.71 342.30,524.74 C342.69,524.76 343.05,524.71 343.45,524.68 C343.85,524.66 344.29,524.55 344.70,524.59 C345.12,524.64 345.49,524.82 345.91,524.94 C346.33,525.06 346.80,525.15 347.22,525.33 C347.65,525.51 348.14,525.71 348.46,526.03 C348.79,526.35 348.96,526.82 349.18,527.23 C349.39,527.64 349.60,528.06 349.74,528.49 C349.89,528.93 350.04,529.38 350.04,529.84 C350.04,530.29 349.83,530.76 349.75,531.20Z" fill="#7ccaef"/>
<path d="M376.98,538.00 C376.98,538.32 377.04,538.64 377.03,538.96 C377.02,539.29 376.99,539.62 376.93,539.94 C376.87,540.27 376.74,540.56 376.67,540.91 C376.60,541.27 376.62,541.72 376.51,542.08 C376.39,542.43 376.21,542.80 375.98,543.06 C375.75,543.33 375.43,543.50 375.14,543.67 C374.85,543.85 374.54,543.98 374.23,544.11 C373.92,544.24 373.61,544.39 373.28,544.44 C372.96,544.49 372.62,544.47 372.30,544.41 C371.98,544.35 371.68,544.16 371.37,544.09 C371.05,544.02 370.73,544.07 370.41,543.99 C370.09,543.92 369.76,543.82 369.48,543.64 C369.19,543.47 368.94,543.20 368.71,542.93 C368.49,542.67 368.31,542.35 368.11,542.06 C367.91,541.77 367.66,541.51 367.51,541.19 C367.36,540.87 367.26,540.50 367.21,540.14 C367.16,539.78 367.24,539.39 367.23,539.03 C367.22,538.68 367.18,538.35 367.16,538.00 C367.14,537.65 367.09,537.29 367.13,536.95 C367.16,536.60 367.25,536.25 367.37,535.93 C367.49,535.61 367.70,535.35 367.84,535.03 C367.98,534.71 368.03,534.32 368.20,534.03 C368.36,533.73 368.59,533.45 368.84,533.24 C369.09,533.03 369.41,532.93 369.69,532.78 C369.97,532.64 370.25,532.52 370.53,532.38 C370.81,532.23 371.07,532.03 371.37,531.92 C371.67,531.81 371.99,531.74 372.30,531.71 C372.61,531.69 372.92,531.76 373.25,531.75 C373.59,531.74 373.96,531.61 374.31,531.64 C374.66,531.66 375.04,531.73 375.35,531.90 C375.66,532.07 375.94,532.37 376.17,532.67 C376.41,532.97 376.57,533.36 376.73,533.71 C376.90,534.05 377.10,534.38 377.19,534.75 C377.27,535.11 377.29,535.53 377.26,535.92 C377.24,536.30 377.08,536.69 377.04,537.04 C376.99,537.38 376.98,537.68 376.98,538.00Z" fill="#f1aab4"/>
<path d="M369.99,536.50 C370.09,536.92 369.97,537.36 370.01,537.82 C370.04,538.29 370.21,538.80 370.18,539.28 C370.15,539.77 370.05,540.30 369.82,540.73 C369.58,541.16 369.11,541.49 368.76,541.87 C368.41,542.25 368.16,542.76 367.72,543.03 C367.27,543.30 366.62,543.36 366.08,543.49 C365.55,543.62 365.03,543.73 364.52,543.81 C364.00,543.88 363.49,543.98 362.99,543.94 C362.49,543.90 361.99,543.60 361.50,543.58 C361.01,543.56 360.52,543.83 360.03,543.83 C359.55,543.83 359.06,543.68 358.58,543.58 C358.09,543.47 357.61,543.33 357.12,543.18 C356.64,543.02 356.04,542.92 355.66,542.64 C355.27,542.35 355.09,541.84 354.79,541.46 C354.49,541.09 354.07,540.79 353.86,540.39 C353.65,539.98 353.59,539.49 353.55,539.05 C353.50,538.61 353.63,538.15 353.60,537.73 C353.57,537.30 353.37,536.91 353.37,536.50 C353.38,536.09 353.61,535.70 353.63,535.28 C353.66,534.85 353.51,534.40 353.53,533.94 C353.55,533.49 353.59,532.99 353.76,532.56 C353.93,532.13 354.28,531.78 354.54,531.35 C354.79,530.92 354.93,530.34 355.29,529.98 C355.66,529.63 356.24,529.45 356.73,529.23 C357.23,529.01 357.74,528.80 358.26,528.66 C358.79,528.52 359.34,528.38 359.88,528.40 C360.42,528.43 360.97,528.76 361.50,528.83 C362.03,528.90 362.55,528.73 363.04,528.83 C363.52,528.93 363.99,529.20 364.43,529.41 C364.87,529.62 365.28,529.87 365.69,530.10 C366.11,530.33 366.61,530.49 366.93,530.80 C367.25,531.11 367.36,531.62 367.63,531.97 C367.90,532.32 368.32,532.56 368.57,532.91 C368.81,533.26 368.95,533.67 369.09,534.07 C369.22,534.46 369.23,534.87 369.38,535.28 C369.53,535.68 369.89,536.08 369.99,536.50Z" fill="#1f4b78"/>
<path d="M338.95,536.50 C338.89,536.98 338.85,537.43 338.77,537.90 C338.69,538.36 338.69,538.87 338.48,539.29 C338.27,539.71 337.79,540.02 337.53,540.43 C337.27,540.84 337.22,541.38 336.91,541.75 C336.61,542.11 336.12,542.38 335.69,542.63 C335.25,542.88 334.76,543.05 334.31,543.25 C333.85,543.45 333.43,543.74 332.95,543.83 C332.47,543.92 331.91,543.74 331.42,543.78 C330.93,543.81 330.48,544.02 330.00,544.05 C329.52,544.09 329.02,544.06 328.54,543.99 C328.06,543.92 327.62,543.72 327.13,543.62 C326.65,543.52 326.05,543.58 325.61,543.39 C325.16,543.20 324.83,542.79 324.45,542.49 C324.06,542.19 323.62,541.94 323.28,541.60 C322.95,541.26 322.62,540.87 322.43,540.45 C322.24,540.04 322.29,539.53 322.12,539.10 C321.95,538.66 321.55,538.30 321.42,537.87 C321.28,537.44 321.35,536.97 321.30,536.50 C321.25,536.03 321.13,535.57 321.09,535.08 C321.05,534.59 320.93,534.03 321.06,533.56 C321.19,533.08 321.61,532.70 321.85,532.24 C322.10,531.79 322.17,531.20 322.52,530.82 C322.87,530.44 323.44,530.18 323.95,529.97 C324.45,529.76 325.04,529.67 325.57,529.55 C326.09,529.44 326.58,529.27 327.10,529.29 C327.62,529.31 328.18,529.61 328.67,529.66 C329.15,529.71 329.56,529.59 330.00,529.59 C330.44,529.60 330.89,529.63 331.33,529.67 C331.78,529.72 332.18,529.84 332.67,529.87 C333.16,529.89 333.77,529.72 334.27,529.81 C334.76,529.90 335.17,530.20 335.64,530.42 C336.11,530.63 336.67,530.81 337.09,531.11 C337.52,531.42 337.94,531.80 338.19,532.22 C338.44,532.65 338.42,533.20 338.58,533.67 C338.74,534.14 339.09,534.57 339.15,535.04 C339.21,535.51 339.02,536.02 338.95,536.50Z" fill="#f7d59b"/>
<path d="M343,540 C344,532 356,531 358,538 L354,539 C352,535 348,535 347,541Z" fill="#e77d9b"/>
<path d="M362.80,547.00 C362.70,547.46 362.86,547.89 362.83,548.36 C362.80,548.82 362.90,549.32 362.64,549.77 C362.39,550.21 361.68,550.57 361.32,551.03 C360.95,551.48 360.99,552.10 360.45,552.51 C359.91,552.92 358.92,553.21 358.07,553.49 C357.22,553.77 356.29,554.01 355.35,554.22 C354.42,554.43 353.49,554.68 352.49,554.74 C351.48,554.80 350.33,554.55 349.33,554.57 C348.34,554.59 347.46,554.82 346.50,554.86 C345.54,554.89 344.56,554.82 343.59,554.77 C342.61,554.73 341.68,554.63 340.64,554.58 C339.59,554.53 338.33,554.63 337.32,554.48 C336.32,554.33 335.54,553.94 334.60,553.67 C333.66,553.40 332.49,553.21 331.67,552.86 C330.85,552.51 330.14,552.04 329.69,551.57 C329.23,551.09 329.22,550.51 328.95,550.01 C328.68,549.50 328.09,549.03 328.07,548.53 C328.04,548.03 328.58,547.49 328.78,547.00 C328.98,546.51 329.02,546.03 329.25,545.57 C329.48,545.10 329.67,544.61 330.16,544.20 C330.65,543.79 331.63,543.50 332.18,543.11 C332.74,542.72 332.86,542.20 333.48,541.86 C334.10,541.51 335.09,541.31 335.90,541.06 C336.72,540.81 337.53,540.59 338.35,540.36 C339.18,540.13 339.94,539.81 340.83,539.67 C341.73,539.54 342.76,539.66 343.70,539.53 C344.65,539.40 345.51,539.01 346.50,538.87 C347.49,538.72 348.56,538.68 349.62,538.66 C350.69,538.65 351.75,538.70 352.88,538.75 C354.01,538.80 355.37,538.74 356.39,538.94 C357.41,539.15 358.15,539.63 359.00,539.99 C359.85,540.35 360.86,540.65 361.49,541.08 C362.13,541.51 362.57,542.05 362.81,542.57 C363.05,543.09 362.81,543.68 362.91,544.19 C363.02,544.69 363.46,545.13 363.44,545.59 C363.42,546.06 362.90,546.54 362.80,547.00Z" fill="#0f6867"/>
<path d="M327.78,548.00 C327.80,548.31 327.79,548.63 327.75,548.94 C327.70,549.25 327.58,549.53 327.51,549.85 C327.44,550.16 327.44,550.51 327.34,550.82 C327.25,551.14 327.13,551.47 326.96,551.73 C326.78,552.00 326.54,552.23 326.29,552.41 C326.04,552.58 325.72,552.65 325.46,552.79 C325.19,552.92 324.96,553.10 324.69,553.23 C324.43,553.36 324.15,553.48 323.87,553.55 C323.59,553.62 323.29,553.64 323.00,553.65 C322.71,553.65 322.43,553.58 322.13,553.57 C321.82,553.56 321.50,553.64 321.18,553.61 C320.87,553.58 320.53,553.52 320.24,553.38 C319.96,553.23 319.68,553.00 319.47,552.73 C319.27,552.46 319.15,552.08 319.01,551.76 C318.87,551.45 318.72,551.16 318.63,550.84 C318.54,550.52 318.49,550.18 318.48,549.85 C318.47,549.53 318.52,549.19 318.57,548.88 C318.63,548.57 318.77,548.29 318.80,548.00 C318.82,547.71 318.74,547.45 318.72,547.15 C318.69,546.85 318.64,546.53 318.65,546.22 C318.66,545.90 318.70,545.57 318.78,545.26 C318.87,544.96 319.03,544.69 319.16,544.38 C319.30,544.07 319.40,543.70 319.58,543.42 C319.76,543.13 320.00,542.85 320.26,542.65 C320.52,542.46 320.84,542.34 321.15,542.27 C321.45,542.21 321.79,542.28 322.10,542.26 C322.41,542.25 322.70,542.18 323.00,542.18 C323.30,542.18 323.61,542.19 323.90,542.26 C324.19,542.33 324.48,542.45 324.75,542.60 C325.01,542.76 325.22,543.01 325.47,543.19 C325.72,543.36 325.99,543.48 326.22,543.68 C326.46,543.87 326.69,544.10 326.86,544.36 C327.03,544.62 327.16,544.94 327.24,545.24 C327.33,545.55 327.31,545.90 327.38,546.21 C327.44,546.51 327.56,546.78 327.63,547.08 C327.69,547.38 327.76,547.69 327.78,548.00Z" fill="#7a7a7a"/>
<path d="M372.53,549.60 C372.50,550.04 372.45,550.46 372.44,550.91 C372.43,551.37 372.57,551.88 372.47,552.32 C372.38,552.77 372.04,553.13 371.87,553.59 C371.70,554.04 371.68,554.62 371.44,555.05 C371.19,555.48 370.81,555.87 370.41,556.18 C370.01,556.49 369.49,556.66 369.03,556.90 C368.58,557.13 368.15,557.48 367.66,557.58 C367.16,557.68 366.58,557.52 366.07,557.51 C365.56,557.50 365.08,557.57 364.60,557.53 C364.12,557.49 363.62,557.44 363.17,557.29 C362.73,557.13 362.35,556.79 361.91,556.61 C361.48,556.44 360.95,556.46 360.56,556.24 C360.17,556.02 359.89,555.61 359.57,555.30 C359.24,554.99 358.92,554.69 358.62,554.37 C358.33,554.04 357.99,553.71 357.81,553.33 C357.63,552.94 357.72,552.44 357.55,552.04 C357.37,551.64 356.94,551.32 356.76,550.91 C356.58,550.51 356.56,550.05 356.48,549.60 C356.39,549.15 356.32,548.69 356.25,548.20 C356.18,547.71 355.99,547.14 356.07,546.65 C356.15,546.16 356.51,545.75 356.73,545.28 C356.95,544.81 357.05,544.24 357.38,543.84 C357.70,543.45 358.19,543.12 358.68,542.89 C359.16,542.66 359.76,542.60 360.26,542.47 C360.77,542.33 361.22,542.10 361.72,542.08 C362.22,542.06 362.77,542.30 363.25,542.35 C363.73,542.39 364.15,542.32 364.60,542.33 C365.05,542.33 365.50,542.31 365.94,542.38 C366.38,542.45 366.76,542.67 367.23,542.74 C367.69,542.81 368.28,542.66 368.74,542.79 C369.19,542.93 369.57,543.26 369.97,543.52 C370.36,543.79 370.77,544.07 371.11,544.41 C371.45,544.75 371.82,545.11 371.99,545.55 C372.16,545.98 372.02,546.55 372.12,547.00 C372.23,547.45 372.55,547.82 372.62,548.26 C372.68,548.69 372.55,549.16 372.53,549.60Z" fill="#e6c152"/>
<path d="M342.13,555.80 C342.19,556.19 342.42,556.59 342.43,556.99 C342.44,557.39 342.33,557.81 342.21,558.19 C342.08,558.58 341.86,558.95 341.66,559.33 C341.47,559.71 341.35,560.16 341.04,560.47 C340.73,560.78 340.26,561.01 339.82,561.18 C339.38,561.35 338.86,561.40 338.41,561.50 C337.96,561.61 337.56,561.77 337.13,561.80 C336.69,561.83 336.22,561.72 335.80,561.67 C335.38,561.61 335.00,561.48 334.60,561.47 C334.20,561.47 333.81,561.64 333.41,561.65 C333.00,561.67 332.59,561.61 332.18,561.56 C331.76,561.51 331.36,561.42 330.90,561.35 C330.43,561.28 329.85,561.31 329.41,561.15 C328.96,561.00 328.57,560.71 328.24,560.41 C327.91,560.12 327.68,559.74 327.41,559.39 C327.14,559.04 326.78,558.70 326.63,558.31 C326.48,557.92 326.49,557.45 326.51,557.03 C326.52,556.62 326.67,556.21 326.71,555.80 C326.75,555.39 326.65,554.99 326.75,554.60 C326.84,554.22 327.07,553.84 327.28,553.50 C327.50,553.15 327.80,552.85 328.03,552.52 C328.26,552.18 328.38,551.78 328.67,551.50 C328.96,551.21 329.38,551.00 329.76,550.81 C330.14,550.62 330.58,550.53 330.97,550.36 C331.36,550.20 331.69,549.94 332.08,549.82 C332.48,549.70 332.93,549.70 333.35,549.67 C333.77,549.64 334.17,549.69 334.60,549.64 C335.03,549.59 335.47,549.39 335.91,549.38 C336.35,549.37 336.80,549.46 337.23,549.56 C337.66,549.66 338.05,549.84 338.48,549.98 C338.91,550.13 339.44,550.20 339.81,550.43 C340.18,550.66 340.47,551.02 340.72,551.36 C340.97,551.69 341.10,552.10 341.30,552.45 C341.51,552.81 341.81,553.12 341.95,553.49 C342.08,553.85 342.08,554.27 342.11,554.65 C342.14,555.04 342.08,555.41 342.13,555.80Z" fill="#a2b2ea"/>
<path d="M350.00,558.00 C349.97,558.28 349.91,558.55 349.82,558.81 C349.72,559.07 349.57,559.32 349.43,559.56 C349.29,559.79 349.14,560.01 349.00,560.25 C348.85,560.48 348.75,560.74 348.57,560.95 C348.40,561.16 348.18,561.36 347.94,561.52 C347.70,561.68 347.42,561.80 347.15,561.90 C346.87,562.00 346.57,562.02 346.29,562.12 C346.02,562.21 345.78,562.37 345.49,562.48 C345.21,562.59 344.91,562.71 344.60,562.78 C344.29,562.86 343.95,562.92 343.62,562.93 C343.29,562.94 342.94,562.89 342.61,562.83 C342.28,562.77 341.95,562.68 341.62,562.56 C341.30,562.45 340.93,562.34 340.66,562.15 C340.38,561.97 340.14,561.71 339.97,561.43 C339.81,561.16 339.71,560.83 339.67,560.52 C339.62,560.21 339.70,559.87 339.70,559.58 C339.70,559.29 339.66,559.03 339.66,558.77 C339.65,558.51 339.65,558.25 339.66,558.00 C339.68,557.75 339.69,557.49 339.74,557.24 C339.78,556.99 339.86,556.75 339.92,556.49 C339.99,556.24 340.06,555.99 340.14,555.72 C340.22,555.45 340.26,555.14 340.40,554.88 C340.54,554.63 340.74,554.37 340.98,554.18 C341.22,553.99 341.52,553.85 341.82,553.75 C342.12,553.64 342.47,553.64 342.78,553.58 C343.09,553.52 343.38,553.43 343.68,553.38 C343.98,553.33 344.29,553.29 344.60,553.28 C344.91,553.28 345.22,553.29 345.53,553.33 C345.84,553.37 346.14,553.46 346.44,553.53 C346.74,553.61 347.04,553.70 347.35,553.79 C347.66,553.88 348.02,553.95 348.31,554.09 C348.60,554.23 348.89,554.43 349.10,554.66 C349.32,554.88 349.49,555.17 349.60,555.45 C349.71,555.73 349.71,556.05 349.78,556.33 C349.84,556.62 349.94,556.88 349.98,557.16 C350.01,557.44 350.03,557.72 350.00,558.00Z" fill="#d7882b"/>
<path d="M360.64,557.30 C360.58,557.57 360.42,557.80 360.43,558.08 C360.43,558.36 360.62,558.66 360.64,558.97 C360.66,559.27 360.66,559.61 360.56,559.91 C360.46,560.21 360.26,560.49 360.06,560.77 C359.85,561.05 359.61,561.32 359.34,561.58 C359.07,561.84 358.78,562.13 358.42,562.32 C358.07,562.50 357.62,562.63 357.19,562.68 C356.76,562.74 356.28,562.66 355.85,562.66 C355.42,562.67 355.01,562.72 354.60,562.71 C354.19,562.70 353.76,562.68 353.37,562.59 C352.98,562.50 352.60,562.34 352.25,562.19 C351.90,562.04 351.60,561.83 351.27,561.67 C350.93,561.51 350.54,561.42 350.24,561.23 C349.95,561.05 349.67,560.81 349.48,560.56 C349.28,560.30 349.21,559.99 349.07,559.72 C348.93,559.45 348.77,559.21 348.62,558.95 C348.48,558.69 348.30,558.43 348.22,558.15 C348.13,557.88 348.10,557.58 348.10,557.30 C348.10,557.02 348.21,556.75 348.20,556.44 C348.19,556.14 348.02,555.81 348.04,555.49 C348.06,555.18 348.14,554.84 348.32,554.55 C348.49,554.27 348.79,554.02 349.07,553.79 C349.35,553.55 349.68,553.35 350.00,553.15 C350.32,552.95 350.64,552.72 351.01,552.59 C351.38,552.45 351.81,552.37 352.21,552.33 C352.62,552.29 353.05,552.38 353.45,552.35 C353.85,552.32 354.21,552.22 354.60,552.17 C354.99,552.13 355.41,552.06 355.82,552.08 C356.22,552.09 356.63,552.17 357.02,552.26 C357.41,552.35 357.78,552.50 358.16,552.63 C358.55,552.75 359.00,552.83 359.33,553.03 C359.66,553.22 359.96,553.49 360.15,553.78 C360.33,554.06 360.36,554.43 360.45,554.74 C360.54,555.05 360.61,555.34 360.66,555.63 C360.71,555.92 360.78,556.20 360.77,556.48 C360.77,556.75 360.69,557.03 360.64,557.30Z" fill="#f1b2bb"/>
<text x="328.50" y="550.40" font-size="8.2" stroke="#f4fbfb" stroke-width="0.16" fill="#f4fbfb" textLength="36.00" lengthAdjust="spacingAndGlyphs">SMARCA4</text>
<path d="M316,534 C305,531 304,523 308.5,516.5" fill="none" stroke="#bcc2c8" stroke-width="1.8"/>
<path d="M305,518 L309.5,512.5 L312.5,519Z" fill="#bcc2c8"/>
<path d="M377,538 C384,535 386,529 382,522" fill="none" stroke="#bcc2c8" stroke-width="1.8"/>
<path d="M378.8,523.5 L381.8,517.5 L385.5,523Z" fill="#bcc2c8"/>
<path d="M427.8,568.3 C440,565 446,556 442.5,543" fill="none" stroke="#b0b5ba" stroke-width="1.2"/>
<path d="M438.4,544.5 L441.2,536.9 L446.6,543.2Z" fill="#bcc2c8"/>
<path d="M256.50,531.00 Q266.45,523.16 272.00,514.00" fill="none" stroke="#93288a" stroke-width="1.0"/>
<path d="M260.50,531.00 Q270.37,523.41 275.83,514.50" fill="none" stroke="#93288a" stroke-width="1.0"/>
<path d="M264.50,531.00 Q274.28,523.66 279.67,515.00" fill="none" stroke="#93288a" stroke-width="1.0"/>
<path d="M268.50,531.00 Q278.20,523.91 283.50,515.50" fill="none" stroke="#93288a" stroke-width="1.0"/>
<path d="M272.50,531.00 Q282.12,524.16 287.33,516.00" fill="none" stroke="#93288a" stroke-width="1.0"/>
<path d="M276.50,531.00 Q286.03,524.41 291.17,516.50" fill="none" stroke="#93288a" stroke-width="1.0"/>
<path d="M280.50,531.00 Q289.95,524.66 295.00,517.00" fill="none" stroke="#93288a" stroke-width="1.0"/>
<path d="M260.38,526.75 Q262.35,525.21 264.33,526.88 Q266.31,525.34 268.29,527.00 Q270.27,525.46 272.25,527.12 Q274.23,525.59 276.21,527.25 Q278.19,525.71 280.17,527.38 Q282.15,525.84 284.12,527.50" fill="none" stroke="#93288a" stroke-width="1.0"/>
<path d="M268.12,518.25 Q270.06,516.84 272.00,518.62 Q273.94,517.21 275.88,519.00 Q277.81,517.59 279.75,519.38 Q281.69,517.96 283.62,519.75 Q285.56,518.34 287.50,520.12 Q289.44,518.71 291.38,520.50" fill="none" stroke="#93288a" stroke-width="1.0"/>
<path d="M272.00,514.00 Q273.92,512.05 275.83,514.50 Q277.75,512.55 279.67,515.00 Q281.58,513.05 283.50,515.50 Q285.42,513.55 287.33,516.00 Q289.25,514.05 291.17,516.50 Q293.08,514.55 295.00,517.00" fill="none" stroke="#93288a" stroke-width="1.0"/>
<text x="256.90" y="540.00" font-size="7.3" stroke="#1e1e1e" stroke-width="0.16" fill="#1e1e1e" textLength="45.40" lengthAdjust="spacingAndGlyphs">Differentiation</text>
<ellipse cx="271.8" cy="552.4" rx="4.6" ry="5.0" fill="#6b6b6b"/>
<ellipse cx="270.4" cy="552.4" rx="4.0" ry="4.6" fill="#1f9a4a"/>
<ellipse cx="269.6" cy="550.6" rx="1.4" ry="1.1" fill="#5fcf86"/>
<path d="M304.8,584 L304.8,552.4 L282.5,552.4" fill="none" stroke="#3c4468" stroke-width="1.6"/>
<path d="M285.5,548.8 L278.2,552.4 L285.5,556Z" fill="#3c4468"/>
<path d="M241,584.8 L248.2,584.8 C253.2,584.8 255.2,580 261.2,584.3 L279.9,584.8 C284.9,584.8 286.9,580 292.9,584.3 L313.7,584.8 C318.7,584.8 320.7,580 326.7,584.3 L345.8,584.8 C350.8,584.8 352.8,580 358.8,584.3 L379.6,584.8 C384.6,584.8 386.6,580 392.6,584.3 L412.4,584.8 C417.4,584.8 419.4,580 425.4,584.3 L436.3,584.8" fill="none" stroke="#4eb2d6" stroke-width="1.3"/>
<g transform="rotate(-26 256.20 576.20)">
<ellipse cx="256.20" cy="576.20" rx="6.2" ry="8.0" fill="#a0d4ee"/>
<path d="M254.20,569.20 Q252.60,576.20 254.20,583.20" fill="none" stroke="#45a3d2" stroke-width="0.9"/>
<path d="M252.60,569.20 Q251.00,576.20 252.60,583.20" fill="none" stroke="#45a3d2" stroke-width="0.9"/>
<path d="M251.20,569.20 Q249.60,576.20 251.20,583.20" fill="none" stroke="#45a3d2" stroke-width="0.9"/>
<ellipse cx="257.40" cy="576.20" rx="4.0" ry="7.0" fill="#c6e8f7" opacity="0.6"/>
</g>
<g transform="rotate(-26 287.90 576.20)">
<ellipse cx="287.90" cy="576.20" rx="6.2" ry="8.0" fill="#a0d4ee"/>
<path d="M285.90,569.20 Q284.30,576.20 285.90,583.20" fill="none" stroke="#45a3d2" stroke-width="0.9"/>
<path d="M284.30,569.20 Q282.70,576.20 284.30,583.20" fill="none" stroke="#45a3d2" stroke-width="0.9"/>
<path d="M282.90,569.20 Q281.30,576.20 282.90,583.20" fill="none" stroke="#45a3d2" stroke-width="0.9"/>
<ellipse cx="289.10" cy="576.20" rx="4.0" ry="7.0" fill="#c6e8f7" opacity="0.6"/>
</g>
<g transform="rotate(-26 321.70 576.20)">
<ellipse cx="321.70" cy="576.20" rx="6.2" ry="8.0" fill="#a0d4ee"/>
<path d="M319.70,569.20 Q318.10,576.20 319.70,583.20" fill="none" stroke="#45a3d2" stroke-width="0.9"/>
<path d="M318.10,569.20 Q316.50,576.20 318.10,583.20" fill="none" stroke="#45a3d2" stroke-width="0.9"/>
<path d="M316.70,569.20 Q315.10,576.20 316.70,583.20" fill="none" stroke="#45a3d2" stroke-width="0.9"/>
<ellipse cx="322.90" cy="576.20" rx="4.0" ry="7.0" fill="#c6e8f7" opacity="0.6"/>
</g>
<g transform="rotate(-26 353.80 576.20)">
<ellipse cx="353.80" cy="576.20" rx="6.2" ry="8.0" fill="#a0d4ee"/>
<path d="M351.80,569.20 Q350.20,576.20 351.80,583.20" fill="none" stroke="#45a3d2" stroke-width="0.9"/>
<path d="M350.20,569.20 Q348.60,576.20 350.20,583.20" fill="none" stroke="#45a3d2" stroke-width="0.9"/>
<path d="M348.80,569.20 Q347.20,576.20 348.80,583.20" fill="none" stroke="#45a3d2" stroke-width="0.9"/>
<ellipse cx="355.00" cy="576.20" rx="4.0" ry="7.0" fill="#c6e8f7" opacity="0.6"/>
</g>
<g transform="rotate(-26 387.60 576.20)">
<ellipse cx="387.60" cy="576.20" rx="6.2" ry="8.0" fill="#a0d4ee"/>
<path d="M385.60,569.20 Q384.00,576.20 385.60,583.20" fill="none" stroke="#45a3d2" stroke-width="0.9"/>
<path d="M384.00,569.20 Q382.40,576.20 384.00,583.20" fill="none" stroke="#45a3d2" stroke-width="0.9"/>
<path d="M382.60,569.20 Q381.00,576.20 382.60,583.20" fill="none" stroke="#45a3d2" stroke-width="0.9"/>
<ellipse cx="388.80" cy="576.20" rx="4.0" ry="7.0" fill="#c6e8f7" opacity="0.6"/>
</g>
<g transform="rotate(-26 420.40 576.20)">
<ellipse cx="420.40" cy="576.20" rx="6.2" ry="8.0" fill="#a0d4ee"/>
<path d="M418.40,569.20 Q416.80,576.20 418.40,583.20" fill="none" stroke="#45a3d2" stroke-width="0.9"/>
<path d="M416.80,569.20 Q415.20,576.20 416.80,583.20" fill="none" stroke="#45a3d2" stroke-width="0.9"/>
<path d="M415.40,569.20 Q413.80,576.20 415.40,583.20" fill="none" stroke="#45a3d2" stroke-width="0.9"/>
<ellipse cx="421.60" cy="576.20" rx="4.0" ry="7.0" fill="#c6e8f7" opacity="0.6"/>
</g>
<circle cx="260.80" cy="568.70" r="3.7" fill="#c52a2e" stroke="#ffffff" stroke-width="0.5"/>
<text x="260.80" y="569.90" font-size="3.2" text-anchor="middle" fill="#fff">Me</text>
<circle cx="250.20" cy="578.80" r="3.7" fill="#c52a2e" stroke="#ffffff" stroke-width="0.5"/>
<text x="250.20" y="580.00" font-size="3.2" text-anchor="middle" fill="#fff">Me</text>
<circle cx="293.80" cy="568.30" r="3.7" fill="#c52a2e" stroke="#ffffff" stroke-width="0.5"/>
<text x="293.80" y="569.50" font-size="3.2" text-anchor="middle" fill="#fff">Me</text>
<circle cx="281.10" cy="579.30" r="3.7" fill="#c52a2e" stroke="#ffffff" stroke-width="0.5"/>
<text x="281.10" y="580.50" font-size="3.2" text-anchor="middle" fill="#fff">Me</text>
<circle cx="321.70" cy="565.50" r="3.7" fill="#6a3c9c" stroke="#ffffff" stroke-width="0.5"/>
<text x="321.70" y="566.70" font-size="3.2" text-anchor="middle" fill="#fff">Me</text>
<circle cx="329.80" cy="571.40" r="3.7" fill="#c52a2e" stroke="#ffffff" stroke-width="0.5"/>
<text x="329.80" y="572.60" font-size="3.2" text-anchor="middle" fill="#fff">Me</text>
<circle cx="313.70" cy="579.30" r="3.7" fill="#c52a2e" stroke="#ffffff" stroke-width="0.5"/>
<text x="313.70" y="580.50" font-size="3.2" text-anchor="middle" fill="#fff">Me</text>
<circle cx="360.70" cy="568.70" r="3.7" fill="#c52a2e" stroke="#ffffff" stroke-width="0.5"/>
<text x="360.70" y="569.90" font-size="3.2" text-anchor="middle" fill="#fff">Me</text>
<circle cx="347.40" cy="579.30" r="3.7" fill="#c52a2e" stroke="#ffffff" stroke-width="0.5"/>
<text x="347.40" y="580.50" font-size="3.2" text-anchor="middle" fill="#fff">Me</text>
<circle cx="384.00" cy="565.10" r="3.7" fill="#6a3c9c" stroke="#ffffff" stroke-width="0.5"/>
<text x="384.00" y="566.30" font-size="3.2" text-anchor="middle" fill="#fff">Me</text>
<circle cx="391.80" cy="567.80" r="3.7" fill="#c52a2e" stroke="#ffffff" stroke-width="0.5"/>
<text x="391.80" y="569.00" font-size="3.2" text-anchor="middle" fill="#fff">Me</text>
<circle cx="378.70" cy="579.30" r="3.7" fill="#c52a2e" stroke="#ffffff" stroke-width="0.5"/>
<text x="378.70" y="580.50" font-size="3.2" text-anchor="middle" fill="#fff">Me</text>
<circle cx="418.30" cy="565.10" r="3.7" fill="#6a3c9c" stroke="#ffffff" stroke-width="0.5"/>
<text x="418.30" y="566.30" font-size="3.2" text-anchor="middle" fill="#fff">Me</text>
<circle cx="423.60" cy="568.70" r="3.7" fill="#c52a2e" stroke="#ffffff" stroke-width="0.5"/>
<text x="423.60" y="569.90" font-size="3.2" text-anchor="middle" fill="#fff">Me</text>
<circle cx="410.90" cy="579.30" r="3.7" fill="#c52a2e" stroke="#ffffff" stroke-width="0.5"/>
<text x="410.90" y="580.50" font-size="3.2" text-anchor="middle" fill="#fff">Me</text>
<path d="M243.3,587.4 L316.3,626.4" stroke="#333" stroke-width="1.1" stroke-dasharray="3,2.2" fill="none"/>
<path d="M431.3,588 L373.8,626" stroke="#333" stroke-width="1.1" stroke-dasharray="3,2.2" fill="none"/>
<path d="M374.49,625.00 C374.78,626.61 375.89,628.32 375.91,629.95 C375.93,631.59 375.09,633.17 374.63,634.82 C374.18,636.47 374.00,638.30 373.21,639.86 C372.41,641.42 371.35,643.07 369.87,644.18 C368.40,645.29 366.09,645.74 364.34,646.53 C362.60,647.31 361.22,648.51 359.41,648.89 C357.61,649.27 355.35,648.85 353.50,648.80 C351.64,648.75 349.97,648.62 348.30,648.60 C346.64,648.57 345.07,648.81 343.50,648.64 C341.93,648.47 340.56,647.57 338.91,647.57 C337.26,647.56 335.36,648.55 333.59,648.60 C331.81,648.66 330.03,648.27 328.26,647.88 C326.49,647.48 324.73,646.90 322.94,646.23 C321.16,645.57 318.90,645.02 317.53,643.89 C316.15,642.75 315.65,640.90 314.68,639.42 C313.71,637.94 312.32,636.60 311.70,635.03 C311.08,633.46 310.93,631.64 310.97,629.97 C311.00,628.30 311.74,626.63 311.89,625.00 C312.04,623.37 311.47,621.70 311.86,620.16 C312.25,618.63 313.51,617.24 314.22,615.76 C314.92,614.28 315.25,612.69 316.07,611.27 C316.88,609.86 317.81,608.36 319.11,607.26 C320.40,606.16 322.38,605.65 323.84,604.70 C325.31,603.75 326.33,602.26 327.89,601.57 C329.46,600.89 331.49,600.87 333.24,600.56 C334.98,600.26 336.65,599.97 338.36,599.72 C340.07,599.48 341.80,598.99 343.50,599.08 C345.20,599.16 346.78,600.09 348.54,600.23 C350.30,600.36 352.29,599.65 354.05,599.89 C355.80,600.13 357.46,600.93 359.05,601.66 C360.63,602.39 362.07,603.36 363.55,604.29 C365.04,605.21 366.88,605.97 367.96,607.21 C369.05,608.45 369.22,610.30 370.04,611.72 C370.86,613.14 372.17,614.31 372.87,615.74 C373.56,617.17 373.94,618.76 374.22,620.31 C374.49,621.85 374.21,623.39 374.49,625.00Z" fill="#e4cde8"/>
<path d="M336.84,605.00 C336.98,605.66 337.53,606.36 337.60,607.05 C337.67,607.73 337.37,608.40 337.26,609.11 C337.14,609.82 337.21,610.67 336.92,611.33 C336.62,611.98 336.00,612.51 335.48,613.04 C334.96,613.56 334.43,614.13 333.78,614.47 C333.12,614.81 332.30,614.96 331.57,615.09 C330.84,615.23 330.11,615.29 329.41,615.30 C328.71,615.31 328.02,615.24 327.37,615.17 C326.72,615.10 326.11,614.92 325.50,614.87 C324.89,614.83 324.29,614.94 323.68,614.88 C323.08,614.83 322.52,614.64 321.87,614.56 C321.23,614.49 320.44,614.64 319.81,614.46 C319.18,614.28 318.69,613.81 318.08,613.49 C317.47,613.16 316.62,613.00 316.16,612.53 C315.69,612.06 315.62,611.26 315.28,610.67 C314.94,610.07 314.29,609.60 314.12,608.97 C313.96,608.35 314.32,607.56 314.27,606.90 C314.21,606.24 313.79,605.63 313.79,605.00 C313.80,604.37 314.22,603.76 314.30,603.10 C314.38,602.45 314.15,601.72 314.29,601.08 C314.44,600.45 314.89,599.90 315.17,599.28 C315.46,598.66 315.61,597.91 316.02,597.36 C316.42,596.81 317.05,596.39 317.60,595.97 C318.16,595.54 318.73,595.09 319.37,594.80 C320.00,594.51 320.72,594.34 321.41,594.21 C322.10,594.08 322.80,594.05 323.48,594.03 C324.17,594.00 324.84,593.98 325.50,594.05 C326.16,594.13 326.79,594.35 327.43,594.48 C328.08,594.61 328.77,594.59 329.36,594.81 C329.96,595.04 330.45,595.52 331.02,595.83 C331.59,596.14 332.31,596.26 332.79,596.66 C333.26,597.07 333.44,597.78 333.85,598.27 C334.26,598.76 334.95,599.07 335.24,599.60 C335.54,600.13 335.36,600.88 335.62,601.47 C335.87,602.05 336.54,602.51 336.74,603.10 C336.95,603.69 336.70,604.34 336.84,605.00Z" fill="#c9b5e6"/>
<path d="M336.28,605.00 C336.19,605.59 335.86,606.16 335.67,606.72 C335.49,607.29 335.42,607.86 335.18,608.38 C334.94,608.90 334.55,609.37 334.21,609.83 C333.87,610.29 333.53,610.75 333.13,611.15 C332.74,611.55 332.29,611.92 331.81,612.22 C331.34,612.53 330.80,612.74 330.30,612.98 C329.79,613.22 329.32,613.51 328.79,613.68 C328.26,613.84 327.69,613.82 327.14,613.95 C326.60,614.09 326.06,614.41 325.50,614.49 C324.94,614.57 324.38,614.40 323.77,614.43 C323.16,614.46 322.43,614.76 321.83,614.67 C321.23,614.58 320.75,614.12 320.16,613.89 C319.56,613.65 318.75,613.65 318.27,613.27 C317.79,612.90 317.63,612.14 317.26,611.64 C316.89,611.13 316.29,610.78 316.06,610.23 C315.84,609.68 316.01,608.94 315.90,608.35 C315.79,607.77 315.45,607.27 315.40,606.71 C315.35,606.15 315.59,605.57 315.59,605.00 C315.58,604.43 315.36,603.86 315.38,603.29 C315.41,602.72 315.59,602.16 315.72,601.58 C315.86,601.01 315.93,600.38 316.18,599.84 C316.43,599.29 316.81,598.77 317.22,598.33 C317.63,597.89 318.14,597.49 318.66,597.17 C319.18,596.85 319.75,596.57 320.34,596.42 C320.93,596.26 321.59,596.30 322.18,596.25 C322.77,596.19 323.31,596.06 323.86,596.07 C324.41,596.09 324.95,596.35 325.50,596.36 C326.05,596.36 326.59,596.08 327.14,596.10 C327.68,596.11 328.16,596.38 328.75,596.42 C329.35,596.46 330.13,596.18 330.72,596.31 C331.31,596.45 331.72,596.95 332.30,597.22 C332.88,597.50 333.76,597.56 334.23,597.97 C334.71,598.37 334.83,599.10 335.16,599.65 C335.49,600.20 336.05,600.66 336.22,601.26 C336.39,601.85 336.16,602.57 336.17,603.19 C336.18,603.82 336.36,604.41 336.28,605.00Z" fill="#dccdf0"/>
<circle cx="322.33" cy="607.94" r="0.45" fill="#9a86cf"/>
<circle cx="329.83" cy="612.43" r="0.45" fill="#9a86cf"/>
<circle cx="318.90" cy="601.48" r="0.45" fill="#9a86cf"/>
<circle cx="320.23" cy="603.18" r="0.45" fill="#9a86cf"/>
<circle cx="324.71" cy="598.21" r="0.45" fill="#9a86cf"/>
<circle cx="326.93" cy="597.82" r="0.45" fill="#9a86cf"/>
<circle cx="328.67" cy="599.95" r="0.45" fill="#9a86cf"/>
<circle cx="327.46" cy="607.88" r="0.45" fill="#9a86cf"/>
<circle cx="324.88" cy="601.37" r="0.45" fill="#9a86cf"/>
<circle cx="321.50" cy="599.14" r="0.45" fill="#9a86cf"/>
<circle cx="332.92" cy="607.91" r="0.45" fill="#9a86cf"/>
<circle cx="333.70" cy="606.73" r="0.45" fill="#9a86cf"/>
<circle cx="327.76" cy="601.48" r="0.45" fill="#9a86cf"/>
<circle cx="324.35" cy="597.38" r="0.45" fill="#9a86cf"/>
<circle cx="330.71" cy="610.21" r="0.45" fill="#9a86cf"/>
<circle cx="331.63" cy="611.03" r="0.45" fill="#9a86cf"/>
<circle cx="322.16" cy="596.74" r="0.45" fill="#9a86cf"/>
<circle cx="330.29" cy="606.67" r="0.45" fill="#9a86cf"/>
<circle cx="320.38" cy="600.20" r="0.45" fill="#9a86cf"/>
<circle cx="329.01" cy="612.72" r="0.45" fill="#9a86cf"/>
<circle cx="328.32" cy="600.94" r="0.45" fill="#9a86cf"/>
<circle cx="329.97" cy="610.84" r="0.45" fill="#9a86cf"/>
<circle cx="319.38" cy="609.04" r="0.45" fill="#9a86cf"/>
<circle cx="319.85" cy="605.24" r="0.45" fill="#9a86cf"/>
<circle cx="328.78" cy="605.45" r="0.45" fill="#9a86cf"/>
<circle cx="318.08" cy="606.98" r="0.45" fill="#9a86cf"/>
<circle cx="318.57" cy="608.50" r="0.45" fill="#9a86cf"/>
<circle cx="317.32" cy="602.91" r="0.45" fill="#9a86cf"/>
<circle cx="322.63" cy="600.77" r="0.45" fill="#9a86cf"/>
<circle cx="326.98" cy="606.77" r="0.45" fill="#9a86cf"/>
<circle cx="333.60" cy="607.06" r="0.45" fill="#9a86cf"/>
<circle cx="331.00" cy="599.47" r="0.45" fill="#9a86cf"/>
<circle cx="331.16" cy="609.64" r="0.45" fill="#9a86cf"/>
<circle cx="331.40" cy="611.10" r="0.45" fill="#9a86cf"/>
<circle cx="321.14" cy="598.54" r="0.45" fill="#9a86cf"/>
<circle cx="320.99" cy="601.32" r="0.45" fill="#9a86cf"/>
<circle cx="330.62" cy="597.81" r="0.45" fill="#9a86cf"/>
<circle cx="325.81" cy="610.94" r="0.45" fill="#9a86cf"/>
<circle cx="324.73" cy="597.62" r="0.45" fill="#9a86cf"/>
<circle cx="320.39" cy="608.22" r="0.45" fill="#9a86cf"/>
<circle cx="330.13" cy="604.05" r="0.45" fill="#9a86cf"/>
<circle cx="327.28" cy="612.24" r="0.45" fill="#9a86cf"/>
<circle cx="324.06" cy="613.40" r="0.45" fill="#9a86cf"/>
<circle cx="321.54" cy="612.69" r="0.45" fill="#9a86cf"/>
<circle cx="319.33" cy="610.80" r="0.45" fill="#9a86cf"/>
<circle cx="325.55" cy="597.30" r="0.45" fill="#9a86cf"/>
<circle cx="326.31" cy="608.56" r="0.45" fill="#9a86cf"/>
<circle cx="329.25" cy="605.74" r="0.45" fill="#9a86cf"/>
<circle cx="324.36" cy="603.02" r="0.45" fill="#9a86cf"/>
<circle cx="326.04" cy="611.76" r="0.45" fill="#9a86cf"/>
<circle cx="328.40" cy="609.27" r="0.45" fill="#9a86cf"/>
<circle cx="326.50" cy="612.33" r="0.45" fill="#9a86cf"/>
<circle cx="332.11" cy="611.09" r="0.45" fill="#9a86cf"/>
<circle cx="319.32" cy="600.58" r="0.45" fill="#9a86cf"/>
<circle cx="319.49" cy="602.94" r="0.45" fill="#9a86cf"/>
<circle cx="333.86" cy="603.44" r="0.45" fill="#9a86cf"/>
<circle cx="326.18" cy="603.60" r="0.45" fill="#9a86cf"/>
<circle cx="318.11" cy="600.34" r="0.45" fill="#9a86cf"/>
<circle cx="321.34" cy="600.08" r="0.45" fill="#9a86cf"/>
<circle cx="323.27" cy="601.94" r="0.45" fill="#9a86cf"/>
<circle cx="324.39" cy="597.11" r="0.45" fill="#9a86cf"/>
<circle cx="331.28" cy="607.80" r="0.45" fill="#9a86cf"/>
<path d="M320,606 C321,601 327,600 328,604 C329,607 325,607 324,610 C322,612 319.5,609 320,606Z" fill="#b79bd6"/>
<path d="M355.65,609.50 C355.61,610.10 355.52,610.67 355.46,611.27 C355.41,611.87 355.37,612.46 355.32,613.11 C355.27,613.75 355.35,614.50 355.17,615.13 C354.98,615.77 354.52,616.28 354.19,616.90 C353.86,617.53 353.70,618.40 353.20,618.88 C352.70,619.36 351.83,619.44 351.19,619.79 C350.55,620.14 350.03,620.78 349.35,620.99 C348.68,621.19 347.85,621.00 347.12,621.04 C346.39,621.08 345.70,621.26 345.00,621.25 C344.30,621.24 343.59,621.11 342.89,620.99 C342.19,620.87 341.51,620.70 340.82,620.53 C340.12,620.36 339.35,620.27 338.72,619.95 C338.09,619.63 337.62,619.04 337.04,618.61 C336.46,618.18 335.65,617.92 335.23,617.37 C334.81,616.82 334.81,615.95 334.52,615.31 C334.22,614.67 333.62,614.18 333.44,613.54 C333.27,612.89 333.51,612.12 333.48,611.45 C333.46,610.78 333.29,610.15 333.31,609.50 C333.33,608.85 333.48,608.21 333.62,607.57 C333.75,606.94 333.95,606.33 334.14,605.71 C334.33,605.08 334.44,604.39 334.78,603.84 C335.12,603.28 335.74,602.90 336.17,602.39 C336.60,601.87 336.84,601.15 337.36,600.76 C337.89,600.38 338.73,600.40 339.33,600.08 C339.93,599.76 340.36,599.12 340.96,598.86 C341.57,598.59 342.31,598.68 342.98,598.50 C343.65,598.33 344.30,597.97 345.00,597.81 C345.70,597.66 346.44,597.59 347.19,597.57 C347.94,597.55 348.71,597.58 349.48,597.68 C350.25,597.79 351.13,597.85 351.81,598.18 C352.49,598.52 352.99,599.19 353.56,599.70 C354.13,600.22 354.88,600.61 355.21,601.27 C355.54,601.93 355.39,602.94 355.54,603.66 C355.69,604.38 356.10,604.94 356.12,605.62 C356.14,606.29 355.74,607.05 355.66,607.70 C355.58,608.34 355.68,608.90 355.65,609.50Z" fill="#d9b8df"/>
<path d="M354.94,609.50 C355.06,610.08 355.63,610.71 355.68,611.31 C355.73,611.90 355.31,612.44 355.22,613.07 C355.13,613.71 355.39,614.54 355.15,615.12 C354.90,615.70 354.18,616.04 353.75,616.55 C353.32,617.05 353.10,617.80 352.56,618.15 C352.01,618.49 351.11,618.40 350.48,618.61 C349.85,618.82 349.37,619.32 348.75,619.40 C348.14,619.49 347.39,619.08 346.76,619.10 C346.14,619.12 345.59,619.53 345.00,619.52 C344.41,619.51 343.86,619.08 343.25,619.04 C342.63,619.00 341.89,619.38 341.30,619.26 C340.70,619.15 340.26,618.60 339.68,618.35 C339.09,618.11 338.25,618.15 337.77,617.77 C337.29,617.40 337.16,616.62 336.80,616.10 C336.44,615.59 335.81,615.26 335.62,614.70 C335.43,614.14 335.74,613.35 335.66,612.76 C335.59,612.17 335.16,611.71 335.15,611.17 C335.15,610.62 335.63,610.06 335.64,609.50 C335.64,608.94 335.17,608.38 335.17,607.84 C335.17,607.29 335.59,606.83 335.64,606.23 C335.69,605.63 335.34,604.82 335.48,604.23 C335.63,603.63 336.20,603.24 336.51,602.66 C336.83,602.09 336.90,601.21 337.36,600.75 C337.81,600.30 338.63,600.23 339.23,599.91 C339.83,599.59 340.31,598.97 340.95,598.82 C341.59,598.67 342.40,599.04 343.08,599.03 C343.75,599.03 344.38,598.68 345.00,598.78 C345.62,598.88 346.20,599.46 346.81,599.64 C347.42,599.82 348.12,599.61 348.65,599.86 C349.19,600.11 349.53,600.79 350.04,601.12 C350.54,601.46 351.27,601.47 351.68,601.86 C352.09,602.25 352.15,603.00 352.50,603.46 C352.84,603.93 353.50,604.17 353.75,604.65 C354.00,605.13 353.81,605.82 354.01,606.35 C354.22,606.88 354.82,607.29 354.98,607.81 C355.13,608.34 354.82,608.92 354.94,609.50Z" fill="#ead3ec"/>
<path d="M339,612 C340,605 351,604 352,609 C352.5,613 346,612 344,616 C342,619 338.5,616 339,612Z" fill="#b47fc6"/>
<path d="M352.22,628.50 C352.22,629.04 352.56,629.59 352.53,630.11 C352.51,630.64 352.21,631.14 352.07,631.67 C351.92,632.20 351.87,632.78 351.64,633.29 C351.42,633.80 351.08,634.28 350.71,634.71 C350.34,635.13 349.86,635.48 349.42,635.84 C348.97,636.20 348.55,636.63 348.03,636.86 C347.51,637.10 346.86,637.05 346.31,637.23 C345.76,637.42 345.29,637.86 344.74,637.98 C344.19,638.09 343.59,637.84 343.00,637.91 C342.41,637.99 341.78,638.40 341.18,638.43 C340.57,638.46 339.97,638.23 339.36,638.11 C338.74,637.98 338.05,637.93 337.48,637.68 C336.90,637.43 336.36,637.04 335.92,636.60 C335.48,636.17 335.15,635.59 334.86,635.06 C334.56,634.53 334.23,634.00 334.13,633.42 C334.03,632.83 334.28,632.12 334.27,631.55 C334.26,630.98 334.02,630.52 334.08,630.01 C334.13,629.50 334.58,629.00 334.61,628.50 C334.65,628.00 334.31,627.52 334.30,627.03 C334.28,626.53 334.48,626.07 334.52,625.54 C334.57,625.00 334.47,624.39 334.57,623.83 C334.67,623.26 334.86,622.68 335.14,622.16 C335.41,621.65 335.80,621.17 336.20,620.72 C336.60,620.27 337.02,619.73 337.56,619.45 C338.09,619.16 338.80,619.18 339.40,619.01 C340.00,618.84 340.55,618.46 341.15,618.43 C341.75,618.41 342.39,618.80 343.00,618.85 C343.61,618.91 344.21,618.67 344.79,618.76 C345.36,618.86 345.89,619.22 346.44,619.43 C346.99,619.64 347.59,619.74 348.11,620.01 C348.62,620.27 349.12,620.63 349.54,621.02 C349.97,621.40 350.31,621.88 350.67,622.32 C351.02,622.77 351.45,623.19 351.66,623.70 C351.87,624.21 351.78,624.85 351.92,625.38 C352.06,625.92 352.46,626.37 352.51,626.89 C352.56,627.41 352.21,627.96 352.22,628.50Z" fill="#c4b3e4"/>
<path d="M351.14,628.50 C351.17,628.96 351.21,629.43 351.16,629.88 C351.11,630.34 350.88,630.74 350.82,631.23 C350.76,631.72 350.93,632.33 350.79,632.82 C350.66,633.31 350.31,633.72 350.01,634.15 C349.72,634.58 349.42,635.04 349.05,635.42 C348.67,635.80 348.26,636.21 347.76,636.41 C347.27,636.61 346.61,636.51 346.08,636.62 C345.55,636.73 345.09,637.04 344.58,637.08 C344.06,637.11 343.51,636.93 343.00,636.82 C342.49,636.72 342.02,636.57 341.54,636.45 C341.06,636.33 340.54,636.33 340.11,636.12 C339.68,635.91 339.37,635.46 338.97,635.19 C338.57,634.93 338.07,634.84 337.71,634.56 C337.34,634.28 337.04,633.89 336.78,633.51 C336.52,633.13 336.40,632.68 336.16,632.29 C335.92,631.90 335.52,631.59 335.34,631.18 C335.16,630.77 335.22,630.28 335.09,629.84 C334.96,629.39 334.69,628.97 334.54,628.50 C334.40,628.03 334.24,627.51 334.23,627.02 C334.22,626.52 334.41,626.05 334.48,625.52 C334.54,625.00 334.43,624.35 334.62,623.86 C334.82,623.37 335.28,622.97 335.66,622.59 C336.04,622.20 336.46,621.83 336.91,621.54 C337.37,621.25 337.86,620.95 338.40,620.85 C338.94,620.75 339.61,620.97 340.13,620.94 C340.66,620.90 341.08,620.65 341.55,620.63 C342.03,620.61 342.53,620.77 343.00,620.83 C343.47,620.88 343.91,620.93 344.39,620.95 C344.86,620.97 345.40,620.83 345.87,620.93 C346.34,621.03 346.72,621.36 347.19,621.54 C347.66,621.72 348.26,621.74 348.69,621.99 C349.12,622.24 349.50,622.63 349.79,623.03 C350.08,623.43 350.21,623.94 350.43,624.38 C350.64,624.83 350.97,625.22 351.06,625.68 C351.15,626.15 350.95,626.68 350.97,627.15 C350.98,627.62 351.10,628.04 351.14,628.50Z" fill="#d6caef"/>
<circle cx="340.10" cy="632.39" r="0.45" fill="#8f7ccb"/>
<circle cx="338.85" cy="629.74" r="0.45" fill="#8f7ccb"/>
<circle cx="338.38" cy="628.14" r="0.45" fill="#8f7ccb"/>
<circle cx="347.63" cy="629.72" r="0.45" fill="#8f7ccb"/>
<circle cx="345.34" cy="628.85" r="0.45" fill="#8f7ccb"/>
<circle cx="342.37" cy="635.74" r="0.45" fill="#8f7ccb"/>
<circle cx="337.57" cy="629.13" r="0.45" fill="#8f7ccb"/>
<circle cx="349.09" cy="625.02" r="0.45" fill="#8f7ccb"/>
<circle cx="339.77" cy="627.04" r="0.45" fill="#8f7ccb"/>
<circle cx="338.61" cy="627.85" r="0.45" fill="#8f7ccb"/>
<circle cx="344.30" cy="628.15" r="0.45" fill="#8f7ccb"/>
<circle cx="338.68" cy="632.86" r="0.45" fill="#8f7ccb"/>
<circle cx="338.55" cy="625.22" r="0.45" fill="#8f7ccb"/>
<circle cx="343.27" cy="624.90" r="0.45" fill="#8f7ccb"/>
<circle cx="346.82" cy="622.54" r="0.45" fill="#8f7ccb"/>
<circle cx="347.17" cy="629.44" r="0.45" fill="#8f7ccb"/>
<circle cx="340.02" cy="631.98" r="0.45" fill="#8f7ccb"/>
<circle cx="339.40" cy="627.57" r="0.45" fill="#8f7ccb"/>
<circle cx="338.88" cy="622.91" r="0.45" fill="#8f7ccb"/>
<circle cx="349.10" cy="625.49" r="0.45" fill="#8f7ccb"/>
<circle cx="344.25" cy="634.76" r="0.45" fill="#8f7ccb"/>
<circle cx="343.83" cy="622.81" r="0.45" fill="#8f7ccb"/>
<circle cx="341.20" cy="624.97" r="0.45" fill="#8f7ccb"/>
<circle cx="343.52" cy="624.92" r="0.45" fill="#8f7ccb"/>
<circle cx="339.44" cy="627.21" r="0.45" fill="#8f7ccb"/>
<circle cx="341.55" cy="628.20" r="0.45" fill="#8f7ccb"/>
<circle cx="340.51" cy="634.54" r="0.45" fill="#8f7ccb"/>
<circle cx="342.59" cy="634.81" r="0.45" fill="#8f7ccb"/>
<circle cx="344.77" cy="623.02" r="0.45" fill="#8f7ccb"/>
<circle cx="340.66" cy="626.08" r="0.45" fill="#8f7ccb"/>
<circle cx="335.77" cy="629.17" r="0.45" fill="#8f7ccb"/>
<circle cx="348.50" cy="627.99" r="0.45" fill="#8f7ccb"/>
<circle cx="336.12" cy="631.03" r="0.45" fill="#8f7ccb"/>
<circle cx="336.65" cy="626.57" r="0.45" fill="#8f7ccb"/>
<circle cx="346.31" cy="630.40" r="0.45" fill="#8f7ccb"/>
<circle cx="345.10" cy="623.45" r="0.45" fill="#8f7ccb"/>
<circle cx="343.99" cy="623.72" r="0.45" fill="#8f7ccb"/>
<circle cx="344.17" cy="627.84" r="0.45" fill="#8f7ccb"/>
<circle cx="342.44" cy="634.41" r="0.45" fill="#8f7ccb"/>
<circle cx="336.96" cy="627.85" r="0.45" fill="#8f7ccb"/>
<circle cx="336.87" cy="629.60" r="0.45" fill="#8f7ccb"/>
<circle cx="344.25" cy="624.54" r="0.45" fill="#8f7ccb"/>
<circle cx="346.61" cy="629.01" r="0.45" fill="#8f7ccb"/>
<circle cx="338.82" cy="634.58" r="0.45" fill="#8f7ccb"/>
<circle cx="348.94" cy="626.90" r="0.45" fill="#8f7ccb"/>
<circle cx="346.16" cy="634.86" r="0.45" fill="#8f7ccb"/>
<path d="M329.41,624.50 C329.33,625.18 329.02,625.83 328.90,626.51 C328.78,627.20 328.94,627.96 328.70,628.59 C328.45,629.21 327.77,629.67 327.43,630.28 C327.09,630.90 327.09,631.75 326.66,632.28 C326.22,632.81 325.42,633.06 324.84,633.47 C324.25,633.87 323.78,634.43 323.15,634.72 C322.52,635.01 321.75,635.09 321.07,635.22 C320.38,635.36 319.70,635.45 319.02,635.51 C318.35,635.58 317.67,635.67 317.00,635.63 C316.33,635.58 315.70,635.33 315.03,635.25 C314.35,635.17 313.58,635.37 312.96,635.17 C312.33,634.97 311.88,634.34 311.26,634.05 C310.64,633.75 309.77,633.77 309.23,633.38 C308.69,633.00 308.45,632.26 308.02,631.73 C307.59,631.21 307.00,630.80 306.66,630.23 C306.31,629.67 306.17,628.99 305.95,628.36 C305.72,627.74 305.51,627.12 305.31,626.48 C305.12,625.83 304.87,625.18 304.77,624.50 C304.68,623.82 304.78,623.15 304.75,622.43 C304.71,621.70 304.40,620.85 304.55,620.15 C304.71,619.45 305.34,618.90 305.68,618.22 C306.02,617.55 306.08,616.65 306.59,616.12 C307.10,615.59 308.04,615.37 308.73,615.04 C309.43,614.71 310.04,614.29 310.76,614.13 C311.48,613.97 312.33,614.08 313.06,614.10 C313.78,614.12 314.46,614.20 315.12,614.24 C315.77,614.29 316.39,614.29 317.00,614.36 C317.61,614.43 318.17,614.67 318.80,614.68 C319.44,614.69 320.17,614.37 320.82,614.44 C321.46,614.51 321.96,614.95 322.65,615.10 C323.35,615.25 324.34,615.07 325.00,615.35 C325.65,615.63 326.05,616.29 326.59,616.77 C327.13,617.26 327.84,617.68 328.24,618.27 C328.63,618.86 328.79,619.63 328.98,620.32 C329.16,621.01 329.27,621.71 329.34,622.41 C329.42,623.11 329.48,623.82 329.41,624.50Z" fill="#d9b8df"/>
<path d="M327.22,624.50 C327.20,625.06 326.97,625.60 326.93,626.18 C326.88,626.76 327.04,627.40 326.93,627.97 C326.82,628.54 326.48,629.06 326.24,629.62 C326.00,630.18 325.87,630.86 325.49,631.34 C325.12,631.82 324.49,632.12 323.98,632.48 C323.46,632.84 322.99,633.29 322.41,633.50 C321.83,633.71 321.11,633.64 320.50,633.73 C319.89,633.83 319.34,634.04 318.76,634.06 C318.17,634.08 317.59,633.85 317.00,633.85 C316.41,633.85 315.83,634.07 315.24,634.07 C314.66,634.06 314.10,633.86 313.48,633.80 C312.85,633.73 312.10,633.85 311.48,633.68 C310.85,633.52 310.32,633.14 309.72,632.82 C309.13,632.51 308.40,632.26 307.93,631.81 C307.46,631.35 307.21,630.68 306.89,630.10 C306.57,629.53 306.14,628.97 306.00,628.34 C305.85,627.72 306.01,627.00 306.01,626.36 C306.01,625.72 305.89,625.10 305.99,624.50 C306.10,623.90 306.46,623.32 306.64,622.75 C306.83,622.17 306.84,621.56 307.10,621.04 C307.36,620.52 307.85,620.10 308.19,619.62 C308.53,619.14 308.73,618.57 309.13,618.16 C309.54,617.76 310.15,617.54 310.62,617.20 C311.09,616.87 311.48,616.41 311.98,616.15 C312.49,615.90 313.11,615.87 313.65,615.66 C314.19,615.45 314.68,615.07 315.24,614.91 C315.80,614.75 316.39,614.80 317.00,614.68 C317.61,614.55 318.26,614.21 318.90,614.16 C319.54,614.11 320.17,614.29 320.84,614.37 C321.51,614.45 322.30,614.41 322.92,614.66 C323.54,614.91 324.03,615.43 324.56,615.86 C325.08,616.28 325.69,616.67 326.05,617.21 C326.40,617.76 326.49,618.51 326.69,619.13 C326.88,619.75 327.17,620.31 327.24,620.92 C327.30,621.53 327.08,622.20 327.08,622.79 C327.07,623.39 327.25,623.94 327.22,624.50Z" fill="#ead3ec"/>
<path d="M312,627 C314,618 321,617 322,622 C322.5,628 317,627 316,633 C314,634 311.5,631 312,627Z" fill="#b98bc9"/>
<path d="M378.76,634.00 C378.73,634.56 378.76,635.08 378.77,635.65 C378.79,636.23 378.88,636.83 378.84,637.44 C378.80,638.04 378.68,638.65 378.55,639.29 C378.42,639.94 378.37,640.71 378.07,641.31 C377.77,641.90 377.22,642.36 376.75,642.87 C376.28,643.38 375.86,644.06 375.25,644.39 C374.65,644.73 373.81,644.69 373.12,644.87 C372.43,645.05 371.79,645.47 371.11,645.48 C370.42,645.48 369.69,644.99 369.00,644.90 C368.31,644.81 367.62,645.11 366.99,644.95 C366.36,644.79 365.84,644.19 365.23,643.93 C364.62,643.68 363.88,643.74 363.34,643.42 C362.80,643.10 362.46,642.44 362.00,642.01 C361.53,641.58 360.90,641.31 360.53,640.82 C360.16,640.34 360.04,639.66 359.78,639.11 C359.52,638.56 359.16,638.06 358.97,637.50 C358.79,636.94 358.77,636.33 358.67,635.75 C358.57,635.16 358.43,634.59 358.36,634.00 C358.29,633.41 358.23,632.79 358.24,632.18 C358.26,631.57 358.34,630.94 358.46,630.32 C358.57,629.69 358.64,628.99 358.92,628.41 C359.19,627.83 359.68,627.34 360.09,626.82 C360.51,626.31 360.86,625.68 361.40,625.31 C361.94,624.93 362.72,624.84 363.33,624.57 C363.94,624.30 364.46,623.82 365.09,623.68 C365.72,623.54 366.46,623.80 367.11,623.70 C367.76,623.61 368.36,623.15 369.00,623.11 C369.64,623.07 370.25,623.46 370.93,623.48 C371.61,623.50 372.42,623.12 373.08,623.24 C373.74,623.35 374.28,623.89 374.90,624.19 C375.53,624.49 376.33,624.60 376.83,625.04 C377.33,625.48 377.57,626.24 377.90,626.83 C378.23,627.42 378.65,627.94 378.81,628.56 C378.97,629.18 378.85,629.92 378.87,630.55 C378.89,631.18 378.95,631.74 378.93,632.32 C378.91,632.89 378.79,633.44 378.76,634.00Z" fill="#d9b8df"/>
<path d="M378.97,634.00 C379.07,634.54 378.82,635.07 378.86,635.67 C378.91,636.27 379.30,636.98 379.23,637.58 C379.17,638.17 378.74,638.69 378.47,639.25 C378.19,639.80 377.99,640.45 377.57,640.91 C377.16,641.36 376.53,641.69 375.96,641.97 C375.39,642.24 374.75,642.42 374.15,642.56 C373.55,642.71 372.94,642.83 372.34,642.82 C371.75,642.81 371.12,642.54 370.56,642.51 C370.01,642.48 369.51,642.68 369.00,642.62 C368.49,642.56 368.04,642.17 367.51,642.14 C366.97,642.10 366.35,642.45 365.81,642.41 C365.27,642.37 364.81,642.04 364.26,641.88 C363.72,641.71 363.04,641.67 362.53,641.40 C362.02,641.14 361.59,640.70 361.20,640.28 C360.81,639.86 360.48,639.37 360.20,638.88 C359.92,638.38 359.64,637.86 359.52,637.31 C359.41,636.77 359.56,636.16 359.51,635.61 C359.46,635.05 359.18,634.53 359.22,634.00 C359.25,633.47 359.65,632.98 359.71,632.43 C359.76,631.88 359.44,631.24 359.53,630.69 C359.62,630.15 360.03,629.69 360.26,629.15 C360.48,628.62 360.58,627.97 360.91,627.48 C361.23,626.99 361.73,626.59 362.20,626.22 C362.68,625.85 363.21,625.54 363.76,625.28 C364.30,625.02 364.87,624.75 365.46,624.66 C366.05,624.56 366.70,624.73 367.30,624.72 C367.89,624.70 368.45,624.49 369.00,624.58 C369.55,624.67 370.06,625.14 370.60,625.27 C371.15,625.40 371.77,625.19 372.28,625.36 C372.78,625.53 373.17,626.00 373.64,626.28 C374.11,626.56 374.68,626.70 375.10,627.02 C375.52,627.35 375.84,627.81 376.17,628.22 C376.50,628.64 376.79,629.08 377.07,629.52 C377.36,629.97 377.69,630.41 377.89,630.90 C378.08,631.38 378.06,631.92 378.24,632.44 C378.42,632.95 378.87,633.46 378.97,634.00Z" fill="#ead3ec"/>
<path d="M364,634 C366,627 375,628 375,634 C375,639 370,637 368,641 C366,642 363.5,638 364,634Z" fill="#b47fc6"/>
<path d="M365.74,643.50 C365.85,644.17 365.66,644.85 365.64,645.55 C365.62,646.26 365.75,647.03 365.62,647.74 C365.49,648.44 365.24,649.17 364.89,649.81 C364.53,650.45 364.01,651.02 363.50,651.55 C362.98,652.08 362.47,652.68 361.80,652.99 C361.12,653.30 360.17,653.24 359.45,653.39 C358.73,653.55 358.14,653.93 357.45,653.93 C356.76,653.93 355.98,653.44 355.32,653.39 C354.66,653.35 354.11,653.65 353.50,653.65 C352.89,653.65 352.32,653.40 351.68,653.39 C351.05,653.37 350.37,653.56 349.69,653.55 C349.01,653.54 348.28,653.49 347.59,653.33 C346.89,653.18 346.21,652.92 345.52,652.63 C344.83,652.34 343.99,652.08 343.45,651.59 C342.92,651.10 342.70,650.33 342.30,649.71 C341.90,649.08 341.24,648.54 341.05,647.85 C340.86,647.16 341.20,646.31 341.16,645.59 C341.13,644.86 340.80,644.19 340.85,643.50 C340.91,642.81 341.30,642.14 341.49,641.47 C341.68,640.80 341.73,640.11 341.97,639.47 C342.22,638.84 342.56,638.22 342.95,637.65 C343.34,637.09 343.83,636.59 344.30,636.09 C344.76,635.58 345.16,634.98 345.74,634.62 C346.31,634.26 347.12,634.22 347.75,633.94 C348.38,633.66 348.86,633.11 349.50,632.95 C350.14,632.80 350.91,633.10 351.57,633.01 C352.24,632.92 352.85,632.49 353.50,632.43 C354.15,632.36 354.81,632.59 355.50,632.63 C356.18,632.68 356.91,632.58 357.60,632.70 C358.28,632.81 358.98,633.04 359.61,633.33 C360.25,633.63 360.82,634.05 361.40,634.46 C361.97,634.87 362.65,635.25 363.06,635.80 C363.47,636.35 363.55,637.14 363.87,637.75 C364.19,638.37 364.79,638.86 364.98,639.49 C365.17,640.12 364.89,640.88 365.02,641.55 C365.14,642.22 365.64,642.83 365.74,643.50Z" fill="#d9b8df"/>
<path d="M363.94,643.50 C363.85,644.10 364.04,644.71 363.88,645.26 C363.72,645.81 363.22,646.28 362.98,646.81 C362.74,647.35 362.76,647.99 362.45,648.46 C362.14,648.93 361.52,649.22 361.12,649.64 C360.73,650.07 360.51,650.67 360.06,651.01 C359.61,651.35 358.93,651.39 358.42,651.67 C357.90,651.95 357.51,652.47 356.98,652.69 C356.45,652.91 355.82,652.80 355.24,652.98 C354.66,653.16 354.11,653.64 353.50,653.77 C352.89,653.90 352.28,653.74 351.61,653.79 C350.94,653.84 350.15,654.16 349.49,654.08 C348.82,653.99 348.25,653.55 347.62,653.28 C346.98,653.01 346.18,652.89 345.68,652.45 C345.18,652.01 344.96,651.23 344.62,650.65 C344.28,650.07 343.79,649.59 343.64,648.97 C343.48,648.35 343.73,647.55 343.70,646.92 C343.67,646.30 343.42,645.77 343.45,645.20 C343.49,644.63 343.89,644.06 343.93,643.50 C343.98,642.94 343.67,642.39 343.72,641.84 C343.76,641.30 344.09,640.82 344.19,640.25 C344.28,639.67 344.09,638.95 344.29,638.39 C344.48,637.84 345.00,637.44 345.34,636.93 C345.68,636.42 345.88,635.71 346.35,635.32 C346.82,634.93 347.57,634.86 348.15,634.60 C348.72,634.34 349.21,633.89 349.81,633.76 C350.41,633.64 351.11,633.89 351.73,633.85 C352.34,633.81 352.91,633.52 353.50,633.52 C354.09,633.52 354.65,633.83 355.27,633.87 C355.89,633.91 356.59,633.65 357.20,633.74 C357.81,633.84 358.32,634.24 358.94,634.45 C359.56,634.66 360.38,634.66 360.93,635.00 C361.48,635.33 361.79,635.98 362.24,636.46 C362.69,636.94 363.34,637.32 363.63,637.89 C363.91,638.45 363.82,639.22 363.96,639.85 C364.09,640.47 364.44,641.04 364.44,641.65 C364.44,642.26 364.04,642.90 363.94,643.50Z" fill="#ead3ec"/>
<path d="M346,648 C347,641 354,639 356,643 C357,647 352,647 351,651 C349,653 345.5,651 346,648Z" fill="#b47fc6"/>
<path d="M372.79,616.00 C372.68,616.64 372.78,617.29 372.60,617.88 C372.42,618.47 371.95,619.00 371.68,619.56 C371.42,620.12 371.33,620.76 370.99,621.26 C370.64,621.75 370.05,622.10 369.61,622.53 C369.17,622.97 368.87,623.52 368.37,623.86 C367.88,624.20 367.19,624.29 366.64,624.55 C366.09,624.80 365.62,625.22 365.06,625.39 C364.50,625.57 363.86,625.48 363.26,625.61 C362.67,625.73 362.10,626.07 361.50,626.15 C360.90,626.23 360.29,626.08 359.65,626.09 C359.00,626.10 358.27,626.32 357.62,626.22 C356.98,626.12 356.41,625.75 355.79,625.50 C355.17,625.24 354.41,625.10 353.89,624.71 C353.37,624.31 353.06,623.64 352.66,623.12 C352.27,622.59 351.75,622.13 351.50,621.54 C351.25,620.96 351.31,620.23 351.17,619.61 C351.02,618.99 350.71,618.44 350.65,617.84 C350.58,617.24 350.80,616.62 350.77,616.00 C350.74,615.38 350.46,614.75 350.49,614.14 C350.52,613.52 350.81,612.94 350.95,612.31 C351.09,611.68 351.06,610.94 351.34,610.37 C351.63,609.80 352.21,609.36 352.66,608.88 C353.12,608.40 353.50,607.82 354.07,607.50 C354.64,607.19 355.44,607.16 356.08,606.99 C356.72,606.83 357.29,606.56 357.91,606.52 C358.53,606.48 359.20,606.75 359.80,606.77 C360.40,606.78 360.94,606.59 361.50,606.60 C362.06,606.60 362.59,606.81 363.19,606.81 C363.78,606.80 364.45,606.54 365.08,606.56 C365.70,606.59 366.27,606.83 366.93,606.96 C367.60,607.10 368.43,607.08 369.05,607.36 C369.67,607.64 370.12,608.19 370.64,608.64 C371.16,609.09 371.82,609.51 372.17,610.09 C372.52,610.66 372.55,611.42 372.73,612.08 C372.90,612.73 373.20,613.36 373.21,614.02 C373.22,614.67 372.89,615.36 372.79,616.00Z" fill="#e27ab8"/>
<path d="M369.98,616.00 C369.95,616.49 370.10,616.97 370.05,617.45 C370.01,617.93 369.76,618.35 369.70,618.87 C369.65,619.38 369.88,620.06 369.73,620.56 C369.58,621.07 369.10,621.41 368.82,621.90 C368.54,622.38 368.43,623.08 368.04,623.48 C367.65,623.88 367.02,624.05 366.50,624.31 C365.98,624.57 365.48,624.88 364.93,625.04 C364.38,625.19 363.77,625.22 363.20,625.25 C362.63,625.27 362.06,625.19 361.50,625.18 C360.94,625.18 360.36,625.29 359.81,625.21 C359.26,625.12 358.78,624.80 358.21,624.67 C357.65,624.54 356.95,624.66 356.43,624.43 C355.91,624.20 355.59,623.65 355.11,623.31 C354.63,622.97 353.96,622.80 353.58,622.38 C353.20,621.97 353.06,621.33 352.83,620.81 C352.59,620.29 352.30,619.80 352.17,619.26 C352.03,618.73 352.03,618.15 352.03,617.60 C352.03,617.06 352.14,616.53 352.19,616.00 C352.23,615.47 352.15,614.94 352.28,614.44 C352.41,613.94 352.80,613.52 352.98,613.02 C353.16,612.53 353.09,611.92 353.35,611.48 C353.61,611.05 354.21,610.81 354.56,610.41 C354.91,610.01 355.06,609.42 355.45,609.08 C355.85,608.74 356.44,608.63 356.92,608.38 C357.39,608.13 357.81,607.79 358.30,607.57 C358.79,607.35 359.33,607.21 359.86,607.07 C360.39,606.93 360.93,606.85 361.50,606.73 C362.07,606.61 362.69,606.34 363.28,606.33 C363.87,606.31 364.43,606.55 365.05,606.64 C365.67,606.73 366.44,606.62 366.99,606.88 C367.53,607.14 367.87,607.77 368.32,608.19 C368.77,608.61 369.39,608.90 369.68,609.41 C369.98,609.92 369.98,610.66 370.09,611.24 C370.21,611.82 370.35,612.35 370.37,612.90 C370.39,613.45 370.28,614.01 370.22,614.52 C370.15,615.04 370.01,615.51 369.98,616.00Z" fill="#f0a6cf"/>
<circle cx="355.63" cy="610.68" r="0.45" fill="#d0609f"/>
<circle cx="354.68" cy="617.91" r="0.45" fill="#d0609f"/>
<circle cx="367.09" cy="613.66" r="0.45" fill="#d0609f"/>
<circle cx="360.77" cy="608.87" r="0.45" fill="#d0609f"/>
<circle cx="362.51" cy="614.75" r="0.45" fill="#d0609f"/>
<circle cx="365.57" cy="623.33" r="0.45" fill="#d0609f"/>
<circle cx="361.41" cy="611.71" r="0.45" fill="#d0609f"/>
<circle cx="361.34" cy="612.55" r="0.45" fill="#d0609f"/>
<circle cx="357.94" cy="620.29" r="0.45" fill="#d0609f"/>
<circle cx="361.91" cy="619.10" r="0.45" fill="#d0609f"/>
<circle cx="354.75" cy="615.68" r="0.45" fill="#d0609f"/>
<circle cx="358.66" cy="622.21" r="0.45" fill="#d0609f"/>
<circle cx="363.46" cy="615.78" r="0.45" fill="#d0609f"/>
<circle cx="361.05" cy="618.49" r="0.45" fill="#d0609f"/>
<circle cx="359.12" cy="611.16" r="0.45" fill="#d0609f"/>
<circle cx="357.62" cy="617.55" r="0.45" fill="#d0609f"/>
<circle cx="362.74" cy="608.79" r="0.45" fill="#d0609f"/>
<circle cx="354.28" cy="618.48" r="0.45" fill="#d0609f"/>
<circle cx="362.08" cy="620.89" r="0.45" fill="#d0609f"/>
<circle cx="365.37" cy="614.95" r="0.45" fill="#d0609f"/>
<circle cx="362.43" cy="617.18" r="0.45" fill="#d0609f"/>
<circle cx="357.93" cy="609.28" r="0.45" fill="#d0609f"/>
<circle cx="367.00" cy="617.85" r="0.45" fill="#d0609f"/>
<circle cx="357.67" cy="618.91" r="0.45" fill="#d0609f"/>
<circle cx="361.99" cy="621.18" r="0.45" fill="#d0609f"/>
<circle cx="366.59" cy="622.26" r="0.45" fill="#d0609f"/>
<circle cx="363.43" cy="621.83" r="0.45" fill="#d0609f"/>
<circle cx="357.19" cy="610.73" r="0.45" fill="#d0609f"/>
<circle cx="355.50" cy="616.98" r="0.45" fill="#d0609f"/>
<circle cx="364.72" cy="614.64" r="0.45" fill="#d0609f"/>
<circle cx="362.91" cy="620.40" r="0.45" fill="#d0609f"/>
<circle cx="361.16" cy="610.54" r="0.45" fill="#d0609f"/>
<circle cx="359.70" cy="617.49" r="0.45" fill="#d0609f"/>
<circle cx="366.26" cy="620.83" r="0.45" fill="#d0609f"/>
<circle cx="362.25" cy="621.65" r="0.45" fill="#d0609f"/>
<circle cx="361.86" cy="620.67" r="0.45" fill="#d0609f"/>
<circle cx="364.38" cy="623.47" r="0.45" fill="#d0609f"/>
<circle cx="357.33" cy="611.88" r="0.45" fill="#d0609f"/>
<circle cx="362.51" cy="623.62" r="0.45" fill="#d0609f"/>
<circle cx="358.65" cy="614.84" r="0.45" fill="#d0609f"/>
<circle cx="364.96" cy="623.42" r="0.45" fill="#d0609f"/>
<circle cx="359.15" cy="620.84" r="0.45" fill="#d0609f"/>
<circle cx="367.96" cy="620.47" r="0.45" fill="#d0609f"/>
<circle cx="361.68" cy="622.30" r="0.45" fill="#d0609f"/>
<circle cx="360.47" cy="609.93" r="0.45" fill="#d0609f"/>
<circle cx="358.45" cy="619.01" r="0.45" fill="#d0609f"/>
<circle cx="360.02" cy="612.00" r="0.45" fill="#d0609f"/>
<circle cx="355.38" cy="610.52" r="0.45" fill="#d0609f"/>
<circle cx="367.59" cy="612.79" r="0.45" fill="#d0609f"/>
<circle cx="358.75" cy="614.11" r="0.45" fill="#d0609f"/>
<circle cx="364.60" cy="608.61" r="0.45" fill="#d0609f"/>
<circle cx="360.31" cy="617.72" r="0.45" fill="#d0609f"/>
<circle cx="356.09" cy="614.89" r="0.45" fill="#d0609f"/>
<circle cx="365.77" cy="610.09" r="0.45" fill="#d0609f"/>
<circle cx="355.93" cy="618.56" r="0.45" fill="#d0609f"/>
<circle cx="354.72" cy="616.85" r="0.45" fill="#d0609f"/>
<path d="M357,611 C358,607 366,607 366,612 C366,616 361,615 362,619 C363,622 357,623 356,619 C355,616 359,615 357,611Z" fill="#7b3394"/>
<path d="M342.28,635.00 C342.40,635.61 342.07,636.21 342.10,636.88 C342.13,637.55 342.55,638.34 342.46,639.00 C342.37,639.67 341.87,640.23 341.59,640.87 C341.30,641.51 341.19,642.31 340.75,642.85 C340.31,643.39 339.56,643.71 338.95,644.10 C338.35,644.49 337.79,644.95 337.13,645.19 C336.47,645.44 335.70,645.47 335.01,645.58 C334.32,645.69 333.66,645.80 332.99,645.86 C332.33,645.91 331.66,645.90 331.00,645.89 C330.34,645.89 329.69,645.86 329.01,645.83 C328.33,645.80 327.61,645.85 326.94,645.70 C326.28,645.55 325.66,645.23 325.02,644.95 C324.38,644.67 323.61,644.48 323.10,644.04 C322.59,643.60 322.32,642.86 321.95,642.29 C321.57,641.72 321.03,641.25 320.85,640.63 C320.67,640.00 320.95,639.18 320.88,638.54 C320.81,637.90 320.41,637.38 320.43,636.79 C320.44,636.20 320.96,635.60 320.96,635.00 C320.96,634.40 320.45,633.80 320.43,633.21 C320.41,632.62 320.77,632.09 320.81,631.44 C320.86,630.79 320.56,629.96 320.70,629.29 C320.84,628.63 321.30,628.09 321.63,627.46 C321.97,626.82 322.21,626.03 322.70,625.50 C323.19,624.98 323.93,624.67 324.58,624.32 C325.23,623.98 325.90,623.61 326.61,623.43 C327.33,623.26 328.12,623.27 328.85,623.28 C329.58,623.29 330.30,623.37 331.00,623.47 C331.70,623.58 332.39,623.69 333.04,623.90 C333.69,624.10 334.29,624.44 334.90,624.70 C335.52,624.97 336.18,625.14 336.71,625.51 C337.24,625.87 337.63,626.44 338.10,626.88 C338.58,627.31 339.20,627.60 339.56,628.10 C339.92,628.60 339.95,629.33 340.25,629.88 C340.54,630.42 341.12,630.83 341.32,631.39 C341.51,631.95 341.25,632.64 341.41,633.24 C341.58,633.84 342.17,634.39 342.28,635.00Z" fill="#e27ab8"/>
<path d="M341.32,635.00 C341.28,635.59 341.35,636.17 341.26,636.74 C341.18,637.31 341.00,637.87 340.82,638.43 C340.64,638.99 340.45,639.56 340.19,640.09 C339.93,640.63 339.64,641.18 339.25,641.64 C338.86,642.10 338.34,642.47 337.85,642.84 C337.36,643.21 336.89,643.63 336.33,643.86 C335.77,644.08 335.08,644.07 334.49,644.20 C333.89,644.33 333.35,644.61 332.77,644.62 C332.19,644.64 331.58,644.32 331.00,644.28 C330.42,644.25 329.82,644.52 329.27,644.42 C328.72,644.32 328.27,643.84 327.71,643.67 C327.16,643.50 326.44,643.66 325.94,643.41 C325.44,643.17 325.17,642.55 324.71,642.20 C324.25,641.84 323.58,641.69 323.20,641.28 C322.83,640.87 322.77,640.21 322.48,639.72 C322.20,639.23 321.71,638.83 321.48,638.32 C321.26,637.82 321.29,637.22 321.13,636.67 C320.97,636.12 320.66,635.58 320.54,635.00 C320.41,634.42 320.41,633.82 320.40,633.20 C320.38,632.59 320.31,631.93 320.42,631.30 C320.52,630.68 320.73,630.03 321.03,629.47 C321.32,628.91 321.76,628.38 322.22,627.92 C322.68,627.47 323.19,627.01 323.78,626.74 C324.37,626.47 325.13,626.41 325.76,626.29 C326.39,626.16 326.98,625.98 327.58,625.99 C328.19,626.00 328.85,626.32 329.41,626.37 C329.98,626.41 330.48,626.21 331.00,626.26 C331.52,626.31 331.99,626.65 332.53,626.66 C333.08,626.68 333.72,626.31 334.28,626.36 C334.83,626.41 335.25,626.82 335.84,626.95 C336.43,627.09 337.28,626.94 337.83,627.19 C338.37,627.44 338.66,628.04 339.12,628.46 C339.57,628.88 340.23,629.20 340.55,629.71 C340.86,630.21 340.85,630.92 341.01,631.50 C341.17,632.09 341.46,632.64 341.51,633.22 C341.56,633.80 341.36,634.41 341.32,635.00Z" fill="#f0a6cf"/>
<circle cx="338.40" cy="639.72" r="0.45" fill="#d0609f"/>
<circle cx="335.55" cy="641.26" r="0.45" fill="#d0609f"/>
<circle cx="335.22" cy="628.46" r="0.45" fill="#d0609f"/>
<circle cx="329.29" cy="640.06" r="0.45" fill="#d0609f"/>
<circle cx="329.44" cy="626.29" r="0.45" fill="#d0609f"/>
<circle cx="327.55" cy="629.36" r="0.45" fill="#d0609f"/>
<circle cx="326.63" cy="638.71" r="0.45" fill="#d0609f"/>
<circle cx="329.86" cy="629.22" r="0.45" fill="#d0609f"/>
<circle cx="324.02" cy="633.48" r="0.45" fill="#d0609f"/>
<circle cx="329.77" cy="633.65" r="0.45" fill="#d0609f"/>
<circle cx="331.92" cy="642.50" r="0.45" fill="#d0609f"/>
<circle cx="323.55" cy="631.48" r="0.45" fill="#d0609f"/>
<circle cx="335.10" cy="636.40" r="0.45" fill="#d0609f"/>
<circle cx="323.22" cy="634.90" r="0.45" fill="#d0609f"/>
<circle cx="333.66" cy="642.41" r="0.45" fill="#d0609f"/>
<circle cx="326.79" cy="637.66" r="0.45" fill="#d0609f"/>
<circle cx="332.41" cy="632.41" r="0.45" fill="#d0609f"/>
<circle cx="335.59" cy="632.97" r="0.45" fill="#d0609f"/>
<circle cx="328.37" cy="638.09" r="0.45" fill="#d0609f"/>
<circle cx="322.91" cy="636.65" r="0.45" fill="#d0609f"/>
<circle cx="332.21" cy="641.59" r="0.45" fill="#d0609f"/>
<circle cx="326.40" cy="636.81" r="0.45" fill="#d0609f"/>
<circle cx="336.14" cy="640.49" r="0.45" fill="#d0609f"/>
<circle cx="325.69" cy="638.14" r="0.45" fill="#d0609f"/>
<circle cx="328.65" cy="633.23" r="0.45" fill="#d0609f"/>
<circle cx="334.51" cy="627.26" r="0.45" fill="#d0609f"/>
<circle cx="330.78" cy="643.13" r="0.45" fill="#d0609f"/>
<circle cx="329.45" cy="630.34" r="0.45" fill="#d0609f"/>
<circle cx="330.68" cy="637.59" r="0.45" fill="#d0609f"/>
<circle cx="325.81" cy="638.11" r="0.45" fill="#d0609f"/>
<circle cx="324.78" cy="635.52" r="0.45" fill="#d0609f"/>
<circle cx="327.97" cy="634.04" r="0.45" fill="#d0609f"/>
<circle cx="332.07" cy="641.64" r="0.45" fill="#d0609f"/>
<circle cx="327.30" cy="635.65" r="0.45" fill="#d0609f"/>
<circle cx="329.51" cy="643.78" r="0.45" fill="#d0609f"/>
<circle cx="333.33" cy="627.69" r="0.45" fill="#d0609f"/>
<circle cx="327.42" cy="639.59" r="0.45" fill="#d0609f"/>
<circle cx="329.11" cy="628.52" r="0.45" fill="#d0609f"/>
<circle cx="329.92" cy="633.69" r="0.45" fill="#d0609f"/>
<circle cx="330.06" cy="631.09" r="0.45" fill="#d0609f"/>
<circle cx="327.93" cy="640.80" r="0.45" fill="#d0609f"/>
<circle cx="336.44" cy="633.20" r="0.45" fill="#d0609f"/>
<circle cx="328.50" cy="631.73" r="0.45" fill="#d0609f"/>
<circle cx="335.16" cy="633.34" r="0.45" fill="#d0609f"/>
<circle cx="323.82" cy="633.12" r="0.45" fill="#d0609f"/>
<circle cx="329.11" cy="629.30" r="0.45" fill="#d0609f"/>
<circle cx="330.45" cy="634.27" r="0.45" fill="#d0609f"/>
<circle cx="337.70" cy="634.38" r="0.45" fill="#d0609f"/>
<circle cx="327.25" cy="632.45" r="0.45" fill="#d0609f"/>
<circle cx="323.84" cy="635.90" r="0.45" fill="#d0609f"/>
<circle cx="328.33" cy="636.64" r="0.45" fill="#d0609f"/>
<circle cx="333.78" cy="642.94" r="0.45" fill="#d0609f"/>
<circle cx="332.77" cy="641.21" r="0.45" fill="#d0609f"/>
<circle cx="329.98" cy="630.89" r="0.45" fill="#d0609f"/>
<circle cx="333.20" cy="629.20" r="0.45" fill="#d0609f"/>
<circle cx="334.85" cy="633.67" r="0.45" fill="#d0609f"/>
<circle cx="326.17" cy="637.45" r="0.45" fill="#d0609f"/>
<circle cx="330.15" cy="640.81" r="0.45" fill="#d0609f"/>
<circle cx="325.93" cy="637.50" r="0.45" fill="#d0609f"/>
<circle cx="334.47" cy="631.22" r="0.45" fill="#d0609f"/>
<circle cx="338.31" cy="637.70" r="0.45" fill="#d0609f"/>
<circle cx="329.69" cy="635.57" r="0.45" fill="#d0609f"/>
<path d="M326,630 C327,626 336,626 336,631 C336,635 331,634 332,638 C333,641 327,642 326,638 C325,635 329,634 326,630Z" fill="#7b3394"/>
<text x="302.10" y="666.20" font-size="8.6" stroke="#c8244c" stroke-width="0.16" fill="#c8244c" textLength="85.90" lengthAdjust="spacingAndGlyphs">Myeloid differentiation</text>
<rect x="0" y="0" width="520" height="1.2" fill="#000"/>
<rect x="0" y="0" width="1.25" height="673" fill="#000"/>
<rect x="518.7" y="0" width="1.3" height="673" fill="#000"/>
<rect x="0" y="671.5" width="520" height="1.4" fill="#000"/>
<rect x="0" y="672.9" width="520" height="1.1" fill="#d9d9d9"/>
</svg></body></html>
